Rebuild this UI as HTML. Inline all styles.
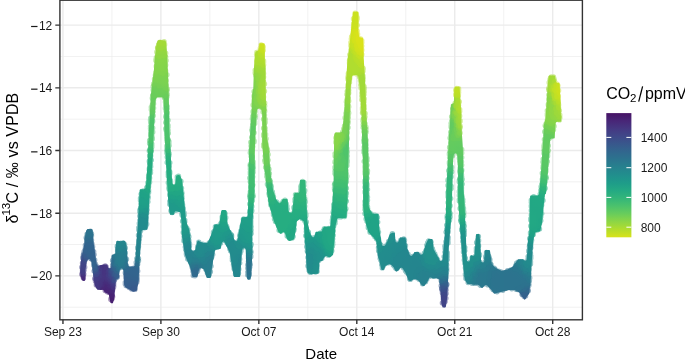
<!DOCTYPE html>
<html><head><meta charset="utf-8"><style>html,body{margin:0;padding:0;background:#fff;overflow:hidden}svg{display:block;will-change:transform}</style></head>
<body><svg width="685" height="363" viewBox="0 0 685 363">
<defs><linearGradient id="cb" x1="0" y1="0" x2="0" y2="1"><stop offset="0.0000" stop-color="#471365"/><stop offset="0.0625" stop-color="#482677"/><stop offset="0.1250" stop-color="#453882"/><stop offset="0.1875" stop-color="#3f4889"/><stop offset="0.2500" stop-color="#38588c"/><stop offset="0.3125" stop-color="#31678e"/><stop offset="0.3750" stop-color="#2b748e"/><stop offset="0.4375" stop-color="#26828e"/><stop offset="0.5000" stop-color="#218f8d"/><stop offset="0.5625" stop-color="#1e9c89"/><stop offset="0.6250" stop-color="#24aa83"/><stop offset="0.6875" stop-color="#34b679"/><stop offset="0.7500" stop-color="#4cc26c"/><stop offset="0.8125" stop-color="#69cd5b"/><stop offset="0.8750" stop-color="#8ed645"/><stop offset="0.9375" stop-color="#b2dd2d"/><stop offset="1.0000" stop-color="#d8e219"/></linearGradient></defs>
<rect x="0" y="0" width="685" height="363" fill="#fff"/>
<path d="M59.9 56.49H582.4M59.9 119.17H582.4M59.9 181.85H582.4M59.9 244.53H582.4M59.9 307.21H582.4M111.93 0.2V319.8M209.88 0.2V319.8M307.83 0.2V319.8M405.78 0.2V319.8M503.73 0.2V319.8" stroke="#EBEBEB" stroke-width="0.72" fill="none"/>
<path d="M59.9 25.15H582.4M59.9 87.83H582.4M59.9 150.51H582.4M59.9 213.19H582.4M59.9 275.87H582.4M62.95 0.2V319.8M160.90 0.2V319.8M258.85 0.2V319.8M356.80 0.2V319.8M454.75 0.2V319.8M552.71 0.2V319.8" stroke="#EBEBEB" stroke-width="1.42" fill="none"/>
<defs><clipPath id="bandclip"><path d="M80.2 268.0L80.2 268.1L80.2 271.8L80.2 272.0L81.3 278.5L81.5 278.9L82.3 280.3L82.6 280.6L83.0 280.8L83.5 280.9L83.9 281.0L84.3 280.9L84.5 280.7L84.9 280.5L85.1 280.2L85.2 279.8L85.6 270.0L85.6 269.8L86.6 262.1L86.8 261.4L87.5 259.9L87.9 259.4L88.4 259.1L89.0 259.0L89.6 259.1L90.1 259.4L90.5 259.9L91.2 261.4L91.4 262.0L92.4 267.8L92.4 268.0L93.4 277.8L93.4 277.9L94.8 285.5L94.9 285.8L96.8 289.1L97.1 289.5L97.6 289.7L100.8 290.0L101.3 290.0L101.4 289.9L102.1 289.7L102.7 289.8L103.3 290.0L103.7 290.6L104.5 292.0L104.7 292.3L105.0 292.5L107.8 293.8L108.5 294.3L108.9 295.1L109.8 299.8L109.8 299.8L110.5 302.5L110.7 302.9L111.1 303.2L111.5 303.3L112.0 303.3L112.5 303.2L112.9 302.9L113.1 302.5L114.0 299.7L114.0 299.5L115.0 289.8L115.0 289.7L115.6 280.6L115.8 279.8L116.2 279.3L117.0 279.0L117.8 278.8L118.1 278.7L118.4 278.5L118.6 278.2L119.1 276.9L119.1 276.6L119.7 270.1L119.9 269.4L120.0 269.2L120.4 268.6L121.0 268.3L121.6 268.2L122.2 268.3L122.7 268.7L123.0 269.4L123.4 270.6L123.5 271.1L124.1 284.6L124.2 285.0L125.1 287.0L125.3 287.3L125.6 287.5L128.2 288.8L128.5 288.9L132.6 291.6L133.0 291.8L133.5 291.7L136.4 290.7L136.7 290.5L137.0 290.2L137.1 289.9L138.6 281.3L138.6 281.1L139.4 264.8L139.4 264.7L140.7 244.9L140.7 244.9L141.6 231.7L141.7 231.0L142.0 230.5L142.5 230.2L143.1 230.1L146.5 229.8L146.9 229.7L147.2 229.5L147.5 229.2L147.6 228.8L147.8 226.3L147.8 226.2L148.6 213.0L148.6 212.9L149.4 196.5L149.4 196.4L151.5 178.0L151.5 177.9L153.1 150.0L153.1 150.0L154.1 125.0L154.1 124.9L155.6 100.2L155.8 99.4L156.5 98.1L156.9 97.5L157.4 97.2L158.0 97.1L161.7 97.1L162.4 97.2L162.9 97.5L163.3 98.0L163.4 98.7L164.2 109.9L164.2 110.0L164.4 130.0L164.4 130.0L166.4 169.9L166.4 170.0L167.3 185.9L167.3 185.9L168.2 199.9L168.2 199.9L169.4 211.7L169.4 211.9L170.0 214.0L170.2 214.4L170.6 214.7L171.0 214.8L173.1 214.8L173.6 214.7L174.0 214.4L174.2 213.9L174.4 212.6L174.7 211.9L175.2 211.5L175.8 211.3L176.5 211.3L179.3 212.0L180.0 212.3L180.4 212.8L180.7 213.5L181.7 224.9L181.7 225.1L181.7 232.9L181.7 233.0L183.4 245.4L183.4 245.5L185.0 254.7L185.0 254.9L187.5 261.6L187.5 261.7L190.4 267.7L190.5 268.2L192.1 276.0L192.4 276.5L192.7 276.8L193.2 276.9L196.7 276.9L197.0 276.8L197.4 276.6L197.6 276.4L197.7 276.0L199.1 269.1L199.4 268.5L199.8 268.0L200.4 267.8L201.0 267.8L201.6 268.0L203.3 269.1L203.8 269.5L204.1 270.1L206.4 277.1L206.6 277.5L207.0 277.8L207.4 277.9L210.0 277.9L210.4 277.8L210.7 277.6L211.0 277.3L211.1 276.9L211.9 268.2L211.9 268.0L214.7 251.2L215.0 250.5L215.3 250.1L215.9 249.8L218.1 249.1L218.8 249.0L219.5 249.0L219.9 249.0L220.3 248.8L220.5 248.5L220.7 248.2L221.5 243.9L221.6 243.6L222.0 242.7L222.4 242.0L222.9 241.7L223.6 241.6L224.2 241.7L224.7 242.1L225.1 242.8L225.7 245.0L225.8 245.3L227.7 248.5L227.9 248.7L229.9 253.3L230.0 253.8L232.1 267.3L232.1 267.4L233.5 275.4L233.5 275.7L233.8 276.4L234.1 276.8L234.4 277.0L234.8 277.1L239.1 277.1L239.5 277.0L239.9 276.8L240.1 276.5L240.2 276.1L241.1 262.0L241.1 261.9L241.9 252.0L241.9 251.8L242.3 249.2L242.6 248.5L243.0 248.0L243.6 247.8L244.2 247.7L244.8 248.0L245.2 248.4L245.5 249.0L245.7 249.7L245.7 250.1L246.2 262.0L246.2 262.0L246.7 275.9L246.7 276.0L247.1 278.8L247.3 279.1L247.5 279.4L247.8 279.6L248.2 279.7L249.6 279.7L249.9 279.6L250.3 279.4L250.5 279.2L250.6 278.8L251.4 275.0L251.4 274.8L252.1 258.6L252.1 258.6L252.3 240.0L252.3 240.0L252.6 220.0L252.6 219.9L254.6 190.0L254.6 189.9L254.8 150.0L254.8 149.9L256.4 115.0L256.4 114.8L257.0 110.1L257.2 109.5L257.6 109.0L258.1 108.7L258.7 108.6L259.8 108.6L260.5 108.7L260.9 109.0L261.3 109.4L261.5 110.0L262.3 114.8L262.3 115.1L262.3 144.9L262.3 145.0L263.9 164.9L263.9 164.9L265.7 177.9L265.7 177.9L267.3 194.5L267.3 194.5L268.9 204.7L268.9 204.9L270.5 209.6L270.6 209.7L273.8 221.1L273.9 221.3L278.6 232.2L279.0 232.6L280.2 233.5L280.6 233.7L281.0 233.8L281.4 233.6L281.8 233.3L282.2 232.7L282.7 232.2L283.2 232.0L283.8 232.0L284.3 232.2L284.8 232.6L285.1 233.2L286.9 238.8L287.0 239.1L287.3 239.4L289.1 240.7L289.5 240.9L289.8 240.9L290.2 240.8L293.6 239.4L294.0 239.1L294.2 238.6L295.6 231.4L295.6 231.3L296.6 222.3L296.8 221.6L297.3 221.0L298.9 219.7L299.6 219.3L300.3 219.3L301.0 219.6L303.1 221.0L303.7 221.6L303.9 222.4L304.9 239.9L304.9 239.9L306.0 253.7L306.0 253.8L306.7 268.6L306.7 268.9L308.0 272.8L308.3 273.2L308.7 273.5L310.5 274.1L311.0 274.2L317.5 273.8L317.9 273.7L318.2 273.5L318.5 273.2L318.6 272.8L319.5 262.6L319.8 261.8L320.3 261.3L321.0 261.0L321.9 260.9L322.4 260.7L322.7 260.3L324.6 256.8L325.1 256.2L325.6 255.9L326.2 255.9L326.9 256.1L329.1 257.2L329.5 257.3L330.0 257.3L330.3 257.0L332.8 254.9L333.1 254.6L333.2 254.2L333.8 246.8L333.8 246.8L334.6 237.9L334.6 237.9L335.6 226.0L335.6 225.7L337.0 219.5L337.3 218.7L337.9 218.3L338.6 218.1L345.5 217.9L345.8 217.8L346.2 217.5L346.4 217.2L346.5 216.8L347.6 200.0L347.6 199.9L348.1 170.0L348.1 170.0L349.8 115.0L349.8 115.0L350.6 88.0L350.6 87.8L352.0 76.6L352.2 76.0L352.6 75.5L353.1 75.2L353.7 75.1L356.6 75.1L357.2 75.2L357.7 75.5L358.1 76.0L358.3 76.6L359.8 87.8L359.8 88.0L361.5 114.9L361.5 115.0L362.4 149.9L362.4 150.0L363.1 164.9L363.1 165.0L363.1 205.9L363.1 206.0L363.9 214.8L363.9 214.9L365.7 222.8L365.7 222.9L368.4 232.1L368.7 232.5L374.0 237.9L374.3 238.2L376.3 241.3L376.6 242.2L378.2 257.4L378.3 257.7L379.0 259.3L379.1 259.7L381.3 269.2L381.5 269.6L381.7 269.9L382.1 270.0L382.6 270.1L383.1 270.1L383.6 269.9L383.9 269.6L385.4 266.3L385.8 265.8L386.3 265.4L388.9 264.2L389.6 264.1L390.2 264.2L390.9 264.6L393.6 267.3L394.0 267.9L395.4 270.9L395.7 271.2L396.1 271.4L396.5 271.5L396.9 271.4L398.0 270.8L398.4 270.5L399.9 268.4L400.4 268.0L401.0 267.8L401.6 267.8L402.2 268.0L402.7 268.5L405.3 272.5L405.5 272.9L408.4 280.0L408.7 280.4L409.1 280.7L410.5 281.0L411.0 281.0L411.4 280.8L413.6 279.3L414.2 279.0L414.7 278.9L415.3 279.1L418.0 280.3L418.8 281.1L421.5 285.1L421.8 285.4L422.2 285.6L423.5 285.9L423.9 285.9L424.3 285.8L424.6 285.5L427.0 282.6L427.1 282.4L429.0 278.5L429.5 277.8L430.1 277.5L430.7 277.5L431.5 277.8L432.4 278.4L432.9 278.6L433.4 278.6L435.5 278.0L436.0 277.9L436.6 278.1L438.3 278.7L438.9 279.0L439.3 279.5L439.5 280.1L440.4 288.1L440.4 288.2L441.3 303.3L441.3 303.6L442.4 306.8L442.6 307.2L443.0 307.5L443.5 307.6L444.8 307.6L445.2 307.5L445.5 307.3L445.7 307.0L445.9 306.7L447.2 297.8L447.2 297.7L448.2 278.6L448.2 278.6L448.6 250.0L448.6 249.9L451.4 215.0L451.4 214.9L452.2 190.0L452.2 190.0L453.1 160.0L453.1 159.8L453.9 154.7L454.1 154.0L454.5 153.5L455.1 153.2L455.7 153.2L456.3 153.4L456.8 153.9L457.0 154.2L457.3 154.7L457.4 155.3L458.1 169.9L458.1 170.0L458.1 199.9L458.1 200.0L460.4 231.9L460.4 231.9L461.4 244.9L461.4 244.9L463.5 268.9L463.5 268.9L464.8 279.5L465.0 279.9L467.2 283.6L467.4 283.9L467.8 284.0L468.1 284.1L470.1 284.1L470.5 284.1L474.2 284.8L474.4 284.8L477.7 284.8L478.4 284.9L479.0 285.3L481.2 287.5L481.6 287.8L482.0 287.9L482.4 287.8L482.8 287.5L484.7 285.6L485.3 285.2L485.9 285.1L486.5 285.2L487.1 285.6L490.5 288.9L490.7 289.1L493.7 293.2L494.0 293.5L494.4 293.6L494.9 293.6L498.8 292.6L498.8 292.6L504.1 291.3L504.1 291.3L509.1 290.1L509.7 290.0L514.3 290.0L515.5 290.3L519.0 292.6L519.6 293.1L523.3 298.2L523.4 298.3L523.7 298.9L524.0 299.2L524.4 299.4L524.9 299.4L525.3 299.2L525.6 298.9L527.0 296.6L527.1 296.5L528.9 293.9L529.1 293.4L530.9 278.6L530.9 278.5L532.2 255.0L532.2 254.9L533.2 240.1L533.3 239.6L535.0 233.3L535.3 232.7L535.7 232.3L536.4 232.0L539.4 231.5L539.8 231.4L540.1 231.1L540.3 230.7L541.9 223.5L541.9 223.4L544.7 195.4L544.9 194.7L545.3 194.2L545.4 194.1L545.7 193.9L546.0 193.6L546.0 193.2L547.8 172.9L547.8 172.9L549.8 144.2L549.8 144.2L550.1 140.2L550.2 139.5L550.6 139.0L551.1 138.7L551.8 138.6L553.6 138.6L554.0 138.5L554.4 138.3L554.6 138.0L554.7 137.6L555.1 130.0L555.1 129.9L555.6 123.4L555.8 122.7L556.2 122.2L556.7 121.9L557.3 121.8L559.9 121.8L560.3 121.7L560.7 121.5L560.9 121.2L561.0 120.8L561.1 119.8L561.1 119.7L560.4 98.7L560.4 98.6L559.7 84.1L559.6 83.7L559.4 83.4L559.0 83.2L558.6 83.1L557.7 83.1L556.9 82.9L556.3 82.5L556.0 81.7L555.6 80.2L555.6 80.1L555.1 76.3L554.9 76.0L554.7 75.7L554.4 75.5L554.0 75.4L549.8 75.4L549.4 75.5L549.0 75.7L548.8 76.0L548.7 76.4L547.9 83.2L547.9 83.2L546.9 98.7L545.6 117.8L545.6 118.1L543.9 125.0L543.9 125.2L542.9 144.3L542.9 144.4L540.9 173.3L540.9 173.3L540.0 185.0L540.0 185.1L539.4 190.1L539.4 190.1L539.0 194.0L538.8 194.6L538.4 195.1L537.9 195.4L537.3 195.5L531.2 195.5L530.8 195.6L530.5 195.8L530.2 196.2L530.1 196.6L529.2 232.9L529.2 233.3L527.9 240.0L527.9 240.2L527.4 250.0L527.4 250.1L526.7 259.2L526.5 259.9L526.1 260.4L525.6 260.7L524.9 260.7L524.4 260.6L523.9 260.2L523.7 259.8L523.4 259.5L523.1 259.3L522.7 259.2L518.9 259.2L518.4 259.3L518.1 259.5L517.1 260.5L517.1 260.6L513.0 266.3L512.3 266.9L507.4 269.4L507.0 269.6L502.2 270.8L501.5 270.8L500.9 270.6L496.2 268.3L495.6 267.9L492.1 264.3L491.7 263.8L491.6 263.2L490.0 250.9L489.9 250.5L489.7 250.2L489.3 250.0L488.9 249.9L486.1 249.9L485.5 250.1L485.3 250.2L485.0 250.6L484.8 251.0L484.3 261.0L484.1 261.6L483.7 262.1L483.2 262.4L482.6 262.6L482.1 262.4L481.6 262.1L481.2 261.6L481.1 260.9L480.4 245.1L480.4 245.0L479.6 234.9L479.4 234.5L479.2 234.2L478.9 234.0L478.5 233.9L477.1 233.9L476.7 234.0L476.4 234.2L476.2 234.5L476.0 234.9L475.2 245.0L475.2 245.1L474.6 254.3L474.4 255.0L474.1 255.5L473.5 255.8L472.9 255.9L472.3 255.7L472.1 255.5L471.7 255.3L471.3 255.3L470.9 255.4L470.6 255.6L470.4 256.0L470.3 256.0L470.3 256.3L470.0 259.9L469.8 260.6L469.5 261.1L469.0 261.4L468.4 261.5L467.8 261.4L467.3 261.1L467.0 260.6L466.8 259.9L466.3 248.0L465.6 230.0L465.6 230.0L464.6 205.1L464.6 205.0L463.6 190.1L463.6 190.0L462.9 150.1L462.9 150.0L461.4 125.1L461.4 125.0L461.3 113.1L461.3 113.0L459.9 91.6L459.9 91.5L459.8 87.8L459.7 87.3L459.4 87.0L459.0 86.8L458.6 86.7L455.6 86.8L455.2 87.0L454.8 87.3L454.6 87.7L454.2 90.0L454.2 90.2L453.9 102.2L453.8 102.9L453.4 103.4L452.9 103.8L452.1 103.9L452.1 103.9L451.9 104.0L451.5 104.2L451.3 104.5L451.2 104.8L450.7 108.0L450.7 108.1L449.9 124.6L449.9 124.7L449.0 135.0L449.0 135.1L447.9 160.0L447.9 160.0L446.4 190.0L446.4 190.0L445.7 220.0L445.7 220.1L444.4 240.0L444.4 240.1L443.4 250.1L443.4 250.1L442.6 259.5L442.4 260.1L442.1 260.6L441.6 260.9L441.0 261.0L440.4 260.9L439.9 260.6L439.5 260.1L437.7 256.4L437.7 256.4L433.9 249.7L433.7 248.9L432.6 239.9L432.5 239.5L432.3 239.2L431.9 239.0L431.5 238.9L429.1 238.9L428.7 239.0L428.4 239.1L428.2 239.4L427.5 240.4L427.5 240.5L425.4 245.2L425.3 245.4L423.0 253.7L422.7 254.3L422.2 254.7L421.7 254.9L421.1 254.9L420.6 254.7L420.1 254.2L418.7 252.3L418.3 252.0L417.8 251.9L415.1 251.9L414.8 252.0L414.4 252.2L414.2 252.4L412.7 255.0L412.2 255.5L411.7 255.8L411.1 255.9L410.5 255.7L410.1 255.3L409.7 254.8L407.4 248.6L407.3 248.2L405.7 238.4L405.6 238.1L405.3 237.8L405.0 237.6L404.6 237.5L400.8 237.5L400.4 237.6L400.0 237.8L399.8 238.1L399.5 238.9L399.4 239.0L398.6 241.3L398.2 241.9L397.7 242.3L397.2 242.5L396.5 242.4L396.0 242.1L395.6 241.6L395.5 240.9L394.9 233.7L394.8 233.3L394.6 233.0L394.2 232.8L393.8 232.7L392.4 232.7L391.8 232.9L390.0 234.1L389.7 234.3L389.5 234.6L386.9 242.5L386.6 243.1L384.9 245.4L384.3 245.9L383.8 246.1L383.1 246.1L382.6 245.8L382.2 245.4L381.9 244.7L379.3 229.1L379.3 228.9L378.6 214.9L378.5 214.5L378.3 214.2L377.9 214.0L377.5 213.9L373.5 213.9L372.9 213.8L372.4 213.6L372.0 213.1L370.3 210.6L370.1 210.1L368.8 206.5L368.7 205.8L368.7 170.0L368.7 170.0L367.9 140.1L367.9 140.0L366.3 115.1L366.3 115.0L365.5 88.1L365.5 88.0L363.8 60.1L363.8 60.0L363.4 45.1L363.4 45.0L363.1 38.8L363.0 38.4L362.6 38.0L362.2 37.8L360.5 37.5L359.7 37.2L359.3 36.7L359.0 36.0L358.3 30.2L358.3 29.9L358.5 16.6L358.5 16.5L358.2 12.7L358.1 12.3L357.8 12.0L357.4 11.7L357.0 11.7L354.0 11.8L353.6 11.9L353.3 12.1L353.1 12.4L353.0 12.8L352.4 16.6L352.4 16.6L350.7 33.2L350.7 33.2L349.1 49.6L349.1 49.8L347.4 60.0L347.4 60.2L345.8 88.0L345.8 88.1L344.1 115.0L344.1 115.1L342.9 125.1L342.9 125.2L342.0 130.9L341.8 131.6L341.4 132.0L340.9 132.3L340.3 132.4L335.9 132.4L335.5 132.5L335.1 132.8L334.9 133.1L334.3 135.0L334.2 135.3L333.6 180.0L333.6 180.1L332.6 199.3L332.6 199.4L331.4 215.1L331.4 215.1L330.6 225.1L330.4 225.7L330.1 226.2L329.6 226.5L328.9 226.6L324.4 226.8L324.0 226.9L323.6 227.2L323.4 227.6L322.3 230.5L322.0 231.1L321.5 231.5L320.8 231.6L316.3 231.8L315.8 232.0L315.5 232.3L315.3 232.7L314.7 235.8L314.4 236.5L313.9 237.0L313.3 237.2L312.7 237.2L312.1 236.8L311.6 236.2L309.8 232.6L309.6 232.0L307.2 220.3L307.2 219.9L306.4 201.4L306.4 201.3L305.5 184.9L305.5 184.9L305.2 180.9L305.1 180.5L304.9 180.2L304.5 180.0L304.1 179.9L301.0 179.9L300.6 180.0L300.2 180.2L300.0 180.5L299.9 181.0L299.4 191.5L299.3 192.1L298.9 192.6L298.4 193.0L297.7 193.1L295.3 193.1L294.9 193.2L294.5 193.4L294.3 193.7L294.2 194.1L294.0 195.5L294.0 195.5L292.3 211.3L292.1 212.0L291.7 212.4L291.2 212.7L290.6 212.8L290.0 212.7L289.4 212.2L288.9 211.7L288.5 211.1L288.4 210.5L287.7 199.9L287.6 199.5L287.4 199.2L287.0 199.0L286.6 198.9L283.7 198.9L283.3 199.0L283.0 199.1L282.7 199.4L282.3 199.8L281.3 202.1L280.9 202.8L280.3 203.1L279.7 203.2L279.1 203.0L278.5 202.5L276.4 199.7L276.1 199.1L273.2 190.4L273.1 190.1L271.1 178.2L271.1 178.0L269.9 165.1L269.9 165.0L268.8 148.2L268.8 148.0L267.1 137.8L267.1 137.6L266.3 121.1L266.3 121.0L265.7 88.0L265.7 88.0L265.5 66.6L265.5 66.4L264.9 63.3L264.9 62.9L264.7 44.4L264.6 44.0L264.4 43.6L264.0 43.4L263.6 43.3L260.4 43.3L260.0 43.4L259.6 43.6L259.4 43.9L259.3 44.3L259.0 49.4L258.8 50.2L258.4 50.7L257.6 51.0L256.3 51.3L255.9 51.5L255.6 51.8L255.4 52.2L254.9 54.8L254.9 55.0L253.8 71.3L253.8 71.4L253.3 87.9L253.3 88.2L252.1 95.0L252.1 95.2L251.6 112.0L251.6 112.1L250.4 130.1L250.4 130.1L249.1 150.0L249.1 150.1L248.5 190.0L248.5 190.0L247.9 215.3L247.8 216.0L247.5 216.4L247.0 216.8L246.3 217.0L242.4 217.3L242.0 217.4L241.6 217.7L241.4 218.2L240.7 222.6L240.7 222.7L238.9 231.3L238.9 231.4L237.9 239.0L237.8 239.4L237.6 240.0L237.2 240.6L236.7 241.0L236.1 241.2L235.5 241.0L234.9 240.7L234.5 240.0L232.8 235.3L232.7 235.2L229.1 227.8L229.1 227.7L227.7 224.5L227.6 223.9L226.5 211.1L226.4 210.7L226.1 210.4L225.8 210.2L225.4 210.1L222.3 210.1L221.9 210.2L221.5 210.4L221.3 210.7L221.2 211.1L219.6 223.0L219.4 223.6L219.0 224.1L218.5 224.4L217.9 224.5L215.3 224.5L214.8 224.6L214.4 224.9L214.2 225.4L213.7 227.8L213.6 228.1L210.8 235.7L210.7 235.8L208.1 242.0L207.6 242.6L207.1 243.0L206.4 243.1L204.3 243.1L203.6 243.0L201.1 242.1L200.6 241.9L199.1 240.9L198.7 240.7L198.2 240.8L197.8 241.0L197.5 241.3L197.2 241.8L195.4 249.0L195.2 249.6L194.7 250.5L194.2 251.0L193.6 251.3L193.0 251.3L192.4 251.1L191.9 250.6L191.9 250.6L191.5 249.6L190.2 237.5L190.2 237.5L189.4 230.4L189.4 230.1L187.2 224.4L187.1 224.1L185.8 218.1L185.8 217.8L183.9 198.7L182.0 179.8L181.9 179.4L180.7 177.0L180.7 176.9L179.9 175.5L179.6 175.2L179.2 175.0L178.8 175.0L177.1 175.2L176.7 175.4L176.4 175.7L176.2 176.1L175.7 180.1L175.7 180.1L175.4 183.0L175.2 183.7L174.9 184.2L174.4 184.5L173.8 184.6L173.2 184.4L172.7 184.1L172.4 183.6L172.2 183.0L171.5 170.1L171.5 170.0L170.5 150.1L170.5 150.0L169.4 130.1L169.4 130.0L168.9 104.5L168.9 104.5L168.5 88.2L168.5 88.2L168.0 73.4L168.0 73.3L167.2 56.9L167.2 56.9L166.1 42.8L166.1 42.6L165.6 41.1L165.4 40.8L165.0 40.5L164.6 40.4L160.1 40.1L159.9 40.1L158.4 40.3L158.0 40.5L157.7 40.7L157.5 41.1L156.6 43.7L156.6 43.9L154.9 57.1L154.9 57.1L153.9 70.0L153.9 70.1L152.7 80.1L150.9 95.0L150.9 95.1L149.4 120.0L149.4 120.0L148.3 145.0L147.4 165.0L147.4 165.1L146.3 182.0L146.3 182.2L145.5 187.7L145.3 188.4L144.9 188.8L144.4 189.1L143.8 189.2L140.8 189.2L140.4 189.3L140.1 189.5L139.8 189.8L139.7 190.0L139.6 190.5L138.8 205.0L138.8 205.0L138.0 223.0L138.0 223.1L137.2 232.6L137.2 232.6L136.2 246.5L136.2 246.5L135.3 260.1L135.3 260.1L135.0 264.9L134.8 265.6L134.4 266.1L133.9 266.4L133.2 266.5L129.8 266.5L129.1 266.4L128.6 266.1L128.2 265.6L128.0 264.9L127.4 256.1L127.4 256.1L126.8 248.2L126.8 248.1L125.7 242.2L125.6 241.8L125.4 241.5L124.3 240.7L124.0 240.5L123.6 240.4L123.3 240.5L121.6 241.1L120.6 241.2L117.6 240.8L117.1 240.8L116.8 241.0L116.5 241.3L116.3 241.7L115.9 245.0L115.9 245.1L115.4 252.9L115.2 253.7L114.7 254.2L114.0 254.5L112.9 254.7L112.5 254.8L112.1 255.2L112.0 255.6L111.5 259.0L111.5 259.1L111.2 266.8L111.1 267.5L110.7 268.0L110.2 268.4L109.6 268.5L109.0 268.3L108.5 268.0L108.1 267.3L107.4 265.5L107.2 265.1L106.9 264.9L106.5 264.8L104.2 264.5L103.9 264.5L99.7 265.3L99.4 265.4L99.4 265.4L98.7 265.7L98.1 265.7L97.5 265.4L97.1 265.0L96.8 264.3L95.9 258.9L95.9 258.8L94.7 250.6L94.7 250.6L93.3 240.2L93.3 240.0L92.9 232.2L92.9 231.9L92.3 229.8L92.1 229.4L91.7 229.1L91.3 229.0L88.6 228.9L88.4 228.9L87.8 229.0L87.4 229.1L87.1 229.4L86.5 230.2L86.3 230.6L85.3 234.0L85.3 234.2L84.3 243.8L84.3 244.0L82.8 251.8L82.8 252.0L81.2 258.1L81.2 258.2L80.2 268.0Z"/></clipPath><linearGradient id="g0" x1="0" y1="0" x2="0" y2="1"><stop offset="0" stop-color="#3f4889"/><stop offset="0.5" stop-color="#424186"/><stop offset="1" stop-color="#472c7a"/></linearGradient><linearGradient id="g1" x1="0" y1="0" x2="0" y2="1"><stop offset="0" stop-color="#365c8d"/><stop offset="0.25" stop-color="#3d4d8a"/><stop offset="0.5" stop-color="#414487"/><stop offset="0.75" stop-color="#46327e"/><stop offset="1" stop-color="#482576"/></linearGradient><linearGradient id="g2" x1="0" y1="0" x2="0" y2="1"><stop offset="0" stop-color="#2f6b8e"/><stop offset="0.167" stop-color="#33638d"/><stop offset="0.333" stop-color="#365d8d"/><stop offset="0.5" stop-color="#3e4a89"/><stop offset="0.667" stop-color="#414487"/><stop offset="0.833" stop-color="#472f7d"/><stop offset="1" stop-color="#482677"/></linearGradient><linearGradient id="g3" x1="0" y1="0" x2="0" y2="1"><stop offset="0" stop-color="#2c718e"/><stop offset="0.143" stop-color="#2e6f8e"/><stop offset="0.286" stop-color="#32648e"/><stop offset="0.429" stop-color="#34618d"/><stop offset="0.571" stop-color="#3b518b"/><stop offset="0.714" stop-color="#414487"/><stop offset="0.857" stop-color="#453581"/><stop offset="1" stop-color="#472a7a"/></linearGradient><linearGradient id="g4" x1="0" y1="0" x2="0" y2="1"><stop offset="0" stop-color="#2c728e"/><stop offset="0.143" stop-color="#2c718e"/><stop offset="0.286" stop-color="#31668e"/><stop offset="0.429" stop-color="#32648e"/><stop offset="0.571" stop-color="#375b8d"/><stop offset="0.714" stop-color="#3e4c8a"/><stop offset="0.857" stop-color="#424086"/><stop offset="1" stop-color="#46327e"/></linearGradient><linearGradient id="g5" x1="0" y1="0" x2="0" y2="1"><stop offset="0" stop-color="#2c738e"/><stop offset="0.2" stop-color="#2c728e"/><stop offset="0.4" stop-color="#31688e"/><stop offset="0.6" stop-color="#32648e"/><stop offset="0.8" stop-color="#33638d"/><stop offset="1" stop-color="#365d8d"/></linearGradient><linearGradient id="g6" x1="0" y1="0" x2="0" y2="1"><stop offset="0" stop-color="#2c728e"/><stop offset="0.167" stop-color="#2c718e"/><stop offset="0.333" stop-color="#31668e"/><stop offset="0.5" stop-color="#32648e"/><stop offset="0.667" stop-color="#34618d"/><stop offset="0.833" stop-color="#32648e"/><stop offset="1" stop-color="#3b518b"/></linearGradient><linearGradient id="g7" x1="0" y1="0" x2="0" y2="1"><stop offset="0" stop-color="#2c718e"/><stop offset="0.125" stop-color="#2d708e"/><stop offset="0.25" stop-color="#31668e"/><stop offset="0.375" stop-color="#33638d"/><stop offset="0.5" stop-color="#34618d"/><stop offset="0.625" stop-color="#31668e"/><stop offset="0.75" stop-color="#375b8d"/><stop offset="0.875" stop-color="#423f85"/><stop offset="1" stop-color="#443983"/></linearGradient><linearGradient id="g8" x1="0" y1="0" x2="0" y2="1"><stop offset="0" stop-color="#2e6e8e"/><stop offset="0.143" stop-color="#32658e"/><stop offset="0.286" stop-color="#34618d"/><stop offset="0.429" stop-color="#34618d"/><stop offset="0.571" stop-color="#33638d"/><stop offset="0.714" stop-color="#3e4a89"/><stop offset="0.857" stop-color="#453882"/><stop offset="1" stop-color="#453882"/></linearGradient><linearGradient id="g9" x1="0" y1="0" x2="0" y2="1"><stop offset="0" stop-color="#365d8d"/><stop offset="0.2" stop-color="#375b8d"/><stop offset="0.4" stop-color="#3a548c"/><stop offset="0.6" stop-color="#424186"/><stop offset="0.8" stop-color="#453882"/><stop offset="1" stop-color="#453781"/></linearGradient><linearGradient id="g10" x1="0" y1="0" x2="0" y2="1"><stop offset="0" stop-color="#3f4788"/><stop offset="0.25" stop-color="#423f85"/><stop offset="0.5" stop-color="#443a83"/><stop offset="0.75" stop-color="#453781"/><stop offset="1" stop-color="#46337f"/></linearGradient><linearGradient id="g11" x1="0" y1="0" x2="0" y2="1"><stop offset="0" stop-color="#443a83"/><stop offset="0.25" stop-color="#463480"/><stop offset="0.5" stop-color="#453882"/><stop offset="0.75" stop-color="#46337f"/><stop offset="1" stop-color="#472c7a"/></linearGradient><linearGradient id="g12" x1="0" y1="0" x2="0" y2="1"><stop offset="0" stop-color="#453781"/><stop offset="0.25" stop-color="#46327e"/><stop offset="0.5" stop-color="#453581"/><stop offset="0.75" stop-color="#482979"/><stop offset="1" stop-color="#482677"/></linearGradient><linearGradient id="g13" x1="0" y1="0" x2="0" y2="1"><stop offset="0" stop-color="#453882"/><stop offset="0.25" stop-color="#46337f"/><stop offset="0.5" stop-color="#463480"/><stop offset="0.75" stop-color="#482576"/><stop offset="1" stop-color="#482576"/></linearGradient><linearGradient id="g14" x1="0" y1="0" x2="0" y2="1"><stop offset="0" stop-color="#433e85"/><stop offset="0.25" stop-color="#453882"/><stop offset="0.5" stop-color="#463480"/><stop offset="0.75" stop-color="#482677"/><stop offset="1" stop-color="#482475"/></linearGradient><linearGradient id="g15" x1="0" y1="0" x2="0" y2="1"><stop offset="0" stop-color="#3f4889"/><stop offset="0.2" stop-color="#424086"/><stop offset="0.4" stop-color="#453781"/><stop offset="0.6" stop-color="#482878"/><stop offset="0.8" stop-color="#482071"/><stop offset="1" stop-color="#482071"/></linearGradient><linearGradient id="g16" x1="0" y1="0" x2="0" y2="1"><stop offset="0" stop-color="#2f6b8e"/><stop offset="0.143" stop-color="#355e8d"/><stop offset="0.286" stop-color="#3c508b"/><stop offset="0.429" stop-color="#404688"/><stop offset="0.571" stop-color="#453882"/><stop offset="0.714" stop-color="#482979"/><stop offset="0.857" stop-color="#481f70"/><stop offset="1" stop-color="#482071"/></linearGradient><linearGradient id="g17" x1="0" y1="0" x2="0" y2="1"><stop offset="0" stop-color="#2c738e"/><stop offset="0.143" stop-color="#2e6d8e"/><stop offset="0.286" stop-color="#355f8d"/><stop offset="0.429" stop-color="#3c508b"/><stop offset="0.571" stop-color="#424086"/><stop offset="0.714" stop-color="#472e7c"/><stop offset="0.857" stop-color="#482071"/><stop offset="1" stop-color="#482173"/></linearGradient><linearGradient id="g18" x1="0" y1="0" x2="0" y2="1"><stop offset="0" stop-color="#25848e"/><stop offset="0.111" stop-color="#26818e"/><stop offset="0.222" stop-color="#2a788e"/><stop offset="0.333" stop-color="#2b758e"/><stop offset="0.444" stop-color="#306a8e"/><stop offset="0.556" stop-color="#375a8c"/><stop offset="0.667" stop-color="#3e4c8a"/><stop offset="0.778" stop-color="#453882"/><stop offset="0.889" stop-color="#482677"/><stop offset="1" stop-color="#482475"/></linearGradient><linearGradient id="g19" x1="0" y1="0" x2="0" y2="1"><stop offset="0" stop-color="#24878e"/><stop offset="0.143" stop-color="#25858e"/><stop offset="0.286" stop-color="#287c8e"/><stop offset="0.429" stop-color="#297b8e"/><stop offset="0.571" stop-color="#2c718e"/><stop offset="0.714" stop-color="#34608d"/><stop offset="0.857" stop-color="#39558c"/><stop offset="1" stop-color="#404588"/></linearGradient><linearGradient id="g20" x1="0" y1="0" x2="0" y2="1"><stop offset="0" stop-color="#23888e"/><stop offset="0.2" stop-color="#24868e"/><stop offset="0.4" stop-color="#287c8e"/><stop offset="0.6" stop-color="#297b8e"/><stop offset="0.8" stop-color="#31678e"/><stop offset="1" stop-color="#365d8d"/></linearGradient><linearGradient id="g21" x1="0" y1="0" x2="0" y2="1"><stop offset="0" stop-color="#23888e"/><stop offset="0.2" stop-color="#24868e"/><stop offset="0.4" stop-color="#287d8e"/><stop offset="0.6" stop-color="#287c8e"/><stop offset="0.8" stop-color="#2f6c8e"/><stop offset="1" stop-color="#34608d"/></linearGradient><linearGradient id="g22" x1="0" y1="0" x2="0" y2="1"><stop offset="0" stop-color="#24878e"/><stop offset="0.143" stop-color="#24868e"/><stop offset="0.286" stop-color="#277e8e"/><stop offset="0.429" stop-color="#297b8e"/><stop offset="0.571" stop-color="#2c738e"/><stop offset="0.714" stop-color="#33628d"/><stop offset="0.857" stop-color="#355f8d"/><stop offset="1" stop-color="#365d8d"/></linearGradient><linearGradient id="g23" x1="0" y1="0" x2="0" y2="1"><stop offset="0" stop-color="#25858e"/><stop offset="0.143" stop-color="#25838e"/><stop offset="0.286" stop-color="#287c8e"/><stop offset="0.429" stop-color="#2a778e"/><stop offset="0.571" stop-color="#2e6d8e"/><stop offset="0.714" stop-color="#34618d"/><stop offset="0.857" stop-color="#355f8d"/><stop offset="1" stop-color="#365c8d"/></linearGradient><linearGradient id="g24" x1="0" y1="0" x2="0" y2="1"><stop offset="0" stop-color="#25838e"/><stop offset="0.143" stop-color="#27808e"/><stop offset="0.286" stop-color="#29798e"/><stop offset="0.429" stop-color="#2c718e"/><stop offset="0.571" stop-color="#31688e"/><stop offset="0.714" stop-color="#34618d"/><stop offset="0.857" stop-color="#355f8d"/><stop offset="1" stop-color="#365c8d"/></linearGradient><linearGradient id="g25" x1="0" y1="0" x2="0" y2="1"><stop offset="0" stop-color="#287d8e"/><stop offset="0.2" stop-color="#2c728e"/><stop offset="0.4" stop-color="#31678e"/><stop offset="0.6" stop-color="#33638d"/><stop offset="0.8" stop-color="#355e8d"/><stop offset="1" stop-color="#375b8d"/></linearGradient><linearGradient id="g26" x1="0" y1="0" x2="0" y2="1"><stop offset="0" stop-color="#31678e"/><stop offset="0.25" stop-color="#32658e"/><stop offset="0.5" stop-color="#34618d"/><stop offset="0.75" stop-color="#375b8d"/><stop offset="1" stop-color="#375b8d"/></linearGradient><linearGradient id="g27" x1="0" y1="0" x2="0" y2="1"><stop offset="0" stop-color="#31678e"/><stop offset="0.25" stop-color="#32658e"/><stop offset="0.5" stop-color="#34618d"/><stop offset="0.75" stop-color="#375b8d"/><stop offset="1" stop-color="#375a8c"/></linearGradient><linearGradient id="g28" x1="0" y1="0" x2="0" y2="1"><stop offset="0" stop-color="#24878e"/><stop offset="0.125" stop-color="#25838e"/><stop offset="0.25" stop-color="#25838e"/><stop offset="0.375" stop-color="#287d8e"/><stop offset="0.5" stop-color="#31688e"/><stop offset="0.625" stop-color="#32658e"/><stop offset="0.75" stop-color="#33628d"/><stop offset="0.875" stop-color="#375b8d"/><stop offset="1" stop-color="#375b8d"/></linearGradient><linearGradient id="g29" x1="0" y1="0" x2="0" y2="1"><stop offset="0" stop-color="#1f9f88"/><stop offset="0.0833" stop-color="#1f968b"/><stop offset="0.167" stop-color="#228d8d"/><stop offset="0.25" stop-color="#238a8d"/><stop offset="0.333" stop-color="#23898e"/><stop offset="0.417" stop-color="#24868e"/><stop offset="0.5" stop-color="#25848e"/><stop offset="0.583" stop-color="#26828e"/><stop offset="0.667" stop-color="#2d708e"/><stop offset="0.75" stop-color="#31668e"/><stop offset="0.833" stop-color="#32648e"/><stop offset="0.917" stop-color="#365d8d"/><stop offset="1" stop-color="#375b8d"/></linearGradient><linearGradient id="g30" x1="0" y1="0" x2="0" y2="1"><stop offset="0" stop-color="#20a386"/><stop offset="0.0714" stop-color="#1fa188"/><stop offset="0.143" stop-color="#1fa088"/><stop offset="0.214" stop-color="#1f978b"/><stop offset="0.286" stop-color="#228c8d"/><stop offset="0.357" stop-color="#228b8d"/><stop offset="0.429" stop-color="#23898e"/><stop offset="0.5" stop-color="#24878e"/><stop offset="0.571" stop-color="#25838e"/><stop offset="0.643" stop-color="#26828e"/><stop offset="0.714" stop-color="#2a768e"/><stop offset="0.786" stop-color="#30698e"/><stop offset="0.857" stop-color="#32658e"/><stop offset="0.929" stop-color="#34608d"/><stop offset="1" stop-color="#365d8d"/></linearGradient><linearGradient id="g31" x1="0" y1="0" x2="0" y2="1"><stop offset="0" stop-color="#21a585"/><stop offset="0.0833" stop-color="#1fa188"/><stop offset="0.167" stop-color="#1fa188"/><stop offset="0.25" stop-color="#1e9b8a"/><stop offset="0.333" stop-color="#228d8d"/><stop offset="0.417" stop-color="#228b8d"/><stop offset="0.5" stop-color="#23898e"/><stop offset="0.583" stop-color="#23888e"/><stop offset="0.667" stop-color="#25848e"/><stop offset="0.75" stop-color="#25838e"/><stop offset="0.833" stop-color="#277e8e"/><stop offset="0.917" stop-color="#2c718e"/><stop offset="1" stop-color="#306a8e"/></linearGradient><linearGradient id="g32" x1="0" y1="0" x2="0" y2="1"><stop offset="0" stop-color="#22a884"/><stop offset="0.143" stop-color="#1fa187"/><stop offset="0.286" stop-color="#1fa188"/><stop offset="0.429" stop-color="#1f988b"/><stop offset="0.571" stop-color="#228c8d"/><stop offset="0.714" stop-color="#228b8d"/><stop offset="0.857" stop-color="#23898e"/><stop offset="1" stop-color="#24878e"/></linearGradient><linearGradient id="g33" x1="0" y1="0" x2="0" y2="1"><stop offset="0" stop-color="#25ac82"/><stop offset="0.125" stop-color="#26ad81"/><stop offset="0.25" stop-color="#24aa83"/><stop offset="0.375" stop-color="#1fa187"/><stop offset="0.5" stop-color="#1fa188"/><stop offset="0.625" stop-color="#1f998a"/><stop offset="0.75" stop-color="#228d8d"/><stop offset="0.875" stop-color="#228b8d"/><stop offset="1" stop-color="#23898e"/></linearGradient><linearGradient id="g34" x1="0" y1="0" x2="0" y2="1"><stop offset="0" stop-color="#4ec36b"/><stop offset="0.0714" stop-color="#4cc26c"/><stop offset="0.143" stop-color="#42be71"/><stop offset="0.214" stop-color="#34b679"/><stop offset="0.286" stop-color="#28ae80"/><stop offset="0.357" stop-color="#25ac82"/><stop offset="0.429" stop-color="#26ad81"/><stop offset="0.5" stop-color="#26ad81"/><stop offset="0.571" stop-color="#24aa83"/><stop offset="0.643" stop-color="#1fa187"/><stop offset="0.714" stop-color="#1f9f88"/><stop offset="0.786" stop-color="#1f978b"/><stop offset="0.857" stop-color="#218e8d"/><stop offset="0.929" stop-color="#228b8d"/><stop offset="1" stop-color="#238a8d"/></linearGradient><linearGradient id="g35" x1="0" y1="0" x2="0" y2="1"><stop offset="0" stop-color="#69cd5b"/><stop offset="0.0526" stop-color="#67cc5c"/><stop offset="0.105" stop-color="#63cb5f"/><stop offset="0.158" stop-color="#56c667"/><stop offset="0.211" stop-color="#4ec36b"/><stop offset="0.263" stop-color="#4ec36b"/><stop offset="0.316" stop-color="#4cc26c"/><stop offset="0.368" stop-color="#44bf70"/><stop offset="0.421" stop-color="#35b779"/><stop offset="0.474" stop-color="#29af7f"/><stop offset="0.526" stop-color="#25ac82"/><stop offset="0.579" stop-color="#26ad81"/><stop offset="0.632" stop-color="#26ad81"/><stop offset="0.684" stop-color="#24aa83"/><stop offset="0.737" stop-color="#1fa287"/><stop offset="0.789" stop-color="#1f9e89"/><stop offset="0.842" stop-color="#1f968b"/><stop offset="0.895" stop-color="#218f8d"/><stop offset="0.947" stop-color="#228c8d"/><stop offset="1" stop-color="#238a8d"/></linearGradient><linearGradient id="g36" x1="0" y1="0" x2="0" y2="1"><stop offset="0" stop-color="#7fd34e"/><stop offset="0.0556" stop-color="#73d056"/><stop offset="0.111" stop-color="#69cd5b"/><stop offset="0.167" stop-color="#69cd5b"/><stop offset="0.222" stop-color="#67cc5c"/><stop offset="0.278" stop-color="#5ec962"/><stop offset="0.333" stop-color="#50c46a"/><stop offset="0.389" stop-color="#4ec36b"/><stop offset="0.444" stop-color="#4ec36b"/><stop offset="0.5" stop-color="#4ac16d"/><stop offset="0.556" stop-color="#3fbc73"/><stop offset="0.611" stop-color="#31b57b"/><stop offset="0.667" stop-color="#27ad81"/><stop offset="0.722" stop-color="#25ac82"/><stop offset="0.778" stop-color="#25ac82"/><stop offset="0.833" stop-color="#25ac82"/><stop offset="0.889" stop-color="#22a884"/><stop offset="0.944" stop-color="#1fa187"/><stop offset="1" stop-color="#1e9d89"/></linearGradient><linearGradient id="g37" x1="0" y1="0" x2="0" y2="1"><stop offset="0" stop-color="#8bd646"/><stop offset="0.0556" stop-color="#84d44b"/><stop offset="0.111" stop-color="#81d34d"/><stop offset="0.167" stop-color="#7fd34e"/><stop offset="0.222" stop-color="#75d054"/><stop offset="0.278" stop-color="#69cd5b"/><stop offset="0.333" stop-color="#69cd5b"/><stop offset="0.389" stop-color="#67cc5c"/><stop offset="0.444" stop-color="#5ec962"/><stop offset="0.5" stop-color="#50c46a"/><stop offset="0.556" stop-color="#4ec36b"/><stop offset="0.611" stop-color="#4ec36b"/><stop offset="0.667" stop-color="#4ac16d"/><stop offset="0.722" stop-color="#3fbc73"/><stop offset="0.778" stop-color="#31b57b"/><stop offset="0.833" stop-color="#28ae80"/><stop offset="0.889" stop-color="#25ac82"/><stop offset="0.944" stop-color="#25ac82"/><stop offset="1" stop-color="#25ab82"/></linearGradient><linearGradient id="g38" x1="0" y1="0" x2="0" y2="1"><stop offset="0" stop-color="#a0da39"/><stop offset="0.0667" stop-color="#95d840"/><stop offset="0.133" stop-color="#8bd646"/><stop offset="0.2" stop-color="#84d44b"/><stop offset="0.267" stop-color="#81d34d"/><stop offset="0.333" stop-color="#7fd34e"/><stop offset="0.4" stop-color="#73d056"/><stop offset="0.467" stop-color="#69cd5b"/><stop offset="0.533" stop-color="#69cd5b"/><stop offset="0.6" stop-color="#67cc5c"/><stop offset="0.667" stop-color="#5ac864"/><stop offset="0.733" stop-color="#50c46a"/><stop offset="0.8" stop-color="#4ec36b"/><stop offset="0.867" stop-color="#4cc26c"/><stop offset="0.933" stop-color="#44bf70"/><stop offset="1" stop-color="#37b878"/></linearGradient><linearGradient id="g39" x1="0" y1="0" x2="0" y2="1"><stop offset="0" stop-color="#a5db36"/><stop offset="0.1" stop-color="#a0da39"/><stop offset="0.2" stop-color="#90d743"/><stop offset="0.3" stop-color="#89d548"/><stop offset="0.4" stop-color="#81d34d"/><stop offset="0.5" stop-color="#81d34d"/><stop offset="0.6" stop-color="#7cd250"/><stop offset="0.7" stop-color="#70cf57"/><stop offset="0.8" stop-color="#69cd5b"/><stop offset="0.9" stop-color="#67cc5c"/><stop offset="1" stop-color="#63cb5f"/></linearGradient><linearGradient id="g40" x1="0" y1="0" x2="0" y2="1"><stop offset="0" stop-color="#a8db34"/><stop offset="0.125" stop-color="#a2da37"/><stop offset="0.25" stop-color="#8ed645"/><stop offset="0.375" stop-color="#8bd646"/><stop offset="0.5" stop-color="#81d34d"/><stop offset="0.625" stop-color="#7fd34e"/><stop offset="0.75" stop-color="#77d153"/><stop offset="0.875" stop-color="#6ccd5a"/><stop offset="1" stop-color="#67cc5c"/></linearGradient><linearGradient id="g41" x1="0" y1="0" x2="0" y2="1"><stop offset="0" stop-color="#a8db34"/><stop offset="0.125" stop-color="#a5db36"/><stop offset="0.25" stop-color="#8ed645"/><stop offset="0.375" stop-color="#8bd646"/><stop offset="0.5" stop-color="#84d44b"/><stop offset="0.625" stop-color="#81d34d"/><stop offset="0.75" stop-color="#7ad151"/><stop offset="0.875" stop-color="#6ece58"/><stop offset="1" stop-color="#67cc5c"/></linearGradient><linearGradient id="g42" x1="0" y1="0" x2="0" y2="1"><stop offset="0" stop-color="#a8db34"/><stop offset="0.0714" stop-color="#a2da37"/><stop offset="0.143" stop-color="#8ed645"/><stop offset="0.214" stop-color="#8bd646"/><stop offset="0.286" stop-color="#84d44b"/><stop offset="0.357" stop-color="#81d34d"/><stop offset="0.429" stop-color="#7cd250"/><stop offset="0.5" stop-color="#73d056"/><stop offset="0.571" stop-color="#67cc5c"/><stop offset="0.643" stop-color="#60ca60"/><stop offset="0.714" stop-color="#56c667"/><stop offset="0.786" stop-color="#4ec36b"/><stop offset="0.857" stop-color="#4ec36b"/><stop offset="0.929" stop-color="#4cc26c"/><stop offset="1" stop-color="#48c16e"/></linearGradient><linearGradient id="g43" x1="0" y1="0" x2="0" y2="1"><stop offset="0" stop-color="#a5db36"/><stop offset="0.05" stop-color="#a0da39"/><stop offset="0.1" stop-color="#90d743"/><stop offset="0.15" stop-color="#8bd646"/><stop offset="0.2" stop-color="#81d34d"/><stop offset="0.25" stop-color="#81d34d"/><stop offset="0.3" stop-color="#7fd34e"/><stop offset="0.35" stop-color="#75d054"/><stop offset="0.4" stop-color="#69cd5b"/><stop offset="0.45" stop-color="#60ca60"/><stop offset="0.5" stop-color="#58c765"/><stop offset="0.55" stop-color="#50c46a"/><stop offset="0.6" stop-color="#4ec36b"/><stop offset="0.65" stop-color="#4ec36b"/><stop offset="0.7" stop-color="#4cc26c"/><stop offset="0.75" stop-color="#44bf70"/><stop offset="0.8" stop-color="#35b779"/><stop offset="0.85" stop-color="#2ab07f"/><stop offset="0.9" stop-color="#26ad81"/><stop offset="0.95" stop-color="#25ac82"/><stop offset="1" stop-color="#25ac82"/></linearGradient><linearGradient id="g44" x1="0" y1="0" x2="0" y2="1"><stop offset="0" stop-color="#a0da39"/><stop offset="0.0417" stop-color="#9bd93c"/><stop offset="0.0833" stop-color="#90d743"/><stop offset="0.125" stop-color="#86d549"/><stop offset="0.167" stop-color="#81d34d"/><stop offset="0.208" stop-color="#81d34d"/><stop offset="0.25" stop-color="#7fd34e"/><stop offset="0.292" stop-color="#75d054"/><stop offset="0.333" stop-color="#69cd5b"/><stop offset="0.375" stop-color="#60ca60"/><stop offset="0.417" stop-color="#56c667"/><stop offset="0.458" stop-color="#4ec36b"/><stop offset="0.5" stop-color="#4ec36b"/><stop offset="0.542" stop-color="#4ec36b"/><stop offset="0.583" stop-color="#4cc26c"/><stop offset="0.625" stop-color="#44bf70"/><stop offset="0.667" stop-color="#35b779"/><stop offset="0.708" stop-color="#2ab07f"/><stop offset="0.75" stop-color="#26ad81"/><stop offset="0.792" stop-color="#26ad81"/><stop offset="0.833" stop-color="#26ad81"/><stop offset="0.875" stop-color="#25ac82"/><stop offset="0.917" stop-color="#21a585"/><stop offset="0.958" stop-color="#1f9e89"/><stop offset="1" stop-color="#1f9a8a"/></linearGradient><linearGradient id="g45" x1="0" y1="0" x2="0" y2="1"><stop offset="0" stop-color="#8bd646"/><stop offset="0.0435" stop-color="#84d44b"/><stop offset="0.087" stop-color="#81d34d"/><stop offset="0.13" stop-color="#81d34d"/><stop offset="0.174" stop-color="#7cd250"/><stop offset="0.217" stop-color="#73d056"/><stop offset="0.261" stop-color="#67cc5c"/><stop offset="0.304" stop-color="#5cc863"/><stop offset="0.348" stop-color="#52c569"/><stop offset="0.391" stop-color="#4ec36b"/><stop offset="0.435" stop-color="#4ec36b"/><stop offset="0.478" stop-color="#4ec36b"/><stop offset="0.522" stop-color="#4ac16d"/><stop offset="0.565" stop-color="#3fbc73"/><stop offset="0.609" stop-color="#31b57b"/><stop offset="0.652" stop-color="#28ae80"/><stop offset="0.696" stop-color="#26ad81"/><stop offset="0.739" stop-color="#26ad81"/><stop offset="0.783" stop-color="#26ad81"/><stop offset="0.826" stop-color="#25ab82"/><stop offset="0.87" stop-color="#20a386"/><stop offset="0.913" stop-color="#1e9b8a"/><stop offset="0.957" stop-color="#1f9a8a"/><stop offset="1" stop-color="#1f9a8a"/></linearGradient><linearGradient id="g46" x1="0" y1="0" x2="0" y2="1"><stop offset="0" stop-color="#50c46a"/><stop offset="0.0714" stop-color="#4cc26c"/><stop offset="0.143" stop-color="#4ec36b"/><stop offset="0.214" stop-color="#4cc26c"/><stop offset="0.286" stop-color="#44bf70"/><stop offset="0.357" stop-color="#35b779"/><stop offset="0.429" stop-color="#2ab07f"/><stop offset="0.5" stop-color="#26ad81"/><stop offset="0.571" stop-color="#26ad81"/><stop offset="0.643" stop-color="#26ad81"/><stop offset="0.714" stop-color="#25ac82"/><stop offset="0.786" stop-color="#20a486"/><stop offset="0.857" stop-color="#1e9b8a"/><stop offset="0.929" stop-color="#1f9a8a"/><stop offset="1" stop-color="#1f9a8a"/></linearGradient><linearGradient id="g47" x1="0" y1="0" x2="0" y2="1"><stop offset="0" stop-color="#27ad81"/><stop offset="0.143" stop-color="#26ad81"/><stop offset="0.286" stop-color="#26ad81"/><stop offset="0.429" stop-color="#25ac82"/><stop offset="0.571" stop-color="#22a785"/><stop offset="0.714" stop-color="#1e9c89"/><stop offset="0.857" stop-color="#1f9a8a"/><stop offset="1" stop-color="#1f9a8a"/></linearGradient><linearGradient id="g48" x1="0" y1="0" x2="0" y2="1"><stop offset="0" stop-color="#26ad81"/><stop offset="0.167" stop-color="#26ad81"/><stop offset="0.333" stop-color="#25ab82"/><stop offset="0.5" stop-color="#20a486"/><stop offset="0.667" stop-color="#1e9c89"/><stop offset="0.833" stop-color="#1f9a8a"/><stop offset="1" stop-color="#1f9a8a"/></linearGradient><linearGradient id="g49" x1="0" y1="0" x2="0" y2="1"><stop offset="0" stop-color="#26ad81"/><stop offset="0.2" stop-color="#26ad81"/><stop offset="0.4" stop-color="#24aa83"/><stop offset="0.6" stop-color="#1fa187"/><stop offset="0.8" stop-color="#1e9b8a"/><stop offset="1" stop-color="#1f9a8a"/></linearGradient><linearGradient id="g50" x1="0" y1="0" x2="0" y2="1"><stop offset="0" stop-color="#26ad81"/><stop offset="0.167" stop-color="#26ad81"/><stop offset="0.333" stop-color="#25ab82"/><stop offset="0.5" stop-color="#20a486"/><stop offset="0.667" stop-color="#1f9e89"/><stop offset="0.833" stop-color="#1e9b8a"/><stop offset="1" stop-color="#1e9b8a"/></linearGradient><linearGradient id="g51" x1="0" y1="0" x2="0" y2="1"><stop offset="0" stop-color="#26ad81"/><stop offset="0.111" stop-color="#26ad81"/><stop offset="0.222" stop-color="#24aa83"/><stop offset="0.333" stop-color="#20a386"/><stop offset="0.444" stop-color="#1e9d89"/><stop offset="0.556" stop-color="#1e9c89"/><stop offset="0.667" stop-color="#1e9c89"/><stop offset="0.778" stop-color="#1e9b8a"/><stop offset="0.889" stop-color="#1f958b"/><stop offset="1" stop-color="#228d8d"/></linearGradient><linearGradient id="g52" x1="0" y1="0" x2="0" y2="1"><stop offset="0" stop-color="#26ad81"/><stop offset="0.0909" stop-color="#25ac82"/><stop offset="0.182" stop-color="#22a884"/><stop offset="0.273" stop-color="#1fa187"/><stop offset="0.364" stop-color="#1e9d89"/><stop offset="0.455" stop-color="#1e9c89"/><stop offset="0.545" stop-color="#1e9c89"/><stop offset="0.636" stop-color="#1e9b8a"/><stop offset="0.727" stop-color="#1f978b"/><stop offset="0.818" stop-color="#218f8d"/><stop offset="0.909" stop-color="#24878e"/><stop offset="1" stop-color="#25838e"/></linearGradient><linearGradient id="g53" x1="0" y1="0" x2="0" y2="1"><stop offset="0" stop-color="#22a884"/><stop offset="0.1" stop-color="#1fa287"/><stop offset="0.2" stop-color="#1f9e89"/><stop offset="0.3" stop-color="#1e9c89"/><stop offset="0.4" stop-color="#1e9c89"/><stop offset="0.5" stop-color="#1e9c89"/><stop offset="0.6" stop-color="#1f988b"/><stop offset="0.7" stop-color="#21908d"/><stop offset="0.8" stop-color="#24878e"/><stop offset="0.9" stop-color="#25838e"/><stop offset="1" stop-color="#26828e"/></linearGradient><linearGradient id="g54" x1="0" y1="0" x2="0" y2="1"><stop offset="0" stop-color="#1e9c89"/><stop offset="0.125" stop-color="#1e9c89"/><stop offset="0.25" stop-color="#1e9c89"/><stop offset="0.375" stop-color="#1f998a"/><stop offset="0.5" stop-color="#21918c"/><stop offset="0.625" stop-color="#23888e"/><stop offset="0.75" stop-color="#25848e"/><stop offset="0.875" stop-color="#25838e"/><stop offset="1" stop-color="#26818e"/></linearGradient><linearGradient id="g55" x1="0" y1="0" x2="0" y2="1"><stop offset="0" stop-color="#1e9c89"/><stop offset="0.167" stop-color="#1f978b"/><stop offset="0.333" stop-color="#218e8d"/><stop offset="0.5" stop-color="#24868e"/><stop offset="0.667" stop-color="#25838e"/><stop offset="0.833" stop-color="#25838e"/><stop offset="1" stop-color="#2b758e"/></linearGradient><linearGradient id="g56" x1="0" y1="0" x2="0" y2="1"><stop offset="0" stop-color="#1f988b"/><stop offset="0.143" stop-color="#21918c"/><stop offset="0.286" stop-color="#238a8d"/><stop offset="0.429" stop-color="#25858e"/><stop offset="0.571" stop-color="#25838e"/><stop offset="0.714" stop-color="#26818e"/><stop offset="0.857" stop-color="#2e6e8e"/><stop offset="1" stop-color="#2e6d8e"/></linearGradient><linearGradient id="g57" x1="0" y1="0" x2="0" y2="1"><stop offset="0" stop-color="#23898e"/><stop offset="0.25" stop-color="#25848e"/><stop offset="0.5" stop-color="#26818e"/><stop offset="0.75" stop-color="#306a8e"/><stop offset="1" stop-color="#2f6b8e"/></linearGradient><linearGradient id="g58" x1="0" y1="0" x2="0" y2="1"><stop offset="0" stop-color="#238a8d"/><stop offset="0.2" stop-color="#23898e"/><stop offset="0.4" stop-color="#25838e"/><stop offset="0.6" stop-color="#2b758e"/><stop offset="0.8" stop-color="#31688e"/><stop offset="1" stop-color="#306a8e"/></linearGradient><linearGradient id="g59" x1="0" y1="0" x2="0" y2="1"><stop offset="0" stop-color="#228c8d"/><stop offset="0.2" stop-color="#228b8d"/><stop offset="0.4" stop-color="#23888e"/><stop offset="0.6" stop-color="#2a788e"/><stop offset="0.8" stop-color="#30698e"/><stop offset="1" stop-color="#2f6b8e"/></linearGradient><linearGradient id="g60" x1="0" y1="0" x2="0" y2="1"><stop offset="0" stop-color="#228c8d"/><stop offset="0.2" stop-color="#228b8d"/><stop offset="0.4" stop-color="#238a8d"/><stop offset="0.6" stop-color="#297b8e"/><stop offset="0.8" stop-color="#2f6c8e"/><stop offset="1" stop-color="#2e6d8e"/></linearGradient><linearGradient id="g61" x1="0" y1="0" x2="0" y2="1"><stop offset="0" stop-color="#228c8d"/><stop offset="0.25" stop-color="#228b8d"/><stop offset="0.5" stop-color="#238a8d"/><stop offset="0.75" stop-color="#277e8e"/><stop offset="1" stop-color="#2c728e"/></linearGradient><linearGradient id="g62" x1="0" y1="0" x2="0" y2="1"><stop offset="0" stop-color="#228c8d"/><stop offset="0.25" stop-color="#228b8d"/><stop offset="0.5" stop-color="#24868e"/><stop offset="0.75" stop-color="#287c8e"/><stop offset="1" stop-color="#2a768e"/></linearGradient><linearGradient id="g63" x1="0" y1="0" x2="0" y2="1"><stop offset="0" stop-color="#228c8d"/><stop offset="0.2" stop-color="#238a8d"/><stop offset="0.4" stop-color="#25848e"/><stop offset="0.6" stop-color="#277e8e"/><stop offset="0.8" stop-color="#297b8e"/><stop offset="1" stop-color="#29798e"/></linearGradient><linearGradient id="g64" x1="0" y1="0" x2="0" y2="1"><stop offset="0" stop-color="#21908d"/><stop offset="0.2" stop-color="#238a8d"/><stop offset="0.4" stop-color="#25838e"/><stop offset="0.6" stop-color="#277e8e"/><stop offset="0.8" stop-color="#287d8e"/><stop offset="1" stop-color="#287c8e"/></linearGradient><linearGradient id="g65" x1="0" y1="0" x2="0" y2="1"><stop offset="0" stop-color="#1f968b"/><stop offset="0.167" stop-color="#21908d"/><stop offset="0.333" stop-color="#23888e"/><stop offset="0.5" stop-color="#27808e"/><stop offset="0.667" stop-color="#287d8e"/><stop offset="0.833" stop-color="#287d8e"/><stop offset="1" stop-color="#277e8e"/></linearGradient><linearGradient id="g66" x1="0" y1="0" x2="0" y2="1"><stop offset="0" stop-color="#1f9a8a"/><stop offset="0.143" stop-color="#1f988b"/><stop offset="0.286" stop-color="#20928c"/><stop offset="0.429" stop-color="#24878e"/><stop offset="0.571" stop-color="#277f8e"/><stop offset="0.714" stop-color="#287d8e"/><stop offset="0.857" stop-color="#277e8e"/><stop offset="1" stop-color="#277f8e"/></linearGradient><linearGradient id="g67" x1="0" y1="0" x2="0" y2="1"><stop offset="0" stop-color="#1e9c89"/><stop offset="0.143" stop-color="#1e9c89"/><stop offset="0.286" stop-color="#1f998a"/><stop offset="0.429" stop-color="#21908d"/><stop offset="0.571" stop-color="#25838e"/><stop offset="0.714" stop-color="#277e8e"/><stop offset="0.857" stop-color="#277e8e"/><stop offset="1" stop-color="#277f8e"/></linearGradient><linearGradient id="g68" x1="0" y1="0" x2="0" y2="1"><stop offset="0" stop-color="#1e9d89"/><stop offset="0.2" stop-color="#1e9c89"/><stop offset="0.4" stop-color="#1e9b8a"/><stop offset="0.6" stop-color="#20928c"/><stop offset="0.8" stop-color="#25858e"/><stop offset="1" stop-color="#27808e"/></linearGradient><linearGradient id="g69" x1="0" y1="0" x2="0" y2="1"><stop offset="0" stop-color="#1f9e89"/><stop offset="0.25" stop-color="#1e9c89"/><stop offset="0.5" stop-color="#1e9c89"/><stop offset="0.75" stop-color="#1f958b"/><stop offset="1" stop-color="#228b8d"/></linearGradient><linearGradient id="g70" x1="0" y1="0" x2="0" y2="1"><stop offset="0" stop-color="#21a685"/><stop offset="0.2" stop-color="#1fa287"/><stop offset="0.4" stop-color="#1e9c89"/><stop offset="0.6" stop-color="#1e9c89"/><stop offset="0.8" stop-color="#1f968b"/><stop offset="1" stop-color="#218e8d"/></linearGradient><linearGradient id="g71" x1="0" y1="0" x2="0" y2="1"><stop offset="0" stop-color="#22a785"/><stop offset="0.167" stop-color="#22a785"/><stop offset="0.333" stop-color="#1fa187"/><stop offset="0.5" stop-color="#1e9c89"/><stop offset="0.667" stop-color="#1e9b8a"/><stop offset="0.833" stop-color="#1f948c"/><stop offset="1" stop-color="#218e8d"/></linearGradient><linearGradient id="g72" x1="0" y1="0" x2="0" y2="1"><stop offset="0" stop-color="#22a884"/><stop offset="0.2" stop-color="#22a884"/><stop offset="0.4" stop-color="#1fa187"/><stop offset="0.6" stop-color="#1e9c89"/><stop offset="0.8" stop-color="#1f968b"/><stop offset="1" stop-color="#218f8d"/></linearGradient><linearGradient id="g73" x1="0" y1="0" x2="0" y2="1"><stop offset="0" stop-color="#22a884"/><stop offset="0.2" stop-color="#22a884"/><stop offset="0.4" stop-color="#1fa287"/><stop offset="0.6" stop-color="#1f9a8a"/><stop offset="0.8" stop-color="#20928c"/><stop offset="1" stop-color="#228d8d"/></linearGradient><linearGradient id="g74" x1="0" y1="0" x2="0" y2="1"><stop offset="0" stop-color="#22a884"/><stop offset="0.167" stop-color="#22a785"/><stop offset="0.333" stop-color="#20a386"/><stop offset="0.5" stop-color="#1e9b8a"/><stop offset="0.667" stop-color="#20928c"/><stop offset="0.833" stop-color="#228d8d"/><stop offset="1" stop-color="#228c8d"/></linearGradient><linearGradient id="g75" x1="0" y1="0" x2="0" y2="1"><stop offset="0" stop-color="#21a685"/><stop offset="0.167" stop-color="#1fa188"/><stop offset="0.333" stop-color="#1f988b"/><stop offset="0.5" stop-color="#21908d"/><stop offset="0.667" stop-color="#228c8d"/><stop offset="0.833" stop-color="#228b8d"/><stop offset="1" stop-color="#228b8d"/></linearGradient><linearGradient id="g76" x1="0" y1="0" x2="0" y2="1"><stop offset="0" stop-color="#1e9d89"/><stop offset="0.167" stop-color="#20938c"/><stop offset="0.333" stop-color="#228d8d"/><stop offset="0.5" stop-color="#228b8d"/><stop offset="0.667" stop-color="#228b8d"/><stop offset="0.833" stop-color="#23898e"/><stop offset="1" stop-color="#23898e"/></linearGradient><linearGradient id="g77" x1="0" y1="0" x2="0" y2="1"><stop offset="0" stop-color="#1f988b"/><stop offset="0.167" stop-color="#21908d"/><stop offset="0.333" stop-color="#228c8d"/><stop offset="0.5" stop-color="#228b8d"/><stop offset="0.667" stop-color="#23898e"/><stop offset="0.833" stop-color="#23898e"/><stop offset="1" stop-color="#23888e"/></linearGradient><linearGradient id="g78" x1="0" y1="0" x2="0" y2="1"><stop offset="0" stop-color="#20938c"/><stop offset="0.167" stop-color="#218e8d"/><stop offset="0.333" stop-color="#228c8d"/><stop offset="0.5" stop-color="#238a8d"/><stop offset="0.667" stop-color="#23898e"/><stop offset="0.833" stop-color="#23898e"/><stop offset="1" stop-color="#23888e"/></linearGradient><linearGradient id="g79" x1="0" y1="0" x2="0" y2="1"><stop offset="0" stop-color="#1f998a"/><stop offset="0.167" stop-color="#20928c"/><stop offset="0.333" stop-color="#228d8d"/><stop offset="0.5" stop-color="#238a8d"/><stop offset="0.667" stop-color="#23888e"/><stop offset="0.833" stop-color="#23898e"/><stop offset="1" stop-color="#24878e"/></linearGradient><linearGradient id="g80" x1="0" y1="0" x2="0" y2="1"><stop offset="0" stop-color="#1f9f88"/><stop offset="0.125" stop-color="#1e9b8a"/><stop offset="0.25" stop-color="#1f968b"/><stop offset="0.375" stop-color="#21918c"/><stop offset="0.5" stop-color="#228c8d"/><stop offset="0.625" stop-color="#23888e"/><stop offset="0.75" stop-color="#24878e"/><stop offset="0.875" stop-color="#23888e"/><stop offset="1" stop-color="#25858e"/></linearGradient><linearGradient id="g81" x1="0" y1="0" x2="0" y2="1"><stop offset="0" stop-color="#1fa187"/><stop offset="0.111" stop-color="#1f9e89"/><stop offset="0.222" stop-color="#1e9b8a"/><stop offset="0.333" stop-color="#1f978b"/><stop offset="0.444" stop-color="#21918c"/><stop offset="0.556" stop-color="#228b8d"/><stop offset="0.667" stop-color="#25858e"/><stop offset="0.778" stop-color="#26828e"/><stop offset="0.889" stop-color="#26828e"/><stop offset="1" stop-color="#26828e"/></linearGradient><linearGradient id="g82" x1="0" y1="0" x2="0" y2="1"><stop offset="0" stop-color="#1fa187"/><stop offset="0.167" stop-color="#1e9d89"/><stop offset="0.333" stop-color="#1e9b8a"/><stop offset="0.5" stop-color="#1f978b"/><stop offset="0.667" stop-color="#218f8d"/><stop offset="0.833" stop-color="#25848e"/><stop offset="1" stop-color="#287c8e"/></linearGradient><linearGradient id="g83" x1="0" y1="0" x2="0" y2="1"><stop offset="0" stop-color="#1fa187"/><stop offset="0.111" stop-color="#1e9d89"/><stop offset="0.222" stop-color="#1e9c89"/><stop offset="0.333" stop-color="#1e9b8a"/><stop offset="0.444" stop-color="#1f958b"/><stop offset="0.556" stop-color="#238a8d"/><stop offset="0.667" stop-color="#277f8e"/><stop offset="0.778" stop-color="#2b758e"/><stop offset="0.889" stop-color="#2c728e"/><stop offset="1" stop-color="#2a768e"/></linearGradient><linearGradient id="g84" x1="0" y1="0" x2="0" y2="1"><stop offset="0" stop-color="#48c16e"/><stop offset="0.0588" stop-color="#40bd72"/><stop offset="0.118" stop-color="#3fbc73"/><stop offset="0.176" stop-color="#3fbc73"/><stop offset="0.235" stop-color="#3bbb75"/><stop offset="0.294" stop-color="#32b67a"/><stop offset="0.353" stop-color="#27ad81"/><stop offset="0.412" stop-color="#20a486"/><stop offset="0.471" stop-color="#1f9f88"/><stop offset="0.529" stop-color="#1e9c89"/><stop offset="0.588" stop-color="#1e9c89"/><stop offset="0.647" stop-color="#1f9a8a"/><stop offset="0.706" stop-color="#20928c"/><stop offset="0.765" stop-color="#25838e"/><stop offset="0.824" stop-color="#2a778e"/><stop offset="0.882" stop-color="#2c718e"/><stop offset="0.941" stop-color="#2c718e"/><stop offset="1" stop-color="#2a778e"/></linearGradient><linearGradient id="g85" x1="0" y1="0" x2="0" y2="1"><stop offset="0" stop-color="#5cc863"/><stop offset="0.0455" stop-color="#5ac864"/><stop offset="0.0909" stop-color="#5cc863"/><stop offset="0.136" stop-color="#5cc863"/><stop offset="0.182" stop-color="#5ac864"/><stop offset="0.227" stop-color="#52c569"/><stop offset="0.273" stop-color="#46c06f"/><stop offset="0.318" stop-color="#40bd72"/><stop offset="0.364" stop-color="#3fbc73"/><stop offset="0.409" stop-color="#3fbc73"/><stop offset="0.455" stop-color="#38b977"/><stop offset="0.5" stop-color="#2db27d"/><stop offset="0.545" stop-color="#23a983"/><stop offset="0.591" stop-color="#1fa088"/><stop offset="0.636" stop-color="#1e9d89"/><stop offset="0.682" stop-color="#1e9c89"/><stop offset="0.727" stop-color="#1e9c89"/><stop offset="0.773" stop-color="#1f958b"/><stop offset="0.818" stop-color="#24868e"/><stop offset="0.864" stop-color="#2a778e"/><stop offset="0.909" stop-color="#2c718e"/><stop offset="0.955" stop-color="#2c718e"/><stop offset="1" stop-color="#2a768e"/></linearGradient><linearGradient id="g86" x1="0" y1="0" x2="0" y2="1"><stop offset="0" stop-color="#7ad151"/><stop offset="0.037" stop-color="#7cd250"/><stop offset="0.0741" stop-color="#7ad151"/><stop offset="0.111" stop-color="#6ece58"/><stop offset="0.148" stop-color="#60ca60"/><stop offset="0.185" stop-color="#5cc863"/><stop offset="0.222" stop-color="#5ac864"/><stop offset="0.259" stop-color="#5cc863"/><stop offset="0.296" stop-color="#5ec962"/><stop offset="0.333" stop-color="#5ac864"/><stop offset="0.37" stop-color="#52c569"/><stop offset="0.407" stop-color="#44bf70"/><stop offset="0.444" stop-color="#3fbc73"/><stop offset="0.481" stop-color="#3fbc73"/><stop offset="0.519" stop-color="#3dbc74"/><stop offset="0.556" stop-color="#37b878"/><stop offset="0.593" stop-color="#2cb17e"/><stop offset="0.63" stop-color="#22a785"/><stop offset="0.667" stop-color="#1fa088"/><stop offset="0.704" stop-color="#1e9d89"/><stop offset="0.741" stop-color="#1e9c89"/><stop offset="0.778" stop-color="#1e9b8a"/><stop offset="0.815" stop-color="#1f948c"/><stop offset="0.852" stop-color="#25858e"/><stop offset="0.889" stop-color="#2a778e"/><stop offset="0.926" stop-color="#2c728e"/><stop offset="0.963" stop-color="#2c728e"/><stop offset="1" stop-color="#2a768e"/></linearGradient><linearGradient id="g87" x1="0" y1="0" x2="0" y2="1"><stop offset="0" stop-color="#aadc32"/><stop offset="0.0323" stop-color="#a8db34"/><stop offset="0.0645" stop-color="#9bd93c"/><stop offset="0.0968" stop-color="#89d548"/><stop offset="0.129" stop-color="#7cd250"/><stop offset="0.161" stop-color="#7ad151"/><stop offset="0.194" stop-color="#7cd250"/><stop offset="0.226" stop-color="#7ad151"/><stop offset="0.258" stop-color="#6ece58"/><stop offset="0.29" stop-color="#63cb5f"/><stop offset="0.323" stop-color="#5cc863"/><stop offset="0.355" stop-color="#5cc863"/><stop offset="0.387" stop-color="#60ca60"/><stop offset="0.419" stop-color="#63cb5f"/><stop offset="0.452" stop-color="#5ec962"/><stop offset="0.484" stop-color="#52c569"/><stop offset="0.516" stop-color="#46c06f"/><stop offset="0.548" stop-color="#40bd72"/><stop offset="0.581" stop-color="#3fbc73"/><stop offset="0.613" stop-color="#3dbc74"/><stop offset="0.645" stop-color="#34b679"/><stop offset="0.677" stop-color="#29af7f"/><stop offset="0.71" stop-color="#21a585"/><stop offset="0.742" stop-color="#1f9f88"/><stop offset="0.774" stop-color="#1e9d89"/><stop offset="0.806" stop-color="#1e9c89"/><stop offset="0.839" stop-color="#1f9a8a"/><stop offset="0.871" stop-color="#21918c"/><stop offset="0.903" stop-color="#26828e"/><stop offset="0.935" stop-color="#2a768e"/><stop offset="0.968" stop-color="#2c738e"/><stop offset="1" stop-color="#2b758e"/></linearGradient><linearGradient id="g88" x1="0" y1="0" x2="0" y2="1"><stop offset="0" stop-color="#aadc32"/><stop offset="0.0435" stop-color="#aadc32"/><stop offset="0.087" stop-color="#a8db34"/><stop offset="0.13" stop-color="#98d83e"/><stop offset="0.174" stop-color="#86d549"/><stop offset="0.217" stop-color="#7fd34e"/><stop offset="0.261" stop-color="#7cd250"/><stop offset="0.304" stop-color="#7fd34e"/><stop offset="0.348" stop-color="#7ad151"/><stop offset="0.391" stop-color="#6ece58"/><stop offset="0.435" stop-color="#65cb5e"/><stop offset="0.478" stop-color="#60ca60"/><stop offset="0.522" stop-color="#60ca60"/><stop offset="0.565" stop-color="#67cc5c"/><stop offset="0.609" stop-color="#67cc5c"/><stop offset="0.652" stop-color="#60ca60"/><stop offset="0.696" stop-color="#56c667"/><stop offset="0.739" stop-color="#48c16e"/><stop offset="0.783" stop-color="#40bd72"/><stop offset="0.826" stop-color="#3fbc73"/><stop offset="0.87" stop-color="#3bbb75"/><stop offset="0.913" stop-color="#34b679"/><stop offset="0.957" stop-color="#29af7f"/><stop offset="1" stop-color="#21a685"/></linearGradient><linearGradient id="g89" x1="0" y1="0" x2="0" y2="1"><stop offset="0" stop-color="#addc30"/><stop offset="0.0769" stop-color="#aadc32"/><stop offset="0.154" stop-color="#a8db34"/><stop offset="0.231" stop-color="#9bd93c"/><stop offset="0.308" stop-color="#8bd646"/><stop offset="0.385" stop-color="#86d549"/><stop offset="0.462" stop-color="#86d549"/><stop offset="0.538" stop-color="#84d44b"/><stop offset="0.615" stop-color="#7cd250"/><stop offset="0.692" stop-color="#70cf57"/><stop offset="0.769" stop-color="#69cd5b"/><stop offset="0.846" stop-color="#69cd5b"/><stop offset="0.923" stop-color="#6ccd5a"/><stop offset="1" stop-color="#6ece58"/></linearGradient><linearGradient id="g90" x1="0" y1="0" x2="0" y2="1"><stop offset="0" stop-color="#cae11f"/><stop offset="0.111" stop-color="#bade28"/><stop offset="0.222" stop-color="#addc30"/><stop offset="0.333" stop-color="#a8db34"/><stop offset="0.444" stop-color="#9bd93c"/><stop offset="0.556" stop-color="#93d741"/><stop offset="0.667" stop-color="#95d840"/><stop offset="0.778" stop-color="#93d741"/><stop offset="0.889" stop-color="#89d548"/><stop offset="1" stop-color="#7ad151"/></linearGradient><linearGradient id="g91" x1="0" y1="0" x2="0" y2="1"><stop offset="0" stop-color="#d0e11c"/><stop offset="0.0625" stop-color="#cde11d"/><stop offset="0.125" stop-color="#b8de29"/><stop offset="0.188" stop-color="#addc30"/><stop offset="0.25" stop-color="#a0da39"/><stop offset="0.312" stop-color="#98d83e"/><stop offset="0.375" stop-color="#9bd93c"/><stop offset="0.438" stop-color="#a0da39"/><stop offset="0.5" stop-color="#98d83e"/><stop offset="0.562" stop-color="#8bd646"/><stop offset="0.625" stop-color="#7ad151"/><stop offset="0.688" stop-color="#75d054"/><stop offset="0.75" stop-color="#77d153"/><stop offset="0.812" stop-color="#77d153"/><stop offset="0.875" stop-color="#77d153"/><stop offset="0.937" stop-color="#77d153"/><stop offset="1" stop-color="#70cf57"/></linearGradient><linearGradient id="g92" x1="0" y1="0" x2="0" y2="1"><stop offset="0" stop-color="#d0e11c"/><stop offset="0.0556" stop-color="#cde11d"/><stop offset="0.111" stop-color="#bddf26"/><stop offset="0.167" stop-color="#addc30"/><stop offset="0.222" stop-color="#a0da39"/><stop offset="0.278" stop-color="#9bd93c"/><stop offset="0.333" stop-color="#a0da39"/><stop offset="0.389" stop-color="#a0da39"/><stop offset="0.444" stop-color="#98d83e"/><stop offset="0.5" stop-color="#86d549"/><stop offset="0.556" stop-color="#77d153"/><stop offset="0.611" stop-color="#77d153"/><stop offset="0.667" stop-color="#7ad151"/><stop offset="0.722" stop-color="#77d153"/><stop offset="0.778" stop-color="#7ad151"/><stop offset="0.833" stop-color="#75d054"/><stop offset="0.889" stop-color="#6ece58"/><stop offset="0.944" stop-color="#67cc5c"/><stop offset="1" stop-color="#58c765"/></linearGradient><linearGradient id="g93" x1="0" y1="0" x2="0" y2="1"><stop offset="0" stop-color="#cde11d"/><stop offset="0.0476" stop-color="#cde11d"/><stop offset="0.0952" stop-color="#c0df25"/><stop offset="0.143" stop-color="#b0dd2f"/><stop offset="0.19" stop-color="#a0da39"/><stop offset="0.238" stop-color="#9bd93c"/><stop offset="0.286" stop-color="#a0da39"/><stop offset="0.333" stop-color="#a0da39"/><stop offset="0.381" stop-color="#9bd93c"/><stop offset="0.429" stop-color="#8bd646"/><stop offset="0.476" stop-color="#7ad151"/><stop offset="0.524" stop-color="#77d153"/><stop offset="0.571" stop-color="#7ad151"/><stop offset="0.619" stop-color="#7ad151"/><stop offset="0.667" stop-color="#7ad151"/><stop offset="0.714" stop-color="#7ad151"/><stop offset="0.762" stop-color="#6ece58"/><stop offset="0.81" stop-color="#6ece58"/><stop offset="0.857" stop-color="#5cc863"/><stop offset="0.905" stop-color="#56c667"/><stop offset="0.952" stop-color="#42be71"/><stop offset="1" stop-color="#37b878"/></linearGradient><linearGradient id="g94" x1="0" y1="0" x2="0" y2="1"><stop offset="0" stop-color="#addc30"/><stop offset="0.05" stop-color="#a0da39"/><stop offset="0.1" stop-color="#9dd93b"/><stop offset="0.15" stop-color="#a0da39"/><stop offset="0.2" stop-color="#a0da39"/><stop offset="0.25" stop-color="#9bd93c"/><stop offset="0.3" stop-color="#89d548"/><stop offset="0.35" stop-color="#7ad151"/><stop offset="0.4" stop-color="#77d153"/><stop offset="0.45" stop-color="#7ad151"/><stop offset="0.5" stop-color="#7ad151"/><stop offset="0.55" stop-color="#7ad151"/><stop offset="0.6" stop-color="#77d153"/><stop offset="0.65" stop-color="#6ece58"/><stop offset="0.7" stop-color="#6ccd5a"/><stop offset="0.75" stop-color="#5ac864"/><stop offset="0.8" stop-color="#56c667"/><stop offset="0.85" stop-color="#3dbc74"/><stop offset="0.9" stop-color="#34b679"/><stop offset="0.95" stop-color="#32b67a"/><stop offset="1" stop-color="#2cb17e"/></linearGradient><linearGradient id="g95" x1="0" y1="0" x2="0" y2="1"><stop offset="0" stop-color="#77d153"/><stop offset="0.1" stop-color="#77d153"/><stop offset="0.2" stop-color="#70cf57"/><stop offset="0.3" stop-color="#6ccd5a"/><stop offset="0.4" stop-color="#60ca60"/><stop offset="0.5" stop-color="#58c765"/><stop offset="0.6" stop-color="#48c16e"/><stop offset="0.7" stop-color="#34b679"/><stop offset="0.8" stop-color="#32b67a"/><stop offset="0.9" stop-color="#2cb17e"/><stop offset="1" stop-color="#28ae80"/></linearGradient><linearGradient id="g96" x1="0" y1="0" x2="0" y2="1"><stop offset="0" stop-color="#6ece58"/><stop offset="0.111" stop-color="#69cd5b"/><stop offset="0.222" stop-color="#5ec962"/><stop offset="0.333" stop-color="#56c667"/><stop offset="0.444" stop-color="#44bf70"/><stop offset="0.556" stop-color="#34b679"/><stop offset="0.667" stop-color="#32b67a"/><stop offset="0.778" stop-color="#29af7f"/><stop offset="0.889" stop-color="#27ad81"/><stop offset="1" stop-color="#27ad81"/></linearGradient><linearGradient id="g97" x1="0" y1="0" x2="0" y2="1"><stop offset="0" stop-color="#50c46a"/><stop offset="0.167" stop-color="#38b977"/><stop offset="0.333" stop-color="#34b679"/><stop offset="0.5" stop-color="#2cb17e"/><stop offset="0.667" stop-color="#26ad81"/><stop offset="0.833" stop-color="#27ad81"/><stop offset="1" stop-color="#26ad81"/></linearGradient><linearGradient id="g98" x1="0" y1="0" x2="0" y2="1"><stop offset="0" stop-color="#35b779"/><stop offset="0.2" stop-color="#2fb47c"/><stop offset="0.4" stop-color="#27ad81"/><stop offset="0.6" stop-color="#26ad81"/><stop offset="0.8" stop-color="#26ad81"/><stop offset="1" stop-color="#25ac82"/></linearGradient><linearGradient id="g99" x1="0" y1="0" x2="0" y2="1"><stop offset="0" stop-color="#31b57b"/><stop offset="0.2" stop-color="#28ae80"/><stop offset="0.4" stop-color="#26ad81"/><stop offset="0.6" stop-color="#26ad81"/><stop offset="0.8" stop-color="#26ad81"/><stop offset="1" stop-color="#25ab82"/></linearGradient><linearGradient id="g100" x1="0" y1="0" x2="0" y2="1"><stop offset="0" stop-color="#2cb17e"/><stop offset="0.2" stop-color="#27ad81"/><stop offset="0.4" stop-color="#27ad81"/><stop offset="0.6" stop-color="#26ad81"/><stop offset="0.8" stop-color="#26ad81"/><stop offset="1" stop-color="#25ab82"/></linearGradient><linearGradient id="g101" x1="0" y1="0" x2="0" y2="1"><stop offset="0" stop-color="#2db27d"/><stop offset="0.2" stop-color="#28ae80"/><stop offset="0.4" stop-color="#27ad81"/><stop offset="0.6" stop-color="#26ad81"/><stop offset="0.8" stop-color="#26ad81"/><stop offset="1" stop-color="#25ab82"/></linearGradient><linearGradient id="g102" x1="0" y1="0" x2="0" y2="1"><stop offset="0" stop-color="#2db27d"/><stop offset="0.2" stop-color="#28ae80"/><stop offset="0.4" stop-color="#27ad81"/><stop offset="0.6" stop-color="#26ad81"/><stop offset="0.8" stop-color="#26ad81"/><stop offset="1" stop-color="#25ab82"/></linearGradient><linearGradient id="g103" x1="0" y1="0" x2="0" y2="1"><stop offset="0" stop-color="#2db27d"/><stop offset="0.167" stop-color="#28ae80"/><stop offset="0.333" stop-color="#27ad81"/><stop offset="0.5" stop-color="#26ad81"/><stop offset="0.667" stop-color="#26ad81"/><stop offset="0.833" stop-color="#25ab82"/><stop offset="1" stop-color="#23a983"/></linearGradient><linearGradient id="g104" x1="0" y1="0" x2="0" y2="1"><stop offset="0" stop-color="#2db27d"/><stop offset="0.167" stop-color="#28ae80"/><stop offset="0.333" stop-color="#26ad81"/><stop offset="0.5" stop-color="#26ad81"/><stop offset="0.667" stop-color="#26ad81"/><stop offset="0.833" stop-color="#24aa83"/><stop offset="1" stop-color="#22a884"/></linearGradient><linearGradient id="g105" x1="0" y1="0" x2="0" y2="1"><stop offset="0" stop-color="#2db27d"/><stop offset="0.167" stop-color="#28ae80"/><stop offset="0.333" stop-color="#26ad81"/><stop offset="0.5" stop-color="#26ad81"/><stop offset="0.667" stop-color="#25ab82"/><stop offset="0.833" stop-color="#23a983"/><stop offset="1" stop-color="#22a884"/></linearGradient><linearGradient id="g106" x1="0" y1="0" x2="0" y2="1"><stop offset="0" stop-color="#29af7f"/><stop offset="0.2" stop-color="#26ad81"/><stop offset="0.4" stop-color="#25ac82"/><stop offset="0.6" stop-color="#24aa83"/><stop offset="0.8" stop-color="#22a884"/><stop offset="1" stop-color="#22a884"/></linearGradient><linearGradient id="g107" x1="0" y1="0" x2="0" y2="1"><stop offset="0" stop-color="#31b57b"/><stop offset="0.143" stop-color="#2db27d"/><stop offset="0.286" stop-color="#29af7f"/><stop offset="0.429" stop-color="#26ad81"/><stop offset="0.571" stop-color="#25ab82"/><stop offset="0.714" stop-color="#23a983"/><stop offset="0.857" stop-color="#22a884"/><stop offset="1" stop-color="#22a884"/></linearGradient><linearGradient id="g108" x1="0" y1="0" x2="0" y2="1"><stop offset="0" stop-color="#32b67a"/><stop offset="0.143" stop-color="#2eb37c"/><stop offset="0.286" stop-color="#29af7f"/><stop offset="0.429" stop-color="#26ad81"/><stop offset="0.571" stop-color="#25ab82"/><stop offset="0.714" stop-color="#23a983"/><stop offset="0.857" stop-color="#22a884"/><stop offset="1" stop-color="#22a884"/></linearGradient><linearGradient id="g109" x1="0" y1="0" x2="0" y2="1"><stop offset="0" stop-color="#32b67a"/><stop offset="0.167" stop-color="#2fb47c"/><stop offset="0.333" stop-color="#2ab07f"/><stop offset="0.5" stop-color="#26ad81"/><stop offset="0.667" stop-color="#24aa83"/><stop offset="0.833" stop-color="#22a884"/><stop offset="1" stop-color="#22a884"/></linearGradient><linearGradient id="g110" x1="0" y1="0" x2="0" y2="1"><stop offset="0" stop-color="#34b679"/><stop offset="0.167" stop-color="#32b67a"/><stop offset="0.333" stop-color="#32b67a"/><stop offset="0.5" stop-color="#2eb37c"/><stop offset="0.667" stop-color="#29af7f"/><stop offset="0.833" stop-color="#25ac82"/><stop offset="1" stop-color="#23a983"/></linearGradient><linearGradient id="g111" x1="0" y1="0" x2="0" y2="1"><stop offset="0" stop-color="#34b679"/><stop offset="0.167" stop-color="#32b67a"/><stop offset="0.333" stop-color="#32b67a"/><stop offset="0.5" stop-color="#2fb47c"/><stop offset="0.667" stop-color="#29af7f"/><stop offset="0.833" stop-color="#25ac82"/><stop offset="1" stop-color="#23a983"/></linearGradient><linearGradient id="g112" x1="0" y1="0" x2="0" y2="1"><stop offset="0" stop-color="#34b679"/><stop offset="0.111" stop-color="#32b67a"/><stop offset="0.222" stop-color="#32b67a"/><stop offset="0.333" stop-color="#31b57b"/><stop offset="0.444" stop-color="#2cb17e"/><stop offset="0.556" stop-color="#26ad81"/><stop offset="0.667" stop-color="#23a983"/><stop offset="0.778" stop-color="#22a785"/><stop offset="0.889" stop-color="#21a685"/><stop offset="1" stop-color="#1fa287"/></linearGradient><linearGradient id="g113" x1="0" y1="0" x2="0" y2="1"><stop offset="0" stop-color="#34b679"/><stop offset="0.0769" stop-color="#32b67a"/><stop offset="0.154" stop-color="#32b67a"/><stop offset="0.231" stop-color="#31b57b"/><stop offset="0.308" stop-color="#2ab07f"/><stop offset="0.385" stop-color="#26ad81"/><stop offset="0.462" stop-color="#23a983"/><stop offset="0.538" stop-color="#21a685"/><stop offset="0.615" stop-color="#20a386"/><stop offset="0.692" stop-color="#1f9e89"/><stop offset="0.769" stop-color="#20938c"/><stop offset="0.846" stop-color="#218e8d"/><stop offset="0.923" stop-color="#228d8d"/><stop offset="1" stop-color="#218f8d"/></linearGradient><linearGradient id="g114" x1="0" y1="0" x2="0" y2="1"><stop offset="0" stop-color="#34b679"/><stop offset="0.0769" stop-color="#32b67a"/><stop offset="0.154" stop-color="#32b67a"/><stop offset="0.231" stop-color="#2fb47c"/><stop offset="0.308" stop-color="#29af7f"/><stop offset="0.385" stop-color="#25ab82"/><stop offset="0.462" stop-color="#22a785"/><stop offset="0.538" stop-color="#20a386"/><stop offset="0.615" stop-color="#1f9f88"/><stop offset="0.692" stop-color="#1f958b"/><stop offset="0.769" stop-color="#218e8d"/><stop offset="0.846" stop-color="#228c8d"/><stop offset="0.923" stop-color="#228d8d"/><stop offset="1" stop-color="#21908d"/></linearGradient><linearGradient id="g115" x1="0" y1="0" x2="0" y2="1"><stop offset="0" stop-color="#24aa83"/><stop offset="0.125" stop-color="#21a685"/><stop offset="0.25" stop-color="#1fa187"/><stop offset="0.375" stop-color="#1e9b8a"/><stop offset="0.5" stop-color="#20928c"/><stop offset="0.625" stop-color="#228d8d"/><stop offset="0.75" stop-color="#228c8d"/><stop offset="0.875" stop-color="#228d8d"/><stop offset="1" stop-color="#21908d"/></linearGradient><linearGradient id="g116" x1="0" y1="0" x2="0" y2="1"><stop offset="0" stop-color="#1fa287"/><stop offset="0.167" stop-color="#1e9c89"/><stop offset="0.333" stop-color="#20938c"/><stop offset="0.5" stop-color="#228d8d"/><stop offset="0.667" stop-color="#228c8d"/><stop offset="0.833" stop-color="#228d8d"/><stop offset="1" stop-color="#21908d"/></linearGradient><linearGradient id="g117" x1="0" y1="0" x2="0" y2="1"><stop offset="0" stop-color="#1f9e89"/><stop offset="0.167" stop-color="#1f978b"/><stop offset="0.333" stop-color="#21918c"/><stop offset="0.5" stop-color="#228d8d"/><stop offset="0.667" stop-color="#228c8d"/><stop offset="0.833" stop-color="#218e8d"/><stop offset="1" stop-color="#21908d"/></linearGradient><linearGradient id="g118" x1="0" y1="0" x2="0" y2="1"><stop offset="0" stop-color="#1fa188"/><stop offset="0.167" stop-color="#1e9b8a"/><stop offset="0.333" stop-color="#1f948c"/><stop offset="0.5" stop-color="#21908d"/><stop offset="0.667" stop-color="#218f8d"/><stop offset="0.833" stop-color="#218f8d"/><stop offset="1" stop-color="#21918c"/></linearGradient><linearGradient id="g119" x1="0" y1="0" x2="0" y2="1"><stop offset="0" stop-color="#1fa187"/><stop offset="0.167" stop-color="#1e9c89"/><stop offset="0.333" stop-color="#1f958b"/><stop offset="0.5" stop-color="#21918c"/><stop offset="0.667" stop-color="#21908d"/><stop offset="0.833" stop-color="#21908d"/><stop offset="1" stop-color="#21918c"/></linearGradient><linearGradient id="g120" x1="0" y1="0" x2="0" y2="1"><stop offset="0" stop-color="#1fa287"/><stop offset="0.167" stop-color="#1f9f88"/><stop offset="0.333" stop-color="#1f978b"/><stop offset="0.5" stop-color="#20928c"/><stop offset="0.667" stop-color="#21918c"/><stop offset="0.833" stop-color="#21918c"/><stop offset="1" stop-color="#20928c"/></linearGradient><linearGradient id="g121" x1="0" y1="0" x2="0" y2="1"><stop offset="0" stop-color="#20a486"/><stop offset="0.2" stop-color="#1fa287"/><stop offset="0.4" stop-color="#1e9c89"/><stop offset="0.6" stop-color="#20928c"/><stop offset="0.8" stop-color="#21918c"/><stop offset="1" stop-color="#21918c"/></linearGradient><linearGradient id="g122" x1="0" y1="0" x2="0" y2="1"><stop offset="0" stop-color="#21a585"/><stop offset="0.2" stop-color="#21a585"/><stop offset="0.4" stop-color="#20a386"/><stop offset="0.6" stop-color="#1e9b8a"/><stop offset="0.8" stop-color="#20928c"/><stop offset="1" stop-color="#21918c"/></linearGradient><linearGradient id="g123" x1="0" y1="0" x2="0" y2="1"><stop offset="0" stop-color="#21a685"/><stop offset="0.2" stop-color="#21a685"/><stop offset="0.4" stop-color="#21a685"/><stop offset="0.6" stop-color="#1fa187"/><stop offset="0.8" stop-color="#1f968b"/><stop offset="1" stop-color="#20928c"/></linearGradient><linearGradient id="g124" x1="0" y1="0" x2="0" y2="1"><stop offset="0" stop-color="#22a785"/><stop offset="0.25" stop-color="#22a785"/><stop offset="0.5" stop-color="#22a785"/><stop offset="0.75" stop-color="#1fa188"/><stop offset="1" stop-color="#1f958b"/></linearGradient><linearGradient id="g125" x1="0" y1="0" x2="0" y2="1"><stop offset="0" stop-color="#22a785"/><stop offset="0.2" stop-color="#22a785"/><stop offset="0.4" stop-color="#22a884"/><stop offset="0.6" stop-color="#22a884"/><stop offset="0.8" stop-color="#1fa187"/><stop offset="1" stop-color="#1f988b"/></linearGradient><linearGradient id="g126" x1="0" y1="0" x2="0" y2="1"><stop offset="0" stop-color="#32b67a"/><stop offset="0.111" stop-color="#2cb17e"/><stop offset="0.222" stop-color="#26ad81"/><stop offset="0.333" stop-color="#23a983"/><stop offset="0.444" stop-color="#22a785"/><stop offset="0.556" stop-color="#22a785"/><stop offset="0.667" stop-color="#22a884"/><stop offset="0.778" stop-color="#22a884"/><stop offset="0.889" stop-color="#20a386"/><stop offset="1" stop-color="#1e9b8a"/></linearGradient><linearGradient id="g127" x1="0" y1="0" x2="0" y2="1"><stop offset="0" stop-color="#86d549"/><stop offset="0.0588" stop-color="#89d548"/><stop offset="0.118" stop-color="#81d34d"/><stop offset="0.176" stop-color="#70cf57"/><stop offset="0.235" stop-color="#60ca60"/><stop offset="0.294" stop-color="#54c568"/><stop offset="0.353" stop-color="#4ac16d"/><stop offset="0.412" stop-color="#3fbc73"/><stop offset="0.471" stop-color="#35b779"/><stop offset="0.529" stop-color="#2db27d"/><stop offset="0.588" stop-color="#27ad81"/><stop offset="0.647" stop-color="#24aa83"/><stop offset="0.706" stop-color="#22a884"/><stop offset="0.765" stop-color="#22a785"/><stop offset="0.824" stop-color="#22a884"/><stop offset="0.882" stop-color="#22a884"/><stop offset="0.941" stop-color="#21a585"/><stop offset="1" stop-color="#1f9f88"/></linearGradient><linearGradient id="g128" x1="0" y1="0" x2="0" y2="1"><stop offset="0" stop-color="#86d549"/><stop offset="0.0588" stop-color="#8bd646"/><stop offset="0.118" stop-color="#86d549"/><stop offset="0.176" stop-color="#73d056"/><stop offset="0.235" stop-color="#63cb5f"/><stop offset="0.294" stop-color="#58c765"/><stop offset="0.353" stop-color="#4cc26c"/><stop offset="0.412" stop-color="#42be71"/><stop offset="0.471" stop-color="#38b977"/><stop offset="0.529" stop-color="#2fb47c"/><stop offset="0.588" stop-color="#29af7f"/><stop offset="0.647" stop-color="#25ab82"/><stop offset="0.706" stop-color="#22a884"/><stop offset="0.765" stop-color="#22a785"/><stop offset="0.824" stop-color="#22a785"/><stop offset="0.882" stop-color="#22a785"/><stop offset="0.941" stop-color="#21a685"/><stop offset="1" stop-color="#1fa187"/></linearGradient><linearGradient id="g129" x1="0" y1="0" x2="0" y2="1"><stop offset="0" stop-color="#86d549"/><stop offset="0.0714" stop-color="#8ed645"/><stop offset="0.143" stop-color="#89d548"/><stop offset="0.214" stop-color="#6ccd5a"/><stop offset="0.286" stop-color="#5ec962"/><stop offset="0.357" stop-color="#58c765"/><stop offset="0.429" stop-color="#4ec36b"/><stop offset="0.5" stop-color="#44bf70"/><stop offset="0.571" stop-color="#3aba76"/><stop offset="0.643" stop-color="#31b57b"/><stop offset="0.714" stop-color="#2ab07f"/><stop offset="0.786" stop-color="#25ac82"/><stop offset="0.857" stop-color="#23a983"/><stop offset="0.929" stop-color="#22a785"/><stop offset="1" stop-color="#22a785"/></linearGradient><linearGradient id="g130" x1="0" y1="0" x2="0" y2="1"><stop offset="0" stop-color="#86d549"/><stop offset="0.0833" stop-color="#8bd646"/><stop offset="0.167" stop-color="#81d34d"/><stop offset="0.25" stop-color="#60ca60"/><stop offset="0.333" stop-color="#5ac864"/><stop offset="0.417" stop-color="#56c667"/><stop offset="0.5" stop-color="#4ec36b"/><stop offset="0.583" stop-color="#42be71"/><stop offset="0.667" stop-color="#38b977"/><stop offset="0.75" stop-color="#2fb47c"/><stop offset="0.833" stop-color="#29af7f"/><stop offset="0.917" stop-color="#25ac82"/><stop offset="1" stop-color="#23a983"/></linearGradient><linearGradient id="g131" x1="0" y1="0" x2="0" y2="1"><stop offset="0" stop-color="#7cd250"/><stop offset="0.0769" stop-color="#84d44b"/><stop offset="0.154" stop-color="#86d549"/><stop offset="0.231" stop-color="#69cd5b"/><stop offset="0.308" stop-color="#56c667"/><stop offset="0.385" stop-color="#56c667"/><stop offset="0.462" stop-color="#54c568"/><stop offset="0.538" stop-color="#4cc26c"/><stop offset="0.615" stop-color="#42be71"/><stop offset="0.692" stop-color="#38b977"/><stop offset="0.769" stop-color="#31b57b"/><stop offset="0.846" stop-color="#2ab07f"/><stop offset="0.923" stop-color="#26ad81"/><stop offset="1" stop-color="#23a983"/></linearGradient><linearGradient id="g132" x1="0" y1="0" x2="0" y2="1"><stop offset="0" stop-color="#86d549"/><stop offset="0.0625" stop-color="#7cd250"/><stop offset="0.125" stop-color="#77d153"/><stop offset="0.187" stop-color="#7ad151"/><stop offset="0.25" stop-color="#7cd250"/><stop offset="0.313" stop-color="#7ad151"/><stop offset="0.375" stop-color="#58c765"/><stop offset="0.437" stop-color="#50c46a"/><stop offset="0.5" stop-color="#54c568"/><stop offset="0.563" stop-color="#54c568"/><stop offset="0.625" stop-color="#4cc26c"/><stop offset="0.687" stop-color="#42be71"/><stop offset="0.75" stop-color="#38b977"/><stop offset="0.813" stop-color="#31b57b"/><stop offset="0.875" stop-color="#2ab07f"/><stop offset="0.937" stop-color="#26ad81"/><stop offset="1" stop-color="#24aa83"/></linearGradient><linearGradient id="g133" x1="0" y1="0" x2="0" y2="1"><stop offset="0" stop-color="#b0dd2f"/><stop offset="0.0476" stop-color="#aadc32"/><stop offset="0.0952" stop-color="#a2da37"/><stop offset="0.143" stop-color="#95d840"/><stop offset="0.19" stop-color="#8ed645"/><stop offset="0.238" stop-color="#86d549"/><stop offset="0.286" stop-color="#7cd250"/><stop offset="0.333" stop-color="#77d153"/><stop offset="0.381" stop-color="#75d054"/><stop offset="0.429" stop-color="#75d054"/><stop offset="0.476" stop-color="#63cb5f"/><stop offset="0.524" stop-color="#50c46a"/><stop offset="0.571" stop-color="#50c46a"/><stop offset="0.619" stop-color="#52c569"/><stop offset="0.667" stop-color="#52c569"/><stop offset="0.714" stop-color="#4cc26c"/><stop offset="0.762" stop-color="#40bd72"/><stop offset="0.81" stop-color="#38b977"/><stop offset="0.857" stop-color="#31b57b"/><stop offset="0.905" stop-color="#2cb17e"/><stop offset="0.952" stop-color="#27ad81"/><stop offset="1" stop-color="#24aa83"/></linearGradient><linearGradient id="g134" x1="0" y1="0" x2="0" y2="1"><stop offset="0" stop-color="#b2dd2d"/><stop offset="0.0417" stop-color="#b0dd2f"/><stop offset="0.0833" stop-color="#b0dd2f"/><stop offset="0.125" stop-color="#addc30"/><stop offset="0.167" stop-color="#a8db34"/><stop offset="0.208" stop-color="#9dd93b"/><stop offset="0.25" stop-color="#95d840"/><stop offset="0.292" stop-color="#8ed645"/><stop offset="0.333" stop-color="#86d549"/><stop offset="0.375" stop-color="#7cd250"/><stop offset="0.417" stop-color="#75d054"/><stop offset="0.458" stop-color="#70cf57"/><stop offset="0.5" stop-color="#69cd5b"/><stop offset="0.542" stop-color="#58c765"/><stop offset="0.583" stop-color="#4ec36b"/><stop offset="0.625" stop-color="#50c46a"/><stop offset="0.667" stop-color="#52c569"/><stop offset="0.708" stop-color="#50c46a"/><stop offset="0.75" stop-color="#4ac16d"/><stop offset="0.792" stop-color="#40bd72"/><stop offset="0.833" stop-color="#37b878"/><stop offset="0.875" stop-color="#31b57b"/><stop offset="0.917" stop-color="#2cb17e"/><stop offset="0.958" stop-color="#27ad81"/><stop offset="1" stop-color="#25ab82"/></linearGradient><linearGradient id="g135" x1="0" y1="0" x2="0" y2="1"><stop offset="0" stop-color="#c8e020"/><stop offset="0.04" stop-color="#c5e021"/><stop offset="0.08" stop-color="#bddf26"/><stop offset="0.12" stop-color="#b2dd2d"/><stop offset="0.16" stop-color="#b0dd2f"/><stop offset="0.2" stop-color="#b0dd2f"/><stop offset="0.24" stop-color="#addc30"/><stop offset="0.28" stop-color="#a5db36"/><stop offset="0.32" stop-color="#9dd93b"/><stop offset="0.36" stop-color="#95d840"/><stop offset="0.4" stop-color="#90d743"/><stop offset="0.44" stop-color="#86d549"/><stop offset="0.48" stop-color="#7cd250"/><stop offset="0.52" stop-color="#73d056"/><stop offset="0.56" stop-color="#6ccd5a"/><stop offset="0.6" stop-color="#60ca60"/><stop offset="0.64" stop-color="#54c568"/><stop offset="0.68" stop-color="#50c46a"/><stop offset="0.72" stop-color="#52c569"/><stop offset="0.76" stop-color="#52c569"/><stop offset="0.8" stop-color="#4ec36b"/><stop offset="0.84" stop-color="#44bf70"/><stop offset="0.88" stop-color="#3bbb75"/><stop offset="0.92" stop-color="#34b679"/><stop offset="0.96" stop-color="#2eb37c"/><stop offset="1" stop-color="#2ab07f"/></linearGradient><linearGradient id="g136" x1="0" y1="0" x2="0" y2="1"><stop offset="0" stop-color="#cae11f"/><stop offset="0.0556" stop-color="#cae11f"/><stop offset="0.111" stop-color="#cae11f"/><stop offset="0.167" stop-color="#cde11d"/><stop offset="0.222" stop-color="#cae11f"/><stop offset="0.278" stop-color="#bddf26"/><stop offset="0.333" stop-color="#b0dd2f"/><stop offset="0.389" stop-color="#b0dd2f"/><stop offset="0.444" stop-color="#b0dd2f"/><stop offset="0.5" stop-color="#aadc32"/><stop offset="0.556" stop-color="#a2da37"/><stop offset="0.611" stop-color="#9bd93c"/><stop offset="0.667" stop-color="#98d83e"/><stop offset="0.722" stop-color="#93d741"/><stop offset="0.778" stop-color="#89d548"/><stop offset="0.833" stop-color="#7cd250"/><stop offset="0.889" stop-color="#70cf57"/><stop offset="0.944" stop-color="#67cc5c"/><stop offset="1" stop-color="#5cc863"/></linearGradient><linearGradient id="g137" x1="0" y1="0" x2="0" y2="1"><stop offset="0" stop-color="#cae11f"/><stop offset="0.1" stop-color="#cae11f"/><stop offset="0.2" stop-color="#cae11f"/><stop offset="0.3" stop-color="#d0e11c"/><stop offset="0.4" stop-color="#d2e21b"/><stop offset="0.5" stop-color="#c5e021"/><stop offset="0.6" stop-color="#b2dd2d"/><stop offset="0.7" stop-color="#b0dd2f"/><stop offset="0.8" stop-color="#b0dd2f"/><stop offset="0.9" stop-color="#a8db34"/><stop offset="1" stop-color="#a0da39"/></linearGradient><linearGradient id="g138" x1="0" y1="0" x2="0" y2="1"><stop offset="0" stop-color="#cae11f"/><stop offset="0.111" stop-color="#cae11f"/><stop offset="0.222" stop-color="#cde11d"/><stop offset="0.333" stop-color="#d5e21a"/><stop offset="0.444" stop-color="#d8e219"/><stop offset="0.556" stop-color="#d0e11c"/><stop offset="0.667" stop-color="#bade28"/><stop offset="0.778" stop-color="#b2dd2d"/><stop offset="0.889" stop-color="#b0dd2f"/><stop offset="1" stop-color="#a8db34"/></linearGradient><linearGradient id="g139" x1="0" y1="0" x2="0" y2="1"><stop offset="0" stop-color="#cae11f"/><stop offset="0.1" stop-color="#cae11f"/><stop offset="0.2" stop-color="#cde11d"/><stop offset="0.3" stop-color="#d8e219"/><stop offset="0.4" stop-color="#dde318"/><stop offset="0.5" stop-color="#d8e219"/><stop offset="0.6" stop-color="#c8e020"/><stop offset="0.7" stop-color="#b8de29"/><stop offset="0.8" stop-color="#b0dd2f"/><stop offset="0.9" stop-color="#aadc32"/><stop offset="1" stop-color="#a2da37"/></linearGradient><linearGradient id="g140" x1="0" y1="0" x2="0" y2="1"><stop offset="0" stop-color="#cae11f"/><stop offset="0.0769" stop-color="#cae11f"/><stop offset="0.154" stop-color="#d0e11c"/><stop offset="0.231" stop-color="#dae319"/><stop offset="0.308" stop-color="#dde318"/><stop offset="0.385" stop-color="#dae319"/><stop offset="0.462" stop-color="#cae11f"/><stop offset="0.538" stop-color="#bade28"/><stop offset="0.615" stop-color="#b0dd2f"/><stop offset="0.692" stop-color="#a5db36"/><stop offset="0.769" stop-color="#a0da39"/><stop offset="0.846" stop-color="#a0da39"/><stop offset="0.923" stop-color="#a0da39"/><stop offset="1" stop-color="#a0da39"/></linearGradient><linearGradient id="g141" x1="0" y1="0" x2="0" y2="1"><stop offset="0" stop-color="#dde318"/><stop offset="0.0556" stop-color="#dfe318"/><stop offset="0.111" stop-color="#dae319"/><stop offset="0.167" stop-color="#cae11f"/><stop offset="0.222" stop-color="#bade28"/><stop offset="0.278" stop-color="#addc30"/><stop offset="0.333" stop-color="#a5db36"/><stop offset="0.389" stop-color="#a0da39"/><stop offset="0.444" stop-color="#a0da39"/><stop offset="0.5" stop-color="#a2da37"/><stop offset="0.556" stop-color="#a0da39"/><stop offset="0.611" stop-color="#9bd93c"/><stop offset="0.667" stop-color="#89d548"/><stop offset="0.722" stop-color="#75d054"/><stop offset="0.778" stop-color="#65cb5e"/><stop offset="0.833" stop-color="#5cc863"/><stop offset="0.889" stop-color="#5cc863"/><stop offset="0.944" stop-color="#5cc863"/><stop offset="1" stop-color="#5cc863"/></linearGradient><linearGradient id="g142" x1="0" y1="0" x2="0" y2="1"><stop offset="0" stop-color="#dde318"/><stop offset="0.0385" stop-color="#dde318"/><stop offset="0.0769" stop-color="#d8e219"/><stop offset="0.115" stop-color="#cae11f"/><stop offset="0.154" stop-color="#bade28"/><stop offset="0.192" stop-color="#addc30"/><stop offset="0.231" stop-color="#a2da37"/><stop offset="0.269" stop-color="#a0da39"/><stop offset="0.308" stop-color="#a0da39"/><stop offset="0.346" stop-color="#a2da37"/><stop offset="0.385" stop-color="#a0da39"/><stop offset="0.423" stop-color="#98d83e"/><stop offset="0.462" stop-color="#86d549"/><stop offset="0.5" stop-color="#70cf57"/><stop offset="0.538" stop-color="#63cb5f"/><stop offset="0.577" stop-color="#5cc863"/><stop offset="0.615" stop-color="#5cc863"/><stop offset="0.654" stop-color="#5cc863"/><stop offset="0.692" stop-color="#5cc863"/><stop offset="0.731" stop-color="#58c765"/><stop offset="0.769" stop-color="#48c16e"/><stop offset="0.808" stop-color="#37b878"/><stop offset="0.846" stop-color="#2fb47c"/><stop offset="0.885" stop-color="#2fb47c"/><stop offset="0.923" stop-color="#2eb37c"/><stop offset="0.962" stop-color="#29af7f"/><stop offset="1" stop-color="#24aa83"/></linearGradient><linearGradient id="g143" x1="0" y1="0" x2="0" y2="1"><stop offset="0" stop-color="#dde318"/><stop offset="0.037" stop-color="#dde318"/><stop offset="0.0741" stop-color="#d5e21a"/><stop offset="0.111" stop-color="#c5e021"/><stop offset="0.148" stop-color="#b5de2b"/><stop offset="0.185" stop-color="#a8db34"/><stop offset="0.222" stop-color="#a0da39"/><stop offset="0.259" stop-color="#a0da39"/><stop offset="0.296" stop-color="#a0da39"/><stop offset="0.333" stop-color="#a2da37"/><stop offset="0.37" stop-color="#a0da39"/><stop offset="0.407" stop-color="#95d840"/><stop offset="0.444" stop-color="#81d34d"/><stop offset="0.481" stop-color="#6ece58"/><stop offset="0.519" stop-color="#60ca60"/><stop offset="0.556" stop-color="#5cc863"/><stop offset="0.593" stop-color="#5cc863"/><stop offset="0.63" stop-color="#5cc863"/><stop offset="0.667" stop-color="#5cc863"/><stop offset="0.704" stop-color="#56c667"/><stop offset="0.741" stop-color="#44bf70"/><stop offset="0.778" stop-color="#34b679"/><stop offset="0.815" stop-color="#2fb47c"/><stop offset="0.852" stop-color="#2fb47c"/><stop offset="0.889" stop-color="#2eb37c"/><stop offset="0.926" stop-color="#28ae80"/><stop offset="0.963" stop-color="#22a884"/><stop offset="1" stop-color="#21a585"/></linearGradient><linearGradient id="g144" x1="0" y1="0" x2="0" y2="1"><stop offset="0" stop-color="#a0da39"/><stop offset="0.0476" stop-color="#a0da39"/><stop offset="0.0952" stop-color="#a0da39"/><stop offset="0.143" stop-color="#a0da39"/><stop offset="0.19" stop-color="#9dd93b"/><stop offset="0.238" stop-color="#90d743"/><stop offset="0.286" stop-color="#7cd250"/><stop offset="0.333" stop-color="#69cd5b"/><stop offset="0.381" stop-color="#5ec962"/><stop offset="0.429" stop-color="#5cc863"/><stop offset="0.476" stop-color="#5cc863"/><stop offset="0.524" stop-color="#5cc863"/><stop offset="0.571" stop-color="#5ac864"/><stop offset="0.619" stop-color="#4ec36b"/><stop offset="0.667" stop-color="#38b977"/><stop offset="0.714" stop-color="#2fb47c"/><stop offset="0.762" stop-color="#2fb47c"/><stop offset="0.81" stop-color="#2fb47c"/><stop offset="0.857" stop-color="#29af7f"/><stop offset="0.905" stop-color="#22a884"/><stop offset="0.952" stop-color="#20a486"/><stop offset="1" stop-color="#1fa287"/></linearGradient><linearGradient id="g145" x1="0" y1="0" x2="0" y2="1"><stop offset="0" stop-color="#75d054"/><stop offset="0.0667" stop-color="#63cb5f"/><stop offset="0.133" stop-color="#5cc863"/><stop offset="0.2" stop-color="#5cc863"/><stop offset="0.267" stop-color="#5cc863"/><stop offset="0.333" stop-color="#5cc863"/><stop offset="0.4" stop-color="#56c667"/><stop offset="0.467" stop-color="#46c06f"/><stop offset="0.533" stop-color="#34b679"/><stop offset="0.6" stop-color="#2fb47c"/><stop offset="0.667" stop-color="#2fb47c"/><stop offset="0.733" stop-color="#2eb37c"/><stop offset="0.8" stop-color="#25ac82"/><stop offset="0.867" stop-color="#21a585"/><stop offset="0.933" stop-color="#20a386"/><stop offset="1" stop-color="#1fa287"/></linearGradient><linearGradient id="g146" x1="0" y1="0" x2="0" y2="1"><stop offset="0" stop-color="#2db27d"/><stop offset="0.25" stop-color="#23a983"/><stop offset="0.5" stop-color="#20a386"/><stop offset="0.75" stop-color="#20a386"/><stop offset="1" stop-color="#1fa187"/></linearGradient><linearGradient id="g147" x1="0" y1="0" x2="0" y2="1"><stop offset="0" stop-color="#25ac82"/><stop offset="0.25" stop-color="#20a486"/><stop offset="0.5" stop-color="#20a386"/><stop offset="0.75" stop-color="#1fa287"/><stop offset="1" stop-color="#1f9f88"/></linearGradient><linearGradient id="g148" x1="0" y1="0" x2="0" y2="1"><stop offset="0" stop-color="#22a884"/><stop offset="0.25" stop-color="#20a386"/><stop offset="0.5" stop-color="#20a386"/><stop offset="0.75" stop-color="#1fa188"/><stop offset="1" stop-color="#1f978b"/></linearGradient><linearGradient id="g149" x1="0" y1="0" x2="0" y2="1"><stop offset="0" stop-color="#21a685"/><stop offset="0.167" stop-color="#20a386"/><stop offset="0.333" stop-color="#20a386"/><stop offset="0.5" stop-color="#1fa188"/><stop offset="0.667" stop-color="#1f978b"/><stop offset="0.833" stop-color="#21908d"/><stop offset="1" stop-color="#228d8d"/></linearGradient><linearGradient id="g150" x1="0" y1="0" x2="0" y2="1"><stop offset="0" stop-color="#21a685"/><stop offset="0.125" stop-color="#20a386"/><stop offset="0.25" stop-color="#20a386"/><stop offset="0.375" stop-color="#1fa187"/><stop offset="0.5" stop-color="#1e9b8a"/><stop offset="0.625" stop-color="#20928c"/><stop offset="0.75" stop-color="#228d8d"/><stop offset="0.875" stop-color="#228c8d"/><stop offset="1" stop-color="#228c8d"/></linearGradient><linearGradient id="g151" x1="0" y1="0" x2="0" y2="1"><stop offset="0" stop-color="#1fa287"/><stop offset="0.167" stop-color="#1fa188"/><stop offset="0.333" stop-color="#1f988b"/><stop offset="0.5" stop-color="#218f8d"/><stop offset="0.667" stop-color="#228c8d"/><stop offset="0.833" stop-color="#228c8d"/><stop offset="1" stop-color="#228c8d"/></linearGradient><linearGradient id="g152" x1="0" y1="0" x2="0" y2="1"><stop offset="0" stop-color="#1f978b"/><stop offset="0.25" stop-color="#218e8d"/><stop offset="0.5" stop-color="#228c8d"/><stop offset="0.75" stop-color="#228b8d"/><stop offset="1" stop-color="#228b8d"/></linearGradient><linearGradient id="g153" x1="0" y1="0" x2="0" y2="1"><stop offset="0" stop-color="#20928c"/><stop offset="0.25" stop-color="#228d8d"/><stop offset="0.5" stop-color="#228b8d"/><stop offset="0.75" stop-color="#228b8d"/><stop offset="1" stop-color="#238a8d"/></linearGradient><linearGradient id="g154" x1="0" y1="0" x2="0" y2="1"><stop offset="0" stop-color="#1f958b"/><stop offset="0.25" stop-color="#218f8d"/><stop offset="0.5" stop-color="#228c8d"/><stop offset="0.75" stop-color="#228b8d"/><stop offset="1" stop-color="#238a8d"/></linearGradient><linearGradient id="g155" x1="0" y1="0" x2="0" y2="1"><stop offset="0" stop-color="#1f958b"/><stop offset="0.25" stop-color="#218f8d"/><stop offset="0.5" stop-color="#228c8d"/><stop offset="0.75" stop-color="#228b8d"/><stop offset="1" stop-color="#23898e"/></linearGradient><linearGradient id="g156" x1="0" y1="0" x2="0" y2="1"><stop offset="0" stop-color="#1f948c"/><stop offset="0.2" stop-color="#218f8d"/><stop offset="0.4" stop-color="#228c8d"/><stop offset="0.6" stop-color="#238a8d"/><stop offset="0.8" stop-color="#23898e"/><stop offset="1" stop-color="#24878e"/></linearGradient><linearGradient id="g157" x1="0" y1="0" x2="0" y2="1"><stop offset="0" stop-color="#20928c"/><stop offset="0.2" stop-color="#228d8d"/><stop offset="0.4" stop-color="#238a8d"/><stop offset="0.6" stop-color="#23898e"/><stop offset="0.8" stop-color="#24878e"/><stop offset="1" stop-color="#24878e"/></linearGradient><linearGradient id="g158" x1="0" y1="0" x2="0" y2="1"><stop offset="0" stop-color="#21918c"/><stop offset="0.167" stop-color="#228d8d"/><stop offset="0.333" stop-color="#238a8d"/><stop offset="0.5" stop-color="#23898e"/><stop offset="0.667" stop-color="#23888e"/><stop offset="0.833" stop-color="#24868e"/><stop offset="1" stop-color="#24878e"/></linearGradient><linearGradient id="g159" x1="0" y1="0" x2="0" y2="1"><stop offset="0" stop-color="#228d8d"/><stop offset="0.2" stop-color="#238a8d"/><stop offset="0.4" stop-color="#23898e"/><stop offset="0.6" stop-color="#23888e"/><stop offset="0.8" stop-color="#24878e"/><stop offset="1" stop-color="#24878e"/></linearGradient><linearGradient id="g160" x1="0" y1="0" x2="0" y2="1"><stop offset="0" stop-color="#228c8d"/><stop offset="0.2" stop-color="#238a8d"/><stop offset="0.4" stop-color="#23898e"/><stop offset="0.6" stop-color="#23898e"/><stop offset="0.8" stop-color="#24878e"/><stop offset="1" stop-color="#24878e"/></linearGradient><linearGradient id="g161" x1="0" y1="0" x2="0" y2="1"><stop offset="0" stop-color="#228c8d"/><stop offset="0.2" stop-color="#238a8d"/><stop offset="0.4" stop-color="#23898e"/><stop offset="0.6" stop-color="#23898e"/><stop offset="0.8" stop-color="#24878e"/><stop offset="1" stop-color="#24878e"/></linearGradient><linearGradient id="g162" x1="0" y1="0" x2="0" y2="1"><stop offset="0" stop-color="#228c8d"/><stop offset="0.2" stop-color="#23898e"/><stop offset="0.4" stop-color="#23898e"/><stop offset="0.6" stop-color="#23888e"/><stop offset="0.8" stop-color="#24868e"/><stop offset="1" stop-color="#24878e"/></linearGradient><linearGradient id="g163" x1="0" y1="0" x2="0" y2="1"><stop offset="0" stop-color="#228c8d"/><stop offset="0.2" stop-color="#23898e"/><stop offset="0.4" stop-color="#23888e"/><stop offset="0.6" stop-color="#24878e"/><stop offset="0.8" stop-color="#24868e"/><stop offset="1" stop-color="#24868e"/></linearGradient><linearGradient id="g164" x1="0" y1="0" x2="0" y2="1"><stop offset="0" stop-color="#228c8d"/><stop offset="0.167" stop-color="#23898e"/><stop offset="0.333" stop-color="#23888e"/><stop offset="0.5" stop-color="#24878e"/><stop offset="0.667" stop-color="#24868e"/><stop offset="0.833" stop-color="#24868e"/><stop offset="1" stop-color="#24868e"/></linearGradient><linearGradient id="g165" x1="0" y1="0" x2="0" y2="1"><stop offset="0" stop-color="#23898e"/><stop offset="0.2" stop-color="#24878e"/><stop offset="0.4" stop-color="#24868e"/><stop offset="0.6" stop-color="#24868e"/><stop offset="0.8" stop-color="#25858e"/><stop offset="1" stop-color="#25858e"/></linearGradient><linearGradient id="g166" x1="0" y1="0" x2="0" y2="1"><stop offset="0" stop-color="#23888e"/><stop offset="0.25" stop-color="#24868e"/><stop offset="0.5" stop-color="#25858e"/><stop offset="0.75" stop-color="#25848e"/><stop offset="1" stop-color="#25858e"/></linearGradient><linearGradient id="g167" x1="0" y1="0" x2="0" y2="1"><stop offset="0" stop-color="#23888e"/><stop offset="0.25" stop-color="#24868e"/><stop offset="0.5" stop-color="#25848e"/><stop offset="0.75" stop-color="#25848e"/><stop offset="1" stop-color="#25848e"/></linearGradient><linearGradient id="g168" x1="0" y1="0" x2="0" y2="1"><stop offset="0" stop-color="#23888e"/><stop offset="0.25" stop-color="#24868e"/><stop offset="0.5" stop-color="#25848e"/><stop offset="0.75" stop-color="#25848e"/><stop offset="1" stop-color="#25838e"/></linearGradient><linearGradient id="g169" x1="0" y1="0" x2="0" y2="1"><stop offset="0" stop-color="#23898e"/><stop offset="0.25" stop-color="#24868e"/><stop offset="0.5" stop-color="#25848e"/><stop offset="0.75" stop-color="#25848e"/><stop offset="1" stop-color="#26828e"/></linearGradient><linearGradient id="g170" x1="0" y1="0" x2="0" y2="1"><stop offset="0" stop-color="#238a8d"/><stop offset="0.2" stop-color="#24878e"/><stop offset="0.4" stop-color="#25858e"/><stop offset="0.6" stop-color="#25838e"/><stop offset="0.8" stop-color="#26828e"/><stop offset="1" stop-color="#26828e"/></linearGradient><linearGradient id="g171" x1="0" y1="0" x2="0" y2="1"><stop offset="0" stop-color="#228b8d"/><stop offset="0.2" stop-color="#23888e"/><stop offset="0.4" stop-color="#25858e"/><stop offset="0.6" stop-color="#26828e"/><stop offset="0.8" stop-color="#26818e"/><stop offset="1" stop-color="#26818e"/></linearGradient><linearGradient id="g172" x1="0" y1="0" x2="0" y2="1"><stop offset="0" stop-color="#218e8d"/><stop offset="0.167" stop-color="#228d8d"/><stop offset="0.333" stop-color="#238a8d"/><stop offset="0.5" stop-color="#25858e"/><stop offset="0.667" stop-color="#26818e"/><stop offset="0.833" stop-color="#27808e"/><stop offset="1" stop-color="#27808e"/></linearGradient><linearGradient id="g173" x1="0" y1="0" x2="0" y2="1"><stop offset="0" stop-color="#218f8d"/><stop offset="0.167" stop-color="#218f8d"/><stop offset="0.333" stop-color="#218f8d"/><stop offset="0.5" stop-color="#23898e"/><stop offset="0.667" stop-color="#26818e"/><stop offset="0.833" stop-color="#27808e"/><stop offset="1" stop-color="#27808e"/></linearGradient><linearGradient id="g174" x1="0" y1="0" x2="0" y2="1"><stop offset="0" stop-color="#218f8d"/><stop offset="0.143" stop-color="#218f8d"/><stop offset="0.286" stop-color="#21908d"/><stop offset="0.429" stop-color="#21908d"/><stop offset="0.571" stop-color="#238a8d"/><stop offset="0.714" stop-color="#26828e"/><stop offset="0.857" stop-color="#27808e"/><stop offset="1" stop-color="#277f8e"/></linearGradient><linearGradient id="g175" x1="0" y1="0" x2="0" y2="1"><stop offset="0" stop-color="#21908d"/><stop offset="0.167" stop-color="#21908d"/><stop offset="0.333" stop-color="#21908d"/><stop offset="0.5" stop-color="#21908d"/><stop offset="0.667" stop-color="#24878e"/><stop offset="0.833" stop-color="#26818e"/><stop offset="1" stop-color="#277f8e"/></linearGradient><linearGradient id="g176" x1="0" y1="0" x2="0" y2="1"><stop offset="0" stop-color="#21908d"/><stop offset="0.167" stop-color="#21908d"/><stop offset="0.333" stop-color="#21908d"/><stop offset="0.5" stop-color="#21908d"/><stop offset="0.667" stop-color="#228b8d"/><stop offset="0.833" stop-color="#26828e"/><stop offset="1" stop-color="#27808e"/></linearGradient><linearGradient id="g177" x1="0" y1="0" x2="0" y2="1"><stop offset="0" stop-color="#21908d"/><stop offset="0.167" stop-color="#218f8d"/><stop offset="0.333" stop-color="#21908d"/><stop offset="0.5" stop-color="#21908d"/><stop offset="0.667" stop-color="#228b8d"/><stop offset="0.833" stop-color="#26828e"/><stop offset="1" stop-color="#277e8e"/></linearGradient><linearGradient id="g178" x1="0" y1="0" x2="0" y2="1"><stop offset="0" stop-color="#218f8d"/><stop offset="0.2" stop-color="#218f8d"/><stop offset="0.4" stop-color="#218f8d"/><stop offset="0.6" stop-color="#228b8d"/><stop offset="0.8" stop-color="#25838e"/><stop offset="1" stop-color="#297b8e"/></linearGradient><linearGradient id="g179" x1="0" y1="0" x2="0" y2="1"><stop offset="0" stop-color="#218e8d"/><stop offset="0.25" stop-color="#218e8d"/><stop offset="0.5" stop-color="#238a8d"/><stop offset="0.75" stop-color="#26828e"/><stop offset="1" stop-color="#2a768e"/></linearGradient><linearGradient id="g180" x1="0" y1="0" x2="0" y2="1"><stop offset="0" stop-color="#228d8d"/><stop offset="0.167" stop-color="#228b8d"/><stop offset="0.333" stop-color="#24868e"/><stop offset="0.5" stop-color="#287c8e"/><stop offset="0.667" stop-color="#2f6b8e"/><stop offset="0.833" stop-color="#3a548c"/><stop offset="1" stop-color="#3f4889"/></linearGradient><linearGradient id="g181" x1="0" y1="0" x2="0" y2="1"><stop offset="0" stop-color="#228c8d"/><stop offset="0.143" stop-color="#238a8d"/><stop offset="0.286" stop-color="#26828e"/><stop offset="0.429" stop-color="#2c738e"/><stop offset="0.571" stop-color="#375b8d"/><stop offset="0.714" stop-color="#3f4889"/><stop offset="0.857" stop-color="#404588"/><stop offset="1" stop-color="#3e4989"/></linearGradient><linearGradient id="g182" x1="0" y1="0" x2="0" y2="1"><stop offset="0" stop-color="#20928c"/><stop offset="0.0909" stop-color="#228d8d"/><stop offset="0.182" stop-color="#228c8d"/><stop offset="0.273" stop-color="#228b8d"/><stop offset="0.364" stop-color="#228b8d"/><stop offset="0.455" stop-color="#24878e"/><stop offset="0.545" stop-color="#287d8e"/><stop offset="0.636" stop-color="#30698e"/><stop offset="0.727" stop-color="#3b518b"/><stop offset="0.818" stop-color="#404588"/><stop offset="0.909" stop-color="#414487"/><stop offset="1" stop-color="#3f4788"/></linearGradient><linearGradient id="g183" x1="0" y1="0" x2="0" y2="1"><stop offset="0" stop-color="#31b57b"/><stop offset="0.0556" stop-color="#2fb47c"/><stop offset="0.111" stop-color="#2fb47c"/><stop offset="0.167" stop-color="#2db27d"/><stop offset="0.222" stop-color="#28ae80"/><stop offset="0.278" stop-color="#21a685"/><stop offset="0.333" stop-color="#1e9c89"/><stop offset="0.389" stop-color="#20928c"/><stop offset="0.444" stop-color="#218e8d"/><stop offset="0.5" stop-color="#228c8d"/><stop offset="0.556" stop-color="#228b8d"/><stop offset="0.611" stop-color="#228b8d"/><stop offset="0.667" stop-color="#23888e"/><stop offset="0.722" stop-color="#277e8e"/><stop offset="0.778" stop-color="#306a8e"/><stop offset="0.833" stop-color="#3b518b"/><stop offset="0.889" stop-color="#404588"/><stop offset="0.944" stop-color="#414487"/><stop offset="1" stop-color="#3f4788"/></linearGradient><linearGradient id="g184" x1="0" y1="0" x2="0" y2="1"><stop offset="0" stop-color="#67cc5c"/><stop offset="0.0417" stop-color="#65cb5e"/><stop offset="0.0833" stop-color="#5ec962"/><stop offset="0.125" stop-color="#54c568"/><stop offset="0.167" stop-color="#46c06f"/><stop offset="0.208" stop-color="#37b878"/><stop offset="0.25" stop-color="#31b57b"/><stop offset="0.292" stop-color="#2fb47c"/><stop offset="0.333" stop-color="#2fb47c"/><stop offset="0.375" stop-color="#2eb37c"/><stop offset="0.417" stop-color="#29af7f"/><stop offset="0.458" stop-color="#22a785"/><stop offset="0.5" stop-color="#1e9d89"/><stop offset="0.542" stop-color="#20928c"/><stop offset="0.583" stop-color="#228d8d"/><stop offset="0.625" stop-color="#228c8d"/><stop offset="0.667" stop-color="#228b8d"/><stop offset="0.708" stop-color="#228b8d"/><stop offset="0.75" stop-color="#23888e"/><stop offset="0.792" stop-color="#277e8e"/><stop offset="0.833" stop-color="#2f6b8e"/><stop offset="0.875" stop-color="#3b528b"/><stop offset="0.917" stop-color="#404688"/><stop offset="0.958" stop-color="#404588"/><stop offset="1" stop-color="#3f4889"/></linearGradient><linearGradient id="g185" x1="0" y1="0" x2="0" y2="1"><stop offset="0" stop-color="#6ccd5a"/><stop offset="0.037" stop-color="#6ece58"/><stop offset="0.0741" stop-color="#65cb5e"/><stop offset="0.111" stop-color="#60ca60"/><stop offset="0.148" stop-color="#65cb5e"/><stop offset="0.185" stop-color="#65cb5e"/><stop offset="0.222" stop-color="#60ca60"/><stop offset="0.259" stop-color="#58c765"/><stop offset="0.296" stop-color="#4cc26c"/><stop offset="0.333" stop-color="#3bbb75"/><stop offset="0.37" stop-color="#32b67a"/><stop offset="0.407" stop-color="#2fb47c"/><stop offset="0.444" stop-color="#2fb47c"/><stop offset="0.481" stop-color="#2fb47c"/><stop offset="0.519" stop-color="#2cb17e"/><stop offset="0.556" stop-color="#25ac82"/><stop offset="0.593" stop-color="#1fa187"/><stop offset="0.63" stop-color="#1f978b"/><stop offset="0.667" stop-color="#218f8d"/><stop offset="0.704" stop-color="#228c8d"/><stop offset="0.741" stop-color="#228b8d"/><stop offset="0.778" stop-color="#228b8d"/><stop offset="0.815" stop-color="#238a8d"/><stop offset="0.852" stop-color="#25838e"/><stop offset="0.889" stop-color="#2b748e"/><stop offset="0.926" stop-color="#355f8d"/><stop offset="0.963" stop-color="#3d4d8a"/><stop offset="1" stop-color="#3f4788"/></linearGradient><linearGradient id="g186" x1="0" y1="0" x2="0" y2="1"><stop offset="0" stop-color="#6ece58"/><stop offset="0.05" stop-color="#6ccd5a"/><stop offset="0.1" stop-color="#6ece58"/><stop offset="0.15" stop-color="#5ec962"/><stop offset="0.2" stop-color="#60ca60"/><stop offset="0.25" stop-color="#67cc5c"/><stop offset="0.3" stop-color="#63cb5f"/><stop offset="0.35" stop-color="#5ec962"/><stop offset="0.4" stop-color="#56c667"/><stop offset="0.45" stop-color="#48c16e"/><stop offset="0.5" stop-color="#37b878"/><stop offset="0.55" stop-color="#31b57b"/><stop offset="0.6" stop-color="#2fb47c"/><stop offset="0.65" stop-color="#2fb47c"/><stop offset="0.7" stop-color="#2fb47c"/><stop offset="0.75" stop-color="#2cb17e"/><stop offset="0.8" stop-color="#24aa83"/><stop offset="0.85" stop-color="#1f9f88"/><stop offset="0.9" stop-color="#1f948c"/><stop offset="0.95" stop-color="#218e8d"/><stop offset="1" stop-color="#228c8d"/></linearGradient><linearGradient id="g187" x1="0" y1="0" x2="0" y2="1"><stop offset="0" stop-color="#bade28"/><stop offset="0.0526" stop-color="#b5de2b"/><stop offset="0.105" stop-color="#84d44b"/><stop offset="0.158" stop-color="#70cf57"/><stop offset="0.211" stop-color="#7cd250"/><stop offset="0.263" stop-color="#65cb5e"/><stop offset="0.316" stop-color="#60ca60"/><stop offset="0.368" stop-color="#67cc5c"/><stop offset="0.421" stop-color="#65cb5e"/><stop offset="0.474" stop-color="#60ca60"/><stop offset="0.526" stop-color="#5cc863"/><stop offset="0.579" stop-color="#52c569"/><stop offset="0.632" stop-color="#40bd72"/><stop offset="0.684" stop-color="#34b679"/><stop offset="0.737" stop-color="#2fb47c"/><stop offset="0.789" stop-color="#2fb47c"/><stop offset="0.842" stop-color="#2fb47c"/><stop offset="0.895" stop-color="#2fb47c"/><stop offset="0.947" stop-color="#29af7f"/><stop offset="1" stop-color="#21a685"/></linearGradient><linearGradient id="g188" x1="0" y1="0" x2="0" y2="1"><stop offset="0" stop-color="#c0df25"/><stop offset="0.1" stop-color="#c0df25"/><stop offset="0.2" stop-color="#95d840"/><stop offset="0.3" stop-color="#90d743"/><stop offset="0.4" stop-color="#89d548"/><stop offset="0.5" stop-color="#6ece58"/><stop offset="0.6" stop-color="#6ccd5a"/><stop offset="0.7" stop-color="#69cd5b"/><stop offset="0.8" stop-color="#60ca60"/><stop offset="0.9" stop-color="#5ec962"/><stop offset="1" stop-color="#58c765"/></linearGradient><linearGradient id="g189" x1="0" y1="0" x2="0" y2="1"><stop offset="0" stop-color="#c0df25"/><stop offset="0.0556" stop-color="#c2df23"/><stop offset="0.111" stop-color="#aadc32"/><stop offset="0.167" stop-color="#addc30"/><stop offset="0.222" stop-color="#a2da37"/><stop offset="0.278" stop-color="#90d743"/><stop offset="0.333" stop-color="#81d34d"/><stop offset="0.389" stop-color="#75d054"/><stop offset="0.444" stop-color="#65cb5e"/><stop offset="0.5" stop-color="#5ec962"/><stop offset="0.556" stop-color="#5cc863"/><stop offset="0.611" stop-color="#58c765"/><stop offset="0.667" stop-color="#46c06f"/><stop offset="0.722" stop-color="#38b977"/><stop offset="0.778" stop-color="#32b67a"/><stop offset="0.833" stop-color="#32b67a"/><stop offset="0.889" stop-color="#34b679"/><stop offset="0.944" stop-color="#34b679"/><stop offset="1" stop-color="#2eb37c"/></linearGradient><linearGradient id="g190" x1="0" y1="0" x2="0" y2="1"><stop offset="0" stop-color="#c0df25"/><stop offset="0.0455" stop-color="#c2df23"/><stop offset="0.0909" stop-color="#b0dd2f"/><stop offset="0.136" stop-color="#b2dd2d"/><stop offset="0.182" stop-color="#addc30"/><stop offset="0.227" stop-color="#a0da39"/><stop offset="0.273" stop-color="#98d83e"/><stop offset="0.318" stop-color="#7fd34e"/><stop offset="0.364" stop-color="#65cb5e"/><stop offset="0.409" stop-color="#5ec962"/><stop offset="0.455" stop-color="#5cc863"/><stop offset="0.5" stop-color="#5ac864"/><stop offset="0.545" stop-color="#4ac16d"/><stop offset="0.591" stop-color="#3aba76"/><stop offset="0.636" stop-color="#34b679"/><stop offset="0.682" stop-color="#34b679"/><stop offset="0.727" stop-color="#37b878"/><stop offset="0.773" stop-color="#35b779"/><stop offset="0.818" stop-color="#31b57b"/><stop offset="0.864" stop-color="#26ad81"/><stop offset="0.909" stop-color="#1fa188"/><stop offset="0.955" stop-color="#1f968b"/><stop offset="1" stop-color="#21918c"/></linearGradient><linearGradient id="g191" x1="0" y1="0" x2="0" y2="1"><stop offset="0" stop-color="#bddf26"/><stop offset="0.04" stop-color="#bddf26"/><stop offset="0.08" stop-color="#b0dd2f"/><stop offset="0.12" stop-color="#b2dd2d"/><stop offset="0.16" stop-color="#aadc32"/><stop offset="0.2" stop-color="#a0da39"/><stop offset="0.24" stop-color="#9bd93c"/><stop offset="0.28" stop-color="#7fd34e"/><stop offset="0.32" stop-color="#63cb5f"/><stop offset="0.36" stop-color="#5ec962"/><stop offset="0.4" stop-color="#5cc863"/><stop offset="0.44" stop-color="#58c765"/><stop offset="0.48" stop-color="#48c16e"/><stop offset="0.52" stop-color="#3aba76"/><stop offset="0.56" stop-color="#35b779"/><stop offset="0.6" stop-color="#35b779"/><stop offset="0.64" stop-color="#37b878"/><stop offset="0.68" stop-color="#35b779"/><stop offset="0.72" stop-color="#2fb47c"/><stop offset="0.76" stop-color="#24aa83"/><stop offset="0.8" stop-color="#1f9e89"/><stop offset="0.84" stop-color="#1f948c"/><stop offset="0.88" stop-color="#21918c"/><stop offset="0.92" stop-color="#21908d"/><stop offset="0.96" stop-color="#21908d"/><stop offset="1" stop-color="#218f8d"/></linearGradient><linearGradient id="g192" x1="0" y1="0" x2="0" y2="1"><stop offset="0" stop-color="#addc30"/><stop offset="0.0417" stop-color="#a2da37"/><stop offset="0.0833" stop-color="#a0da39"/><stop offset="0.125" stop-color="#93d741"/><stop offset="0.167" stop-color="#73d056"/><stop offset="0.208" stop-color="#60ca60"/><stop offset="0.25" stop-color="#5ec962"/><stop offset="0.292" stop-color="#5cc863"/><stop offset="0.333" stop-color="#52c569"/><stop offset="0.375" stop-color="#42be71"/><stop offset="0.417" stop-color="#38b977"/><stop offset="0.458" stop-color="#35b779"/><stop offset="0.5" stop-color="#37b878"/><stop offset="0.542" stop-color="#37b878"/><stop offset="0.583" stop-color="#34b679"/><stop offset="0.625" stop-color="#2ab07f"/><stop offset="0.667" stop-color="#20a386"/><stop offset="0.708" stop-color="#1f988b"/><stop offset="0.75" stop-color="#20928c"/><stop offset="0.792" stop-color="#21908d"/><stop offset="0.833" stop-color="#21908d"/><stop offset="0.875" stop-color="#21908d"/><stop offset="0.917" stop-color="#218f8d"/><stop offset="0.958" stop-color="#228b8d"/><stop offset="1" stop-color="#25848e"/></linearGradient><linearGradient id="g193" x1="0" y1="0" x2="0" y2="1"><stop offset="0" stop-color="#5ac864"/><stop offset="0.0588" stop-color="#50c46a"/><stop offset="0.118" stop-color="#3fbc73"/><stop offset="0.176" stop-color="#37b878"/><stop offset="0.235" stop-color="#35b779"/><stop offset="0.294" stop-color="#37b878"/><stop offset="0.353" stop-color="#35b779"/><stop offset="0.412" stop-color="#31b57b"/><stop offset="0.471" stop-color="#25ac82"/><stop offset="0.529" stop-color="#1f9f88"/><stop offset="0.588" stop-color="#1f958b"/><stop offset="0.647" stop-color="#21918c"/><stop offset="0.706" stop-color="#21908d"/><stop offset="0.765" stop-color="#21908d"/><stop offset="0.824" stop-color="#21908d"/><stop offset="0.882" stop-color="#218e8d"/><stop offset="0.941" stop-color="#23888e"/><stop offset="1" stop-color="#26828e"/></linearGradient><linearGradient id="g194" x1="0" y1="0" x2="0" y2="1"><stop offset="0" stop-color="#27ad81"/><stop offset="0.111" stop-color="#1fa188"/><stop offset="0.222" stop-color="#1f958b"/><stop offset="0.333" stop-color="#21918c"/><stop offset="0.444" stop-color="#21908d"/><stop offset="0.556" stop-color="#21908d"/><stop offset="0.667" stop-color="#21908d"/><stop offset="0.778" stop-color="#228d8d"/><stop offset="0.889" stop-color="#24868e"/><stop offset="1" stop-color="#26818e"/></linearGradient><linearGradient id="g195" x1="0" y1="0" x2="0" y2="1"><stop offset="0" stop-color="#21908d"/><stop offset="0.25" stop-color="#21908d"/><stop offset="0.5" stop-color="#228d8d"/><stop offset="0.75" stop-color="#25848e"/><stop offset="1" stop-color="#277f8e"/></linearGradient><linearGradient id="g196" x1="0" y1="0" x2="0" y2="1"><stop offset="0" stop-color="#21908d"/><stop offset="0.2" stop-color="#21908d"/><stop offset="0.4" stop-color="#218e8d"/><stop offset="0.6" stop-color="#24878e"/><stop offset="0.8" stop-color="#27808e"/><stop offset="1" stop-color="#287d8e"/></linearGradient><linearGradient id="g197" x1="0" y1="0" x2="0" y2="1"><stop offset="0" stop-color="#21908d"/><stop offset="0.2" stop-color="#21908d"/><stop offset="0.4" stop-color="#228d8d"/><stop offset="0.6" stop-color="#25838e"/><stop offset="0.8" stop-color="#287d8e"/><stop offset="1" stop-color="#297b8e"/></linearGradient><linearGradient id="g198" x1="0" y1="0" x2="0" y2="1"><stop offset="0" stop-color="#20928c"/><stop offset="0.143" stop-color="#21918c"/><stop offset="0.286" stop-color="#21908d"/><stop offset="0.429" stop-color="#21908d"/><stop offset="0.571" stop-color="#228b8d"/><stop offset="0.714" stop-color="#27808e"/><stop offset="0.857" stop-color="#297a8e"/><stop offset="1" stop-color="#297a8e"/></linearGradient><linearGradient id="g199" x1="0" y1="0" x2="0" y2="1"><stop offset="0" stop-color="#20928c"/><stop offset="0.143" stop-color="#21908d"/><stop offset="0.286" stop-color="#21908d"/><stop offset="0.429" stop-color="#21908d"/><stop offset="0.571" stop-color="#23898e"/><stop offset="0.714" stop-color="#287d8e"/><stop offset="0.857" stop-color="#2a788e"/><stop offset="1" stop-color="#29798e"/></linearGradient><linearGradient id="g200" x1="0" y1="0" x2="0" y2="1"><stop offset="0" stop-color="#20928c"/><stop offset="0.125" stop-color="#21908d"/><stop offset="0.25" stop-color="#21908d"/><stop offset="0.375" stop-color="#21908d"/><stop offset="0.5" stop-color="#228b8d"/><stop offset="0.625" stop-color="#27808e"/><stop offset="0.75" stop-color="#29798e"/><stop offset="0.875" stop-color="#2a788e"/><stop offset="1" stop-color="#29798e"/></linearGradient><linearGradient id="g201" x1="0" y1="0" x2="0" y2="1"><stop offset="0" stop-color="#20928c"/><stop offset="0.125" stop-color="#21908d"/><stop offset="0.25" stop-color="#218f8d"/><stop offset="0.375" stop-color="#218e8d"/><stop offset="0.5" stop-color="#24878e"/><stop offset="0.625" stop-color="#287d8e"/><stop offset="0.75" stop-color="#2a788e"/><stop offset="0.875" stop-color="#2a788e"/><stop offset="1" stop-color="#29798e"/></linearGradient><linearGradient id="g202" x1="0" y1="0" x2="0" y2="1"><stop offset="0" stop-color="#218e8d"/><stop offset="0.2" stop-color="#23898e"/><stop offset="0.4" stop-color="#27808e"/><stop offset="0.6" stop-color="#29798e"/><stop offset="0.8" stop-color="#2a788e"/><stop offset="1" stop-color="#29798e"/></linearGradient><linearGradient id="g203" x1="0" y1="0" x2="0" y2="1"><stop offset="0" stop-color="#228c8d"/><stop offset="0.2" stop-color="#23888e"/><stop offset="0.4" stop-color="#27808e"/><stop offset="0.6" stop-color="#297a8e"/><stop offset="0.8" stop-color="#2a788e"/><stop offset="1" stop-color="#2a788e"/></linearGradient><linearGradient id="g204" x1="0" y1="0" x2="0" y2="1"><stop offset="0" stop-color="#238a8d"/><stop offset="0.2" stop-color="#25858e"/><stop offset="0.4" stop-color="#277e8e"/><stop offset="0.6" stop-color="#29798e"/><stop offset="0.8" stop-color="#2a778e"/><stop offset="1" stop-color="#2a778e"/></linearGradient><linearGradient id="g205" x1="0" y1="0" x2="0" y2="1"><stop offset="0" stop-color="#23888e"/><stop offset="0.167" stop-color="#25838e"/><stop offset="0.333" stop-color="#277e8e"/><stop offset="0.5" stop-color="#2a788e"/><stop offset="0.667" stop-color="#2a768e"/><stop offset="0.833" stop-color="#2b758e"/><stop offset="1" stop-color="#2a768e"/></linearGradient><linearGradient id="g206" x1="0" y1="0" x2="0" y2="1"><stop offset="0" stop-color="#24868e"/><stop offset="0.167" stop-color="#26828e"/><stop offset="0.333" stop-color="#297b8e"/><stop offset="0.5" stop-color="#2a768e"/><stop offset="0.667" stop-color="#2b748e"/><stop offset="0.833" stop-color="#2b748e"/><stop offset="1" stop-color="#2a768e"/></linearGradient><linearGradient id="g207" x1="0" y1="0" x2="0" y2="1"><stop offset="0" stop-color="#287d8e"/><stop offset="0.2" stop-color="#2a778e"/><stop offset="0.4" stop-color="#2b748e"/><stop offset="0.6" stop-color="#2c738e"/><stop offset="0.8" stop-color="#2b748e"/><stop offset="1" stop-color="#2b758e"/></linearGradient><linearGradient id="g208" x1="0" y1="0" x2="0" y2="1"><stop offset="0" stop-color="#2a788e"/><stop offset="0.25" stop-color="#2b748e"/><stop offset="0.5" stop-color="#2c738e"/><stop offset="0.75" stop-color="#2c738e"/><stop offset="1" stop-color="#2b758e"/></linearGradient><linearGradient id="g209" x1="0" y1="0" x2="0" y2="1"><stop offset="0" stop-color="#2a768e"/><stop offset="0.25" stop-color="#2c738e"/><stop offset="0.5" stop-color="#2c738e"/><stop offset="0.75" stop-color="#2c738e"/><stop offset="1" stop-color="#2b758e"/></linearGradient><linearGradient id="g210" x1="0" y1="0" x2="0" y2="1"><stop offset="0" stop-color="#2a768e"/><stop offset="0.333" stop-color="#2c738e"/><stop offset="0.667" stop-color="#2c738e"/><stop offset="1" stop-color="#2b748e"/></linearGradient><linearGradient id="g211" x1="0" y1="0" x2="0" y2="1"><stop offset="0" stop-color="#2b758e"/><stop offset="0.333" stop-color="#2b748e"/><stop offset="0.667" stop-color="#2b748e"/><stop offset="1" stop-color="#2b748e"/></linearGradient><linearGradient id="g212" x1="0" y1="0" x2="0" y2="1"><stop offset="0" stop-color="#2b758e"/><stop offset="0.333" stop-color="#2b748e"/><stop offset="0.667" stop-color="#2b748e"/><stop offset="1" stop-color="#2b748e"/></linearGradient><linearGradient id="g213" x1="0" y1="0" x2="0" y2="1"><stop offset="0" stop-color="#2b758e"/><stop offset="0.333" stop-color="#2c738e"/><stop offset="0.667" stop-color="#2c738e"/><stop offset="1" stop-color="#2c738e"/></linearGradient><linearGradient id="g214" x1="0" y1="0" x2="0" y2="1"><stop offset="0" stop-color="#2b758e"/><stop offset="0.333" stop-color="#2c738e"/><stop offset="0.667" stop-color="#2c738e"/><stop offset="1" stop-color="#2c738e"/></linearGradient><linearGradient id="g215" x1="0" y1="0" x2="0" y2="1"><stop offset="0" stop-color="#2a768e"/><stop offset="0.333" stop-color="#2c738e"/><stop offset="0.667" stop-color="#2c738e"/><stop offset="1" stop-color="#2c728e"/></linearGradient><linearGradient id="g216" x1="0" y1="0" x2="0" y2="1"><stop offset="0" stop-color="#2a768e"/><stop offset="0.333" stop-color="#2c738e"/><stop offset="0.667" stop-color="#2c738e"/><stop offset="1" stop-color="#2c728e"/></linearGradient><linearGradient id="g217" x1="0" y1="0" x2="0" y2="1"><stop offset="0" stop-color="#29798e"/><stop offset="0.25" stop-color="#2b758e"/><stop offset="0.5" stop-color="#2c738e"/><stop offset="0.75" stop-color="#2c738e"/><stop offset="1" stop-color="#2c718e"/></linearGradient><linearGradient id="g218" x1="0" y1="0" x2="0" y2="1"><stop offset="0" stop-color="#287d8e"/><stop offset="0.25" stop-color="#2a768e"/><stop offset="0.5" stop-color="#2c738e"/><stop offset="0.75" stop-color="#2c728e"/><stop offset="1" stop-color="#2d708e"/></linearGradient><linearGradient id="g219" x1="0" y1="0" x2="0" y2="1"><stop offset="0" stop-color="#26818e"/><stop offset="0.2" stop-color="#297a8e"/><stop offset="0.4" stop-color="#2b748e"/><stop offset="0.6" stop-color="#2c738e"/><stop offset="0.8" stop-color="#2c728e"/><stop offset="1" stop-color="#2f6c8e"/></linearGradient><linearGradient id="g220" x1="0" y1="0" x2="0" y2="1"><stop offset="0" stop-color="#25838e"/><stop offset="0.2" stop-color="#287d8e"/><stop offset="0.4" stop-color="#2b748e"/><stop offset="0.6" stop-color="#2c738e"/><stop offset="0.8" stop-color="#2d718e"/><stop offset="1" stop-color="#32658e"/></linearGradient><linearGradient id="g221" x1="0" y1="0" x2="0" y2="1"><stop offset="0" stop-color="#24878e"/><stop offset="0.2" stop-color="#27808e"/><stop offset="0.4" stop-color="#2b748e"/><stop offset="0.6" stop-color="#2c738e"/><stop offset="0.8" stop-color="#2f6b8e"/><stop offset="1" stop-color="#34608d"/></linearGradient><linearGradient id="g222" x1="0" y1="0" x2="0" y2="1"><stop offset="0" stop-color="#23898e"/><stop offset="0.167" stop-color="#25858e"/><stop offset="0.333" stop-color="#2a788e"/><stop offset="0.5" stop-color="#2c738e"/><stop offset="0.667" stop-color="#2d708e"/><stop offset="0.833" stop-color="#33628d"/><stop offset="1" stop-color="#34608d"/></linearGradient><linearGradient id="g223" x1="0" y1="0" x2="0" y2="1"><stop offset="0" stop-color="#228b8d"/><stop offset="0.167" stop-color="#238a8d"/><stop offset="0.333" stop-color="#277e8e"/><stop offset="0.5" stop-color="#2b748e"/><stop offset="0.667" stop-color="#2e6e8e"/><stop offset="0.833" stop-color="#34618d"/><stop offset="1" stop-color="#34608d"/></linearGradient><linearGradient id="g224" x1="0" y1="0" x2="0" y2="1"><stop offset="0" stop-color="#1fa188"/><stop offset="0.111" stop-color="#20928c"/><stop offset="0.222" stop-color="#228b8d"/><stop offset="0.333" stop-color="#228b8d"/><stop offset="0.444" stop-color="#228b8d"/><stop offset="0.556" stop-color="#26828e"/><stop offset="0.667" stop-color="#2a768e"/><stop offset="0.778" stop-color="#2e6f8e"/><stop offset="0.889" stop-color="#33638d"/><stop offset="1" stop-color="#34608d"/></linearGradient><linearGradient id="g225" x1="0" y1="0" x2="0" y2="1"><stop offset="0" stop-color="#24aa83"/><stop offset="0.0714" stop-color="#22a785"/><stop offset="0.143" stop-color="#22a785"/><stop offset="0.214" stop-color="#22a884"/><stop offset="0.286" stop-color="#22a884"/><stop offset="0.357" stop-color="#21a585"/><stop offset="0.429" stop-color="#1f998a"/><stop offset="0.5" stop-color="#218e8d"/><stop offset="0.571" stop-color="#228b8d"/><stop offset="0.643" stop-color="#228b8d"/><stop offset="0.714" stop-color="#23888e"/><stop offset="0.786" stop-color="#287d8e"/><stop offset="0.857" stop-color="#2c728e"/><stop offset="0.929" stop-color="#30698e"/><stop offset="1" stop-color="#33628d"/></linearGradient><linearGradient id="g226" x1="0" y1="0" x2="0" y2="1"><stop offset="0" stop-color="#24aa83"/><stop offset="0.0714" stop-color="#22a785"/><stop offset="0.143" stop-color="#22a785"/><stop offset="0.214" stop-color="#22a884"/><stop offset="0.286" stop-color="#22a884"/><stop offset="0.357" stop-color="#21a685"/><stop offset="0.429" stop-color="#1f9e89"/><stop offset="0.5" stop-color="#21908d"/><stop offset="0.571" stop-color="#228b8d"/><stop offset="0.643" stop-color="#228b8d"/><stop offset="0.714" stop-color="#238a8d"/><stop offset="0.786" stop-color="#26828e"/><stop offset="0.857" stop-color="#2a788e"/><stop offset="0.929" stop-color="#2e6f8e"/><stop offset="1" stop-color="#31668e"/></linearGradient><linearGradient id="g227" x1="0" y1="0" x2="0" y2="1"><stop offset="0" stop-color="#25ab82"/><stop offset="0.0909" stop-color="#22a884"/><stop offset="0.182" stop-color="#22a785"/><stop offset="0.273" stop-color="#22a884"/><stop offset="0.364" stop-color="#22a884"/><stop offset="0.455" stop-color="#21a585"/><stop offset="0.545" stop-color="#1e9b8a"/><stop offset="0.636" stop-color="#218f8d"/><stop offset="0.727" stop-color="#228b8d"/><stop offset="0.818" stop-color="#238a8d"/><stop offset="0.909" stop-color="#24878e"/><stop offset="1" stop-color="#277f8e"/></linearGradient><linearGradient id="g228" x1="0" y1="0" x2="0" y2="1"><stop offset="0" stop-color="#25ab82"/><stop offset="0.167" stop-color="#22a884"/><stop offset="0.333" stop-color="#22a785"/><stop offset="0.5" stop-color="#22a884"/><stop offset="0.667" stop-color="#22a785"/><stop offset="0.833" stop-color="#1fa187"/><stop offset="1" stop-color="#20938c"/></linearGradient><linearGradient id="g229" x1="0" y1="0" x2="0" y2="1"><stop offset="0" stop-color="#25ac82"/><stop offset="0.2" stop-color="#22a884"/><stop offset="0.4" stop-color="#22a785"/><stop offset="0.6" stop-color="#22a785"/><stop offset="0.8" stop-color="#21a685"/><stop offset="1" stop-color="#1fa188"/></linearGradient><linearGradient id="g230" x1="0" y1="0" x2="0" y2="1"><stop offset="0" stop-color="#50c46a"/><stop offset="0.125" stop-color="#3fbc73"/><stop offset="0.25" stop-color="#2eb37c"/><stop offset="0.375" stop-color="#25ac82"/><stop offset="0.5" stop-color="#22a884"/><stop offset="0.625" stop-color="#22a785"/><stop offset="0.75" stop-color="#22a785"/><stop offset="0.875" stop-color="#21a585"/><stop offset="1" stop-color="#1fa088"/></linearGradient><linearGradient id="g231" x1="0" y1="0" x2="0" y2="1"><stop offset="0" stop-color="#5ec962"/><stop offset="0.0833" stop-color="#5cc863"/><stop offset="0.167" stop-color="#5cc863"/><stop offset="0.25" stop-color="#5ac864"/><stop offset="0.333" stop-color="#50c46a"/><stop offset="0.417" stop-color="#3fbc73"/><stop offset="0.5" stop-color="#2eb37c"/><stop offset="0.583" stop-color="#25ac82"/><stop offset="0.667" stop-color="#22a884"/><stop offset="0.75" stop-color="#21a685"/><stop offset="0.833" stop-color="#21a685"/><stop offset="0.917" stop-color="#20a486"/><stop offset="1" stop-color="#1f9f88"/></linearGradient><linearGradient id="g232" x1="0" y1="0" x2="0" y2="1"><stop offset="0" stop-color="#81d34d"/><stop offset="0.0667" stop-color="#70cf57"/><stop offset="0.133" stop-color="#63cb5f"/><stop offset="0.2" stop-color="#5ec962"/><stop offset="0.267" stop-color="#5ec962"/><stop offset="0.333" stop-color="#5cc863"/><stop offset="0.4" stop-color="#5cc863"/><stop offset="0.467" stop-color="#56c667"/><stop offset="0.533" stop-color="#48c16e"/><stop offset="0.6" stop-color="#37b878"/><stop offset="0.667" stop-color="#2ab07f"/><stop offset="0.733" stop-color="#24aa83"/><stop offset="0.8" stop-color="#22a785"/><stop offset="0.867" stop-color="#21a685"/><stop offset="0.933" stop-color="#20a486"/><stop offset="1" stop-color="#1fa187"/></linearGradient><linearGradient id="g233" x1="0" y1="0" x2="0" y2="1"><stop offset="0" stop-color="#89d548"/><stop offset="0.0625" stop-color="#89d548"/><stop offset="0.125" stop-color="#8bd646"/><stop offset="0.187" stop-color="#86d549"/><stop offset="0.25" stop-color="#75d054"/><stop offset="0.312" stop-color="#65cb5e"/><stop offset="0.375" stop-color="#5ec962"/><stop offset="0.438" stop-color="#5ec962"/><stop offset="0.5" stop-color="#5cc863"/><stop offset="0.562" stop-color="#5cc863"/><stop offset="0.625" stop-color="#56c667"/><stop offset="0.688" stop-color="#4cc26c"/><stop offset="0.75" stop-color="#3bbb75"/><stop offset="0.813" stop-color="#2db27d"/><stop offset="0.875" stop-color="#25ac82"/><stop offset="0.937" stop-color="#22a884"/><stop offset="1" stop-color="#21a585"/></linearGradient><linearGradient id="g234" x1="0" y1="0" x2="0" y2="1"><stop offset="0" stop-color="#a2da37"/><stop offset="0.0588" stop-color="#a2da37"/><stop offset="0.118" stop-color="#9dd93b"/><stop offset="0.176" stop-color="#8bd646"/><stop offset="0.235" stop-color="#89d548"/><stop offset="0.294" stop-color="#8bd646"/><stop offset="0.353" stop-color="#8bd646"/><stop offset="0.412" stop-color="#7fd34e"/><stop offset="0.471" stop-color="#6ccd5a"/><stop offset="0.529" stop-color="#60ca60"/><stop offset="0.588" stop-color="#5ec962"/><stop offset="0.647" stop-color="#5ec962"/><stop offset="0.706" stop-color="#5cc863"/><stop offset="0.765" stop-color="#5ac864"/><stop offset="0.824" stop-color="#52c569"/><stop offset="0.882" stop-color="#46c06f"/><stop offset="0.941" stop-color="#35b779"/><stop offset="1" stop-color="#2ab07f"/></linearGradient><linearGradient id="g235" x1="0" y1="0" x2="0" y2="1"><stop offset="0" stop-color="#a2da37"/><stop offset="0.0667" stop-color="#a2da37"/><stop offset="0.133" stop-color="#a0da39"/><stop offset="0.2" stop-color="#8bd646"/><stop offset="0.267" stop-color="#89d548"/><stop offset="0.333" stop-color="#8bd646"/><stop offset="0.4" stop-color="#8bd646"/><stop offset="0.467" stop-color="#7fd34e"/><stop offset="0.533" stop-color="#6ccd5a"/><stop offset="0.6" stop-color="#60ca60"/><stop offset="0.667" stop-color="#5ec962"/><stop offset="0.733" stop-color="#5cc863"/><stop offset="0.8" stop-color="#5cc863"/><stop offset="0.867" stop-color="#58c765"/><stop offset="0.933" stop-color="#4ec36b"/><stop offset="1" stop-color="#40bd72"/></linearGradient><linearGradient id="g236" x1="0" y1="0" x2="0" y2="1"><stop offset="0" stop-color="#a2da37"/><stop offset="0.0909" stop-color="#a2da37"/><stop offset="0.182" stop-color="#a8db34"/><stop offset="0.273" stop-color="#93d741"/><stop offset="0.364" stop-color="#8bd646"/><stop offset="0.455" stop-color="#8ed645"/><stop offset="0.545" stop-color="#8bd646"/><stop offset="0.636" stop-color="#7fd34e"/><stop offset="0.727" stop-color="#6ccd5a"/><stop offset="0.818" stop-color="#60ca60"/><stop offset="0.909" stop-color="#5ec962"/><stop offset="1" stop-color="#5cc863"/></linearGradient><linearGradient id="g237" x1="0" y1="0" x2="0" y2="1"><stop offset="0" stop-color="#a2da37"/><stop offset="0.111" stop-color="#a5db36"/><stop offset="0.222" stop-color="#b8de29"/><stop offset="0.333" stop-color="#a5db36"/><stop offset="0.444" stop-color="#93d741"/><stop offset="0.556" stop-color="#93d741"/><stop offset="0.667" stop-color="#8ed645"/><stop offset="0.778" stop-color="#81d34d"/><stop offset="0.889" stop-color="#6ece58"/><stop offset="1" stop-color="#63cb5f"/></linearGradient><linearGradient id="g238" x1="0" y1="0" x2="0" y2="1"><stop offset="0" stop-color="#a5db36"/><stop offset="0.111" stop-color="#addc30"/><stop offset="0.222" stop-color="#c8e020"/><stop offset="0.333" stop-color="#c0df25"/><stop offset="0.444" stop-color="#a2da37"/><stop offset="0.556" stop-color="#98d83e"/><stop offset="0.667" stop-color="#93d741"/><stop offset="0.778" stop-color="#84d44b"/><stop offset="0.889" stop-color="#73d056"/><stop offset="1" stop-color="#65cb5e"/></linearGradient><linearGradient id="g239" x1="0" y1="0" x2="0" y2="1"><stop offset="0" stop-color="#addc30"/><stop offset="0.143" stop-color="#c5e021"/><stop offset="0.286" stop-color="#d0e11c"/><stop offset="0.429" stop-color="#bddf26"/><stop offset="0.571" stop-color="#a5db36"/><stop offset="0.714" stop-color="#9bd93c"/><stop offset="0.857" stop-color="#8bd646"/><stop offset="1" stop-color="#7ad151"/></linearGradient><linearGradient id="g240" x1="0" y1="0" x2="0" y2="1"><stop offset="0" stop-color="#c2df23"/><stop offset="0.167" stop-color="#d0e11c"/><stop offset="0.333" stop-color="#cde11d"/><stop offset="0.5" stop-color="#bade28"/><stop offset="0.667" stop-color="#a8db34"/><stop offset="0.833" stop-color="#9bd93c"/><stop offset="1" stop-color="#8ed645"/></linearGradient><linearGradient id="g241" x1="0" y1="0" x2="0" y2="1"><stop offset="0" stop-color="#c5e021"/><stop offset="0.167" stop-color="#d0e11c"/><stop offset="0.333" stop-color="#cde11d"/><stop offset="0.5" stop-color="#bddf26"/><stop offset="0.667" stop-color="#addc30"/><stop offset="0.833" stop-color="#9dd93b"/><stop offset="1" stop-color="#8ed645"/></linearGradient><linearGradient id="g242" x1="0" y1="0" x2="0" y2="1"><stop offset="0" stop-color="#95d840"/><stop offset="1" stop-color="#90d743"/></linearGradient></defs><g clip-path="url(#bandclip)"><rect x="78.0" y="260.0" width="2.3" height="17.1" fill="url(#g0)"/><rect x="80.0" y="250.2" width="2.3" height="32.3" fill="url(#g1)"/><rect x="82.0" y="236.9" width="2.3" height="46.1" fill="url(#g2)"/><rect x="84.0" y="228.4" width="2.3" height="54.6" fill="url(#g3)"/><rect x="86.0" y="227.1" width="2.3" height="54.9" fill="url(#g4)"/><rect x="88.0" y="227.0" width="2.3" height="35.0" fill="url(#g5)"/><rect x="90.0" y="227.1" width="2.3" height="46.9" fill="url(#g6)"/><rect x="92.0" y="227.2" width="2.3" height="59.8" fill="url(#g7)"/><rect x="94.0" y="234.9" width="2.3" height="55.7" fill="url(#g8)"/><rect x="96.0" y="252.2" width="2.3" height="39.4" fill="url(#g9)"/><rect x="98.0" y="263.3" width="2.3" height="28.5" fill="url(#g10)"/><rect x="100.0" y="263.0" width="2.3" height="29.0" fill="url(#g11)"/><rect x="102.0" y="262.6" width="2.3" height="31.4" fill="url(#g12)"/><rect x="104.0" y="262.6" width="2.3" height="32.3" fill="url(#g13)"/><rect x="106.0" y="262.8" width="2.3" height="33.5" fill="url(#g14)"/><rect x="108.0" y="263.5" width="2.3" height="41.7" fill="url(#g15)"/><rect x="110.0" y="252.9" width="2.3" height="52.3" fill="url(#g16)"/><rect x="112.0" y="252.6" width="2.3" height="52.6" fill="url(#g17)"/><rect x="114.0" y="239.3" width="2.3" height="64.3" fill="url(#g18)"/><rect x="116.0" y="238.8" width="2.3" height="50.4" fill="url(#g19)"/><rect x="118.0" y="238.9" width="2.3" height="41.8" fill="url(#g20)"/><rect x="120.0" y="239.0" width="2.3" height="39.0" fill="url(#g21)"/><rect x="122.0" y="238.3" width="2.3" height="49.4" fill="url(#g22)"/><rect x="124.0" y="238.3" width="2.3" height="51.4" fill="url(#g23)"/><rect x="126.0" y="239.9" width="2.3" height="50.8" fill="url(#g24)"/><rect x="128.0" y="251.0" width="2.3" height="41.0" fill="url(#g25)"/><rect x="130.0" y="264.6" width="2.3" height="28.7" fill="url(#g26)"/><rect x="132.0" y="264.6" width="2.3" height="29.3" fill="url(#g27)"/><rect x="134.0" y="235.7" width="2.3" height="57.8" fill="url(#g28)"/><rect x="136.0" y="202.1" width="2.3" height="90.7" fill="url(#g29)"/><rect x="138.0" y="187.3" width="2.3" height="103.7" fill="url(#g30)"/><rect x="140.0" y="187.3" width="2.3" height="84.7" fill="url(#g31)"/><rect x="142.0" y="187.3" width="2.3" height="52.5" fill="url(#g32)"/><rect x="144.0" y="171.7" width="2.3" height="60.2" fill="url(#g33)"/><rect x="146.0" y="130.4" width="2.3" height="101.4" fill="url(#g34)"/><rect x="148.0" y="94.0" width="2.3" height="137.6" fill="url(#g35)"/><rect x="150.0" y="77.3" width="2.3" height="126.4" fill="url(#g36)"/><rect x="152.0" y="56.0" width="2.3" height="126.5" fill="url(#g37)"/><rect x="154.0" y="41.7" width="2.3" height="109.3" fill="url(#g38)"/><rect x="156.0" y="38.5" width="2.3" height="70.9" fill="url(#g39)"/><rect x="158.0" y="38.2" width="2.3" height="60.8" fill="url(#g40)"/><rect x="160.0" y="38.2" width="2.3" height="60.8" fill="url(#g41)"/><rect x="162.0" y="38.3" width="2.3" height="102.7" fill="url(#g42)"/><rect x="164.0" y="38.5" width="2.3" height="141.4" fill="url(#g43)"/><rect x="166.0" y="38.6" width="2.3" height="169.4" fill="url(#g44)"/><rect x="168.0" y="54.5" width="2.3" height="162.2" fill="url(#g45)"/><rect x="170.0" y="113.7" width="2.3" height="103.0" fill="url(#g46)"/><rect x="172.0" y="161.0" width="2.3" height="55.7" fill="url(#g47)"/><rect x="174.0" y="173.4" width="2.3" height="43.3" fill="url(#g48)"/><rect x="176.0" y="173.2" width="2.3" height="40.4" fill="url(#g49)"/><rect x="178.0" y="172.9" width="2.3" height="44.4" fill="url(#g50)"/><rect x="180.0" y="172.9" width="2.3" height="70.0" fill="url(#g51)"/><rect x="182.0" y="176.5" width="2.3" height="78.9" fill="url(#g52)"/><rect x="184.0" y="189.5" width="2.3" height="71.6" fill="url(#g53)"/><rect x="186.0" y="209.7" width="2.3" height="56.1" fill="url(#g54)"/><rect x="188.0" y="223.0" width="2.3" height="48.1" fill="url(#g55)"/><rect x="190.0" y="228.2" width="2.3" height="50.6" fill="url(#g56)"/><rect x="192.0" y="245.0" width="2.3" height="33.8" fill="url(#g57)"/><rect x="194.0" y="242.0" width="2.3" height="36.8" fill="url(#g58)"/><rect x="196.0" y="238.6" width="2.3" height="40.2" fill="url(#g59)"/><rect x="198.0" y="238.4" width="2.3" height="40.4" fill="url(#g60)"/><rect x="200.0" y="239.4" width="2.3" height="30.9" fill="url(#g61)"/><rect x="202.0" y="240.5" width="2.3" height="33.3" fill="url(#g62)"/><rect x="204.0" y="241.2" width="2.3" height="38.6" fill="url(#g63)"/><rect x="206.0" y="238.9" width="2.3" height="40.9" fill="url(#g64)"/><rect x="208.0" y="234.1" width="2.3" height="45.7" fill="url(#g65)"/><rect x="210.0" y="228.8" width="2.3" height="51.0" fill="url(#g66)"/><rect x="212.0" y="222.6" width="2.3" height="55.1" fill="url(#g67)"/><rect x="214.0" y="222.6" width="2.3" height="39.4" fill="url(#g68)"/><rect x="216.0" y="222.6" width="2.3" height="29.1" fill="url(#g69)"/><rect x="218.0" y="212.0" width="2.3" height="39.1" fill="url(#g70)"/><rect x="220.0" y="208.2" width="2.3" height="42.8" fill="url(#g71)"/><rect x="222.0" y="208.2" width="2.3" height="38.8" fill="url(#g72)"/><rect x="224.0" y="208.2" width="2.3" height="40.1" fill="url(#g73)"/><rect x="226.0" y="208.2" width="2.3" height="44.1" fill="url(#g74)"/><rect x="228.0" y="217.3" width="2.3" height="43.4" fill="url(#g75)"/><rect x="230.0" y="226.6" width="2.3" height="46.6" fill="url(#g76)"/><rect x="232.0" y="230.7" width="2.3" height="48.3" fill="url(#g77)"/><rect x="234.0" y="235.0" width="2.3" height="44.0" fill="url(#g78)"/><rect x="236.0" y="230.2" width="2.3" height="48.8" fill="url(#g79)"/><rect x="238.0" y="220.3" width="2.3" height="58.7" fill="url(#g80)"/><rect x="240.0" y="215.4" width="2.3" height="63.6" fill="url(#g81)"/><rect x="242.0" y="215.2" width="2.3" height="47.8" fill="url(#g82)"/><rect x="244.0" y="215.1" width="2.3" height="63.2" fill="url(#g83)"/><rect x="246.0" y="162.3" width="2.3" height="119.3" fill="url(#g84)"/><rect x="248.0" y="121.5" width="2.3" height="160.1" fill="url(#g85)"/><rect x="250.0" y="89.3" width="2.3" height="192.3" fill="url(#g86)"/><rect x="252.0" y="53.8" width="2.3" height="223.7" fill="url(#g87)"/><rect x="254.0" y="49.4" width="2.3" height="164.1" fill="url(#g88)"/><rect x="256.0" y="49.0" width="2.3" height="95.4" fill="url(#g89)"/><rect x="258.0" y="41.4" width="2.3" height="69.1" fill="url(#g90)"/><rect x="260.0" y="41.4" width="2.3" height="112.1" fill="url(#g91)"/><rect x="262.0" y="41.4" width="2.3" height="131.8" fill="url(#g92)"/><rect x="264.0" y="41.4" width="2.3" height="150.1" fill="url(#g93)"/><rect x="266.0" y="63.1" width="2.3" height="142.9" fill="url(#g94)"/><rect x="268.0" y="136.6" width="2.3" height="75.4" fill="url(#g95)"/><rect x="270.0" y="151.6" width="2.3" height="67.3" fill="url(#g96)"/><rect x="272.0" y="177.0" width="2.3" height="47.8" fill="url(#g97)"/><rect x="274.0" y="189.0" width="2.3" height="40.4" fill="url(#g98)"/><rect x="276.0" y="195.0" width="2.3" height="39.0" fill="url(#g99)"/><rect x="278.0" y="199.3" width="2.3" height="36.2" fill="url(#g100)"/><rect x="280.0" y="197.8" width="2.3" height="38.5" fill="url(#g101)"/><rect x="282.0" y="197.0" width="2.3" height="38.5" fill="url(#g102)"/><rect x="284.0" y="197.0" width="2.3" height="43.1" fill="url(#g103)"/><rect x="286.0" y="197.0" width="2.3" height="45.0" fill="url(#g104)"/><rect x="288.0" y="197.0" width="2.3" height="46.1" fill="url(#g105)"/><rect x="290.0" y="204.5" width="2.3" height="38.4" fill="url(#g106)"/><rect x="292.0" y="191.2" width="2.3" height="50.8" fill="url(#g107)"/><rect x="294.0" y="191.2" width="2.3" height="50.0" fill="url(#g108)"/><rect x="296.0" y="191.2" width="2.3" height="43.9" fill="url(#g109)"/><rect x="298.0" y="178.0" width="2.3" height="44.6" fill="url(#g110)"/><rect x="300.0" y="178.0" width="2.3" height="44.3" fill="url(#g111)"/><rect x="302.0" y="178.0" width="2.3" height="63.0" fill="url(#g112)"/><rect x="304.0" y="178.0" width="2.3" height="92.5" fill="url(#g113)"/><rect x="306.0" y="178.0" width="2.3" height="97.2" fill="url(#g114)"/><rect x="308.0" y="216.7" width="2.3" height="59.2" fill="url(#g115)"/><rect x="310.0" y="228.5" width="2.3" height="47.6" fill="url(#g116)"/><rect x="312.0" y="233.7" width="2.3" height="42.4" fill="url(#g117)"/><rect x="314.0" y="229.9" width="2.3" height="46.0" fill="url(#g118)"/><rect x="316.0" y="229.8" width="2.3" height="45.9" fill="url(#g119)"/><rect x="318.0" y="229.8" width="2.3" height="45.9" fill="url(#g120)"/><rect x="320.0" y="227.8" width="2.3" height="40.5" fill="url(#g121)"/><rect x="322.0" y="225.0" width="2.3" height="37.8" fill="url(#g122)"/><rect x="324.0" y="224.9" width="2.3" height="35.9" fill="url(#g123)"/><rect x="326.0" y="224.8" width="2.3" height="33.9" fill="url(#g124)"/><rect x="328.0" y="219.9" width="2.3" height="39.6" fill="url(#g125)"/><rect x="330.0" y="192.5" width="2.3" height="67.0" fill="url(#g126)"/><rect x="332.0" y="132.0" width="2.3" height="125.8" fill="url(#g127)"/><rect x="334.0" y="130.5" width="2.3" height="125.6" fill="url(#g128)"/><rect x="336.0" y="130.5" width="2.3" height="102.5" fill="url(#g129)"/><rect x="338.0" y="130.5" width="2.3" height="89.5" fill="url(#g130)"/><rect x="340.0" y="124.0" width="2.3" height="95.9" fill="url(#g131)"/><rect x="342.0" y="101.3" width="2.3" height="118.6" fill="url(#g132)"/><rect x="344.0" y="67.7" width="2.3" height="152.1" fill="url(#g133)"/><rect x="346.0" y="49.8" width="2.3" height="169.9" fill="url(#g134)"/><rect x="348.0" y="30.1" width="2.3" height="178.6" fill="url(#g135)"/><rect x="350.0" y="12.1" width="2.3" height="126.6" fill="url(#g136)"/><rect x="352.0" y="9.9" width="2.3" height="75.1" fill="url(#g137)"/><rect x="354.0" y="9.8" width="2.3" height="67.2" fill="url(#g138)"/><rect x="356.0" y="9.7" width="2.3" height="72.5" fill="url(#g139)"/><rect x="358.0" y="9.7" width="2.3" height="96.8" fill="url(#g140)"/><rect x="360.0" y="35.5" width="2.3" height="126.2" fill="url(#g141)"/><rect x="362.0" y="35.9" width="2.3" height="184.6" fill="url(#g142)"/><rect x="364.0" y="38.2" width="2.3" height="190.0" fill="url(#g143)"/><rect x="366.0" y="80.4" width="2.3" height="153.7" fill="url(#g144)"/><rect x="368.0" y="126.5" width="2.3" height="109.6" fill="url(#g145)"/><rect x="370.0" y="206.1" width="2.3" height="32.0" fill="url(#g146)"/><rect x="372.0" y="210.5" width="2.3" height="29.9" fill="url(#g147)"/><rect x="374.0" y="212.0" width="2.3" height="34.0" fill="url(#g148)"/><rect x="376.0" y="212.0" width="2.3" height="48.4" fill="url(#g149)"/><rect x="378.0" y="212.0" width="2.3" height="56.6" fill="url(#g150)"/><rect x="380.0" y="223.9" width="2.3" height="48.0" fill="url(#g151)"/><rect x="382.0" y="238.7" width="2.3" height="33.7" fill="url(#g152)"/><rect x="384.0" y="241.4" width="2.3" height="31.0" fill="url(#g153)"/><rect x="386.0" y="235.4" width="2.3" height="32.8" fill="url(#g154)"/><rect x="388.0" y="232.0" width="2.3" height="34.7" fill="url(#g155)"/><rect x="390.0" y="230.8" width="2.3" height="37.2" fill="url(#g156)"/><rect x="392.0" y="230.8" width="2.3" height="40.2" fill="url(#g157)"/><rect x="394.0" y="230.8" width="2.3" height="43.3" fill="url(#g158)"/><rect x="396.0" y="235.0" width="2.3" height="38.9" fill="url(#g159)"/><rect x="398.0" y="235.6" width="2.3" height="37.2" fill="url(#g160)"/><rect x="400.0" y="235.6" width="2.3" height="35.2" fill="url(#g161)"/><rect x="402.0" y="235.6" width="2.3" height="37.6" fill="url(#g162)"/><rect x="404.0" y="235.6" width="2.3" height="42.0" fill="url(#g163)"/><rect x="406.0" y="235.6" width="2.3" height="46.7" fill="url(#g164)"/><rect x="408.0" y="246.0" width="2.3" height="36.8" fill="url(#g165)"/><rect x="410.0" y="252.0" width="2.3" height="31.1" fill="url(#g166)"/><rect x="412.0" y="250.0" width="2.3" height="32.5" fill="url(#g167)"/><rect x="414.0" y="250.0" width="2.3" height="31.4" fill="url(#g168)"/><rect x="416.0" y="250.0" width="2.3" height="32.5" fill="url(#g169)"/><rect x="418.0" y="250.0" width="2.3" height="35.5" fill="url(#g170)"/><rect x="420.0" y="251.6" width="2.3" height="35.9" fill="url(#g171)"/><rect x="422.0" y="245.8" width="2.3" height="42.2" fill="url(#g172)"/><rect x="424.0" y="240.6" width="2.3" height="47.5" fill="url(#g173)"/><rect x="426.0" y="237.0" width="2.3" height="49.2" fill="url(#g174)"/><rect x="428.0" y="237.0" width="2.3" height="46.6" fill="url(#g175)"/><rect x="430.0" y="237.0" width="2.3" height="43.2" fill="url(#g176)"/><rect x="432.0" y="237.0" width="2.3" height="43.6" fill="url(#g177)"/><rect x="434.0" y="242.9" width="2.3" height="37.4" fill="url(#g178)"/><rect x="436.0" y="250.5" width="2.3" height="30.0" fill="url(#g179)"/><rect x="438.0" y="254.1" width="2.3" height="43.7" fill="url(#g180)"/><rect x="440.0" y="255.0" width="2.3" height="54.5" fill="url(#g181)"/><rect x="442.0" y="231.3" width="2.3" height="78.2" fill="url(#g182)"/><rect x="444.0" y="179.0" width="2.3" height="130.5" fill="url(#g183)"/><rect x="446.0" y="136.3" width="2.3" height="173.2" fill="url(#g184)"/><rect x="448.0" y="105.6" width="2.3" height="193.9" fill="url(#g185)"/><rect x="450.0" y="102.0" width="2.3" height="142.8" fill="url(#g186)"/><rect x="452.0" y="85.0" width="2.3" height="134.8" fill="url(#g187)"/><rect x="454.0" y="84.9" width="2.3" height="76.1" fill="url(#g188)"/><rect x="456.0" y="84.8" width="2.3" height="127.3" fill="url(#g189)"/><rect x="458.0" y="84.7" width="2.3" height="154.8" fill="url(#g190)"/><rect x="460.0" y="84.7" width="2.3" height="178.4" fill="url(#g191)"/><rect x="462.0" y="108.9" width="2.3" height="172.1" fill="url(#g192)"/><rect x="464.0" y="160.4" width="2.3" height="123.9" fill="url(#g193)"/><rect x="466.0" y="216.5" width="2.3" height="69.5" fill="url(#g194)"/><rect x="468.0" y="253.3" width="2.3" height="32.7" fill="url(#g195)"/><rect x="470.0" y="251.3" width="2.3" height="35.0" fill="url(#g196)"/><rect x="472.0" y="248.9" width="2.3" height="37.8" fill="url(#g197)"/><rect x="474.0" y="232.0" width="2.3" height="54.7" fill="url(#g198)"/><rect x="476.0" y="232.0" width="2.3" height="54.7" fill="url(#g199)"/><rect x="478.0" y="232.0" width="2.3" height="56.6" fill="url(#g200)"/><rect x="480.0" y="232.0" width="2.3" height="58.6" fill="url(#g201)"/><rect x="482.0" y="249.0" width="2.3" height="41.6" fill="url(#g202)"/><rect x="484.0" y="248.0" width="2.3" height="40.6" fill="url(#g203)"/><rect x="486.0" y="248.0" width="2.3" height="40.7" fill="url(#g204)"/><rect x="488.0" y="248.0" width="2.3" height="42.7" fill="url(#g205)"/><rect x="490.0" y="248.0" width="2.3" height="45.4" fill="url(#g206)"/><rect x="492.0" y="258.4" width="2.3" height="37.3" fill="url(#g207)"/><rect x="494.0" y="263.9" width="2.3" height="31.8" fill="url(#g208)"/><rect x="496.0" y="266.0" width="2.3" height="29.3" fill="url(#g209)"/><rect x="498.0" y="267.2" width="2.3" height="27.6" fill="url(#g210)"/><rect x="500.0" y="268.2" width="2.3" height="26.1" fill="url(#g211)"/><rect x="502.0" y="268.4" width="2.3" height="25.4" fill="url(#g212)"/><rect x="504.0" y="267.9" width="2.3" height="25.4" fill="url(#g213)"/><rect x="506.0" y="267.1" width="2.3" height="25.6" fill="url(#g214)"/><rect x="508.0" y="266.1" width="2.3" height="26.2" fill="url(#g215)"/><rect x="510.0" y="265.1" width="2.3" height="26.8" fill="url(#g216)"/><rect x="512.0" y="262.3" width="2.3" height="29.6" fill="url(#g217)"/><rect x="514.0" y="259.6" width="2.3" height="33.2" fill="url(#g218)"/><rect x="516.0" y="257.3" width="2.3" height="36.7" fill="url(#g219)"/><rect x="518.0" y="257.3" width="2.3" height="39.0" fill="url(#g220)"/><rect x="520.0" y="257.3" width="2.3" height="41.7" fill="url(#g221)"/><rect x="522.0" y="257.3" width="2.3" height="44.6" fill="url(#g222)"/><rect x="524.0" y="255.5" width="2.3" height="47.2" fill="url(#g223)"/><rect x="526.0" y="233.6" width="2.3" height="67.3" fill="url(#g224)"/><rect x="528.0" y="193.6" width="2.3" height="104.1" fill="url(#g225)"/><rect x="530.0" y="193.6" width="2.3" height="100.6" fill="url(#g226)"/><rect x="532.0" y="193.6" width="2.3" height="82.4" fill="url(#g227)"/><rect x="534.0" y="193.6" width="2.3" height="48.9" fill="url(#g228)"/><rect x="536.0" y="193.6" width="2.3" height="40.4" fill="url(#g229)"/><rect x="538.0" y="172.2" width="2.3" height="61.5" fill="url(#g230)"/><rect x="540.0" y="143.3" width="2.3" height="90.0" fill="url(#g231)"/><rect x="542.0" y="119.8" width="2.3" height="108.5" fill="url(#g232)"/><rect x="544.0" y="97.6" width="2.3" height="114.8" fill="url(#g233)"/><rect x="546.0" y="73.5" width="2.3" height="120.2" fill="url(#g234)"/><rect x="548.0" y="73.5" width="2.3" height="108.6" fill="url(#g235)"/><rect x="550.0" y="73.5" width="2.3" height="81.8" fill="url(#g236)"/><rect x="552.0" y="73.5" width="2.3" height="67.0" fill="url(#g237)"/><rect x="554.0" y="73.5" width="2.3" height="67.0" fill="url(#g238)"/><rect x="556.0" y="75.6" width="2.3" height="55.4" fill="url(#g239)"/><rect x="558.0" y="81.2" width="2.3" height="42.5" fill="url(#g240)"/><rect x="560.0" y="81.2" width="2.3" height="42.5" fill="url(#g241)"/><rect x="562.0" y="121.7" width="2.3" height="2.0" fill="url(#g242)"/></g><g fill="none" stroke-width="5.4" stroke-linecap="round" stroke-opacity="0.5"><path d="M110.9 299.6h0M110.9 299.0h0M112.0 298.2h0M112.2 298.6h0M112.6 296.8h0" stroke="#481d6f"/><path d="M103.3 287.4h0M104.3 287.9h0M104.8 286.5h0M105.2 290.4h0M105.8 290.4h0M106.2 288.7h0M106.7 289.6h0M106.7 286.5h0M107.2 291.4h0M107.2 289.2h0M107.2 291.8h0M108.0 288.0h0M108.7 290.2h0M108.7 290.4h0M108.7 292.4h0M110.2 292.7h0M111.1 291.8h0M112.2 295.5h0" stroke="#482475"/><path d="M82.8 276.1h0M83.4 276.4h0M83.4 277.9h0M102.1 286.2h0M103.3 287.0h0M103.3 286.2h0M104.3 283.1h0M104.8 284.1h0M104.8 284.4h0M104.8 285.3h0M105.8 283.3h0M105.8 282.7h0M106.7 283.3h0M108.0 283.5h0M108.0 286.6h0M108.3 287.6h0M108.3 283.7h0M109.8 286.7h0M111.1 289.0h0M112.0 290.8h0M112.0 290.5h0M112.6 289.9h0" stroke="#472a7a"/><path d="M81.8 274.2h0M101.5 282.2h0M101.5 284.9h0M101.5 268.1h0M101.9 283.3h0M101.9 282.5h0M102.1 284.8h0M102.1 285.0h0M102.6 270.7h0M102.6 283.2h0M102.6 269.1h0M103.3 280.1h0M103.8 281.6h0M103.8 272.6h0M103.8 267.9h0M103.8 271.8h0M104.3 280.6h0M105.2 270.3h0M105.2 265.9h0M105.2 269.7h0M105.8 279.5h0M107.2 282.2h0M109.3 281.7h0M109.3 283.8h0M109.8 284.4h0M109.8 285.4h0M109.8 282.7h0M112.0 287.3h0" stroke="#46307e"/><path d="M83.8 273.9h0M83.8 274.0h0M95.5 281.3h0M95.5 280.1h0M96.3 280.5h0M96.3 285.0h0M97.0 283.0h0M97.0 280.1h0M97.4 283.5h0M97.4 285.0h0M97.7 284.3h0M97.7 279.3h0M98.1 281.7h0M99.0 283.9h0M99.0 278.7h0M99.0 286.3h0M99.2 285.2h0M99.2 281.3h0M99.2 282.1h0M99.6 282.2h0M100.3 277.5h0M100.3 284.0h0M100.3 276.3h0M100.3 283.2h0M100.6 268.8h0M100.6 272.2h0M100.6 276.9h0M100.6 280.0h0M101.5 280.2h0M101.9 272.1h0M101.9 274.2h0M102.1 272.3h0M102.6 274.5h0M104.3 275.2h0M104.8 276.5h0M105.2 276.4h0M105.8 270.2h0M106.2 271.7h0M106.2 266.9h0M106.2 270.6h0M106.2 275.8h0M106.7 272.9h0M106.7 278.0h0M107.2 279.2h0M108.0 278.2h0M109.3 279.8h0M110.2 281.7h0M110.2 280.5h0M110.9 281.3h0M112.6 285.4h0M113.5 287.5h0M113.5 286.1h0M113.7 286.6h0" stroke="#453781"/><path d="M82.8 273.2h0M94.7 278.6h0M95.5 277.8h0M96.0 279.2h0M97.4 278.8h0M97.7 277.0h0M98.1 277.4h0M99.0 274.4h0M99.2 274.8h0M99.6 272.6h0M99.6 270.8h0M99.6 270.3h0M108.3 271.7h0M108.3 275.6h0M108.7 271.5h0M109.3 274.5h0M109.3 278.1h0M110.2 279.5h0M111.1 279.2h0M112.2 282.3h0M113.7 284.3h0" stroke="#433e85"/><path d="M81.8 267.2h0M82.5 270.6h0M82.5 271.4h0M82.5 263.1h0M82.5 269.6h0M82.8 270.5h0M83.4 263.5h0M83.8 265.8h0M84.1 269.9h0M84.1 266.5h0M84.1 263.3h0M84.7 267.2h0M97.0 274.5h0M97.7 273.1h0M98.1 272.6h0M98.1 272.5h0M109.8 270.7h0M110.2 276.0h0M110.9 276.8h0M112.0 279.3h0M112.6 279.4h0M113.7 281.9h0M442.4 303.0h0M443.3 296.8h0M443.3 298.9h0M443.3 295.0h0M443.8 294.9h0M443.8 295.8h0M444.1 294.7h0M444.9 295.1h0M444.9 297.4h0M444.9 295.5h0M445.1 301.4h0M445.9 298.3h0" stroke="#414487"/><path d="M83.8 261.6h0M96.0 274.6h0M96.3 273.1h0M97.0 272.9h0M110.9 274.5h0M110.9 272.8h0M111.1 274.4h0M111.1 271.7h0M112.0 276.5h0M113.7 280.6h0M442.4 292.7h0M442.4 291.7h0M442.6 290.9h0M443.3 290.7h0M443.3 291.1h0M443.8 290.8h0M446.1 290.1h0M446.1 293.5h0" stroke="#3e4989"/><path d="M82.8 258.0h0M96.0 272.1h0M111.1 270.7h0M112.2 273.4h0M114.3 280.3h0M441.7 289.3h0M443.8 289.5h0" stroke="#3c4f8a"/><path d="M83.4 256.4h0M85.4 259.6h0M96.3 269.7h0M97.4 266.9h0M112.2 271.8h0M113.5 273.3h0M113.7 275.1h0M441.7 288.2h0M442.6 287.3h0M443.8 287.2h0M445.1 286.8h0M445.9 287.0h0M446.1 286.7h0" stroke="#3a548c"/><path d="M83.4 255.0h0M85.6 256.2h0M85.6 256.3h0M86.2 257.8h0M86.7 257.8h0M94.1 271.1h0M96.0 269.2h0M112.2 268.6h0M112.6 269.6h0M114.3 274.5h0M114.3 273.0h0M115.0 274.0h0M115.9 278.0h0M116.7 276.3h0M129.3 287.5h0M129.6 286.6h0M130.1 285.4h0M131.6 283.7h0M131.6 288.7h0M131.6 289.1h0M132.2 286.0h0M133.3 285.2h0M133.9 285.2h0M134.9 284.2h0M134.9 289.4h0M441.2 285.7h0M442.4 286.4h0M444.1 285.9h0M446.7 284.7h0" stroke="#375a8c"/><path d="M83.8 253.0h0M84.1 251.8h0M84.1 252.6h0M84.7 250.6h0M84.7 251.6h0M84.7 252.7h0M86.2 255.9h0M87.1 255.7h0M88.0 256.3h0M88.7 256.6h0M90.4 256.5h0M90.4 257.7h0M90.7 258.4h0M91.5 256.4h0M92.0 257.9h0M92.0 257.2h0M92.1 255.6h0M93.7 251.7h0M94.1 254.6h0M94.7 268.6h0M112.6 265.2h0M113.5 268.7h0M113.7 268.8h0M115.3 273.5h0M115.9 274.6h0M116.2 275.0h0M117.3 276.9h0M125.3 284.0h0M125.3 282.5h0M126.0 275.3h0M126.0 283.4h0M126.0 285.6h0M126.0 277.9h0M126.0 277.4h0M126.5 285.8h0M126.8 285.2h0M127.3 278.3h0M127.3 275.5h0M127.3 280.3h0M128.4 280.2h0M128.4 280.7h0M128.4 281.1h0M128.8 280.1h0M128.8 285.8h0M128.8 285.5h0M129.6 278.8h0M129.6 282.6h0M130.1 280.0h0M130.1 282.1h0M130.9 280.9h0M130.9 283.2h0M131.2 280.1h0M131.2 283.1h0M132.2 281.9h0M132.2 279.7h0M132.7 279.4h0M133.9 283.0h0M134.2 279.6h0M134.2 280.9h0M135.1 282.0h0M136.2 281.8h0M136.2 281.9h0M136.8 282.2h0M136.8 280.3h0M136.8 279.8h0M137.1 280.7h0M446.7 284.0h0M523.0 295.0h0M523.8 294.4h0M524.3 296.6h0M525.0 294.1h0M525.6 296.0h0" stroke="#355f8d"/><path d="M85.4 245.2h0M85.4 250.5h0M85.4 248.1h0M85.6 246.9h0M85.6 248.6h0M86.2 249.8h0M86.2 251.5h0M86.7 249.6h0M86.7 244.2h0M87.1 249.3h0M87.1 245.5h0M88.0 242.4h0M88.0 252.2h0M88.5 252.8h0M88.5 248.7h0M88.5 244.8h0M88.5 244.5h0M88.7 254.5h0M89.1 248.7h0M89.1 244.7h0M89.1 251.0h0M89.1 248.5h0M89.1 246.7h0M89.6 244.0h0M89.6 255.0h0M89.6 245.3h0M90.4 251.8h0M90.7 249.0h0M90.7 245.7h0M90.7 255.2h0M90.7 249.2h0M91.5 247.5h0M92.0 258.5h0M92.0 243.9h0M92.0 246.6h0M92.1 259.4h0M92.1 249.6h0M92.1 248.0h0M92.6 258.1h0M92.6 253.6h0M92.6 246.7h0M92.6 246.4h0M93.3 259.9h0M93.3 259.7h0M93.3 259.1h0M93.3 260.4h0M93.7 264.8h0M93.7 258.9h0M93.7 265.2h0M94.1 261.5h0M94.1 265.4h0M94.7 265.7h0M94.7 259.9h0M95.5 264.2h0M125.3 272.8h0M126.5 270.7h0M126.5 271.4h0M126.8 274.3h0M126.8 272.2h0M126.8 269.9h0M127.3 270.7h0M127.8 269.7h0M127.8 270.5h0M127.8 275.1h0M128.4 274.4h0M128.8 272.3h0M129.3 273.0h0M129.3 272.4h0M129.3 276.4h0M129.6 272.4h0M130.1 271.0h0M130.9 272.0h0M130.9 271.2h0M131.2 271.4h0M131.2 269.8h0M131.6 270.0h0M132.2 273.6h0M132.7 268.5h0M132.7 270.2h0M132.7 270.9h0M133.3 277.3h0M133.3 271.4h0M133.3 276.5h0M133.9 276.3h0M133.9 276.2h0M134.2 268.4h0M134.2 269.2h0M134.9 276.9h0M134.9 277.4h0M135.1 275.5h0M135.1 271.4h0M135.1 270.2h0M135.6 276.2h0M135.6 275.3h0M135.6 270.0h0M135.6 275.9h0M136.2 275.2h0M136.8 278.6h0M137.1 277.5h0M137.1 269.6h0M137.1 268.6h0M137.1 274.8h0M137.1 275.1h0M137.7 271.1h0M441.7 282.9h0M443.8 282.9h0M444.1 282.8h0M445.1 282.7h0M522.0 294.2h0M523.0 292.7h0M524.3 291.5h0M525.0 293.6h0M525.2 291.5h0M526.4 292.1h0M526.9 291.0h0M528.1 290.9h0" stroke="#32648e"/><path d="M86.7 240.2h0M86.7 238.9h0M88.5 239.3h0M91.5 240.3h0M112.6 260.4h0M113.5 263.1h0M113.5 263.9h0M114.3 266.9h0M115.0 268.7h0M116.2 270.1h0M116.7 271.2h0M126.0 269.3h0M127.8 268.4h0M136.2 265.8h0M136.8 265.1h0M193.0 271.3h0M193.0 270.5h0M193.0 270.7h0M193.3 275.5h0M193.3 272.0h0M194.0 268.0h0M194.2 270.9h0M194.2 268.9h0M195.0 275.8h0M195.0 269.1h0M195.1 274.7h0M196.0 267.5h0M196.0 270.6h0M196.0 269.3h0M196.4 268.6h0M196.4 268.1h0M196.8 272.1h0M196.8 269.4h0M197.4 268.8h0M197.6 270.8h0M441.7 281.1h0M443.3 280.4h0M444.9 280.4h0M523.8 289.8h0M524.3 289.9h0M525.2 289.7h0M525.6 289.9h0M526.4 290.1h0M526.9 288.0h0M527.3 290.2h0M527.3 288.8h0M527.9 290.2h0M527.9 289.0h0" stroke="#306a8e"/><path d="M86.2 237.8h0M90.4 237.3h0M91.5 235.7h0M113.5 261.7h0M114.3 264.6h0M115.0 264.9h0M115.3 265.3h0M118.1 269.0h0M124.5 266.8h0M125.3 265.9h0M126.5 265.8h0M136.2 262.4h0M137.7 263.9h0M194.2 267.4h0M195.0 266.8h0M196.8 265.9h0M196.8 266.6h0M197.4 265.9h0M198.3 268.0h0M441.2 280.2h0M441.2 280.7h0M442.6 278.8h0M517.5 289.6h0M518.8 289.4h0M518.8 288.5h0M519.5 288.9h0M521.0 289.5h0M522.0 289.5h0M522.0 287.7h0M523.0 289.1h0M523.0 286.5h0M523.1 288.2h0M523.8 286.6h0M525.0 287.0h0M525.0 287.8h0M525.2 285.5h0M528.8 285.6h0" stroke="#2e6f8e"/><path d="M87.1 234.3h0M87.1 235.1h0M88.0 235.2h0M88.0 233.7h0M88.7 235.5h0M88.7 232.5h0M88.7 235.9h0M89.6 232.2h0M89.6 231.4h0M90.4 231.3h0M91.5 233.7h0M113.7 256.9h0M115.0 264.1h0M118.8 267.6h0M121.2 267.0h0M122.5 266.6h0M122.5 267.3h0M124.5 265.2h0M126.5 259.3h0M192.2 267.2h0M193.3 265.6h0M196.0 265.1h0M196.4 264.5h0M198.3 265.0h0M199.4 265.9h0M199.4 265.6h0M247.8 272.1h0M247.8 268.2h0M247.8 275.1h0M247.8 274.5h0M247.8 264.9h0M248.4 266.1h0M248.4 270.6h0M248.4 261.8h0M248.9 268.7h0M249.1 273.6h0M249.1 273.9h0M249.1 263.7h0M249.1 269.6h0M249.1 262.3h0M249.1 275.1h0M249.8 267.1h0M249.8 263.4h0M249.8 262.6h0M250.3 264.6h0M443.3 277.5h0M444.1 278.4h0M445.9 277.2h0M488.8 282.0h0M489.1 278.1h0M489.9 280.5h0M489.9 277.6h0M490.3 282.6h0M490.3 274.2h0M490.3 275.1h0M490.7 276.2h0M490.7 273.6h0M490.7 283.3h0M491.1 275.5h0M491.1 273.9h0M491.1 275.4h0M491.9 279.6h0M491.9 288.0h0M491.9 275.9h0M491.9 270.6h0M492.2 280.6h0M492.2 276.5h0M492.2 271.4h0M492.2 276.2h0M492.7 279.9h0M492.7 282.5h0M492.7 283.9h0M492.7 284.5h0M493.3 275.1h0M493.3 271.8h0M493.3 276.0h0M493.3 289.8h0M494.0 286.3h0M494.0 284.4h0M494.0 281.6h0M494.0 279.8h0M494.2 286.4h0M494.2 273.1h0M494.2 284.3h0M494.9 284.2h0M494.9 275.6h0M494.9 276.3h0M494.9 276.2h0M495.4 269.7h0M495.4 289.2h0M495.4 283.9h0M495.4 286.5h0M495.9 287.2h0M495.9 277.7h0M495.9 286.1h0M495.9 285.0h0M496.3 280.1h0M496.3 274.5h0M496.3 291.5h0M496.3 285.3h0M497.0 291.8h0M497.0 281.8h0M497.0 283.4h0M497.0 282.8h0M497.4 288.1h0M497.4 274.6h0M497.4 273.0h0M497.4 290.3h0M497.9 289.1h0M497.9 271.7h0M497.9 277.0h0M497.9 286.0h0M498.2 280.9h0M498.2 281.5h0M498.2 275.7h0M498.2 284.2h0M498.7 281.6h0M498.7 276.3h0M498.7 282.3h0M498.7 271.1h0M499.3 281.6h0M499.3 275.0h0M499.3 277.4h0M499.3 274.5h0M499.6 290.1h0M499.6 285.4h0M499.6 277.4h0M499.6 281.4h0M500.3 277.6h0M500.3 280.6h0M500.3 273.0h0M500.3 276.0h0M501.0 278.8h0M501.0 273.5h0M501.0 276.2h0M501.0 272.0h0M501.4 287.5h0M501.4 276.9h0M501.4 272.3h0M501.4 289.5h0M501.7 276.5h0M501.7 283.2h0M501.7 276.0h0M501.7 281.0h0M502.4 281.8h0M502.4 278.6h0M502.4 277.5h0M502.4 280.4h0M502.8 282.5h0M502.8 289.8h0M502.8 290.3h0M502.8 279.1h0M503.3 276.9h0M503.3 274.0h0M503.3 278.2h0M503.3 283.3h0M503.8 275.5h0M503.8 283.2h0M503.8 273.1h0M503.8 278.3h0M504.2 277.0h0M504.2 280.0h0M504.2 275.9h0M504.2 288.6h0M504.9 272.9h0M504.9 285.7h0M504.9 288.0h0M504.9 275.7h0M505.4 279.8h0M505.4 282.7h0M505.4 286.3h0M505.4 288.4h0M505.7 278.9h0M505.7 287.7h0M505.7 283.2h0M505.7 280.0h0M506.1 286.1h0M506.1 272.8h0M506.1 273.6h0M506.1 277.9h0M506.8 278.4h0M506.8 282.3h0M506.8 285.3h0M506.8 281.0h0M507.2 272.9h0M507.2 277.4h0M507.2 280.1h0M507.2 275.5h0M507.6 282.9h0M507.6 283.1h0M507.6 270.8h0M507.6 273.0h0M508.4 272.7h0M508.4 286.6h0M508.4 278.5h0M508.4 280.1h0M508.7 276.1h0M508.7 275.7h0M508.7 279.8h0M508.7 280.9h0M509.1 280.0h0M509.1 271.9h0M509.1 272.7h0M509.1 283.3h0M509.8 272.0h0M509.8 287.0h0M509.8 276.5h0M509.8 275.5h0M510.3 281.1h0M510.3 270.1h0M510.3 283.2h0M510.3 285.0h0M510.7 287.2h0M510.7 277.6h0M510.7 285.7h0M510.7 284.0h0M511.1 287.4h0M511.1 276.7h0M511.1 276.1h0M511.1 279.7h0M511.8 288.8h0M511.8 279.2h0M511.8 270.5h0M511.8 275.3h0M512.1 272.5h0M512.1 288.4h0M512.1 272.2h0M512.1 287.3h0M512.6 283.4h0M512.6 277.9h0M512.6 287.8h0M512.6 273.5h0M513.5 274.9h0M513.5 271.8h0M513.5 285.9h0M513.5 278.1h0M513.7 272.0h0M513.7 284.3h0M513.7 269.0h0M513.7 282.6h0M514.4 277.8h0M514.4 280.2h0M514.4 270.8h0M514.4 276.0h0M514.8 275.4h0M514.8 278.1h0M514.8 269.6h0M515.4 281.5h0M515.4 286.3h0M515.4 278.4h0M515.4 277.7h0M515.6 271.0h0M515.6 285.8h0M515.6 289.0h0M516.2 289.3h0M516.2 288.3h0M516.2 280.7h0M516.2 284.0h0M516.2 285.3h0M516.6 276.1h0M516.6 280.4h0M517.5 280.6h0M517.5 276.6h0M517.5 280.1h0M517.9 271.3h0M517.9 282.4h0M518.2 282.2h0M518.2 283.3h0M518.2 284.0h0M518.2 275.8h0M518.2 274.0h0M518.8 280.6h0M518.8 271.8h0M518.8 273.9h0M519.5 272.0h0M519.5 287.9h0M519.7 283.8h0M519.7 276.3h0M520.5 280.5h0M520.5 275.6h0M520.5 272.4h0M520.5 281.8h0M520.5 285.3h0M521.0 282.2h0M521.4 280.4h0M521.4 275.0h0M521.4 286.7h0M521.4 281.2h0M522.0 286.2h0M522.2 278.6h0M522.2 281.5h0M522.2 283.2h0M523.0 281.0h0M523.0 277.2h0M523.1 282.1h0M523.1 279.6h0M523.1 282.3h0M524.3 280.1h0M525.0 283.5h0M525.2 279.8h0M526.4 284.3h0M526.9 282.4h0M526.9 282.5h0M527.3 281.7h0M527.3 283.6h0M528.1 283.7h0M528.1 282.2h0M528.8 283.7h0" stroke="#2c738e"/><path d="M115.3 256.4h0M115.3 257.5h0M115.9 259.8h0M115.9 257.2h0M116.2 259.1h0M116.2 263.0h0M116.7 262.5h0M116.7 263.8h0M117.6 264.5h0M119.9 267.0h0M119.9 266.2h0M121.2 265.0h0M122.5 263.3h0M122.8 265.7h0M122.8 262.6h0M123.5 262.1h0M123.5 261.5h0M123.6 261.0h0M123.6 263.3h0M124.5 257.6h0M124.5 257.1h0M124.6 258.0h0M124.6 259.6h0M124.6 260.5h0M125.3 260.2h0M137.7 260.0h0M138.5 260.8h0M192.2 265.8h0M193.0 264.9h0M194.0 263.3h0M197.4 262.7h0M200.4 265.7h0M248.9 260.0h0M439.4 276.9h0M442.4 276.5h0M442.6 275.8h0M444.9 276.3h0M445.1 275.2h0M475.0 283.4h0M475.6 281.4h0M475.6 279.9h0M475.6 277.1h0M476.6 283.2h0M477.2 277.8h0M477.9 281.0h0M477.9 281.4h0M477.9 275.3h0M478.4 277.1h0M478.4 273.6h0M478.4 276.6h0M479.5 275.4h0M479.5 273.9h0M479.5 276.4h0M479.8 284.4h0M479.8 271.9h0M479.8 273.5h0M479.8 281.7h0M480.5 281.0h0M480.5 284.4h0M480.8 285.4h0M480.8 282.7h0M480.8 280.8h0M481.1 276.4h0M481.1 282.3h0M481.1 275.2h0M481.6 272.6h0M481.6 279.2h0M481.6 272.7h0M482.5 283.2h0M482.5 277.6h0M482.6 284.5h0M483.5 280.3h0M484.3 277.9h0M484.3 283.8h0M484.6 278.4h0M484.6 274.7h0M485.3 283.6h0M485.7 275.9h0M485.7 276.2h0M486.5 269.4h0M487.0 282.1h0M487.0 280.9h0M487.4 277.9h0M487.4 283.6h0M488.0 281.4h0M488.0 273.4h0M488.0 284.9h0M488.0 276.3h0M488.5 275.9h0M488.5 273.3h0M488.5 273.0h0M488.5 276.3h0M488.8 275.2h0M488.8 266.9h0M488.8 269.0h0M489.1 276.6h0M489.1 267.0h0M489.1 272.5h0M489.1 275.9h0M489.9 266.9h0M490.3 269.2h0M490.7 269.3h0M491.1 264.8h0M494.2 268.2h0M514.8 269.1h0M515.4 268.2h0M515.6 268.0h0M515.6 265.6h0M516.6 268.6h0M516.6 268.1h0M517.5 266.7h0M517.9 269.2h0M517.9 269.6h0M518.8 268.6h0M519.5 269.8h0M519.5 268.4h0M519.5 267.7h0M519.7 267.6h0M520.5 271.0h0M521.0 272.2h0M524.3 273.4h0M525.0 273.3h0M525.2 276.0h0M527.9 278.4h0M527.9 278.4h0M528.1 278.4h0M529.4 280.3h0M529.4 280.7h0M529.7 277.8h0M529.7 278.1h0" stroke="#2a788e"/><path d="M116.7 255.2h0M117.3 261.4h0M117.3 257.5h0M117.3 255.1h0M117.6 254.7h0M117.6 250.9h0M117.6 261.7h0M117.6 251.6h0M118.1 261.2h0M118.1 259.9h0M118.8 257.1h0M118.8 255.2h0M119.2 260.3h0M119.2 256.8h0M119.2 251.4h0M119.9 263.9h0M120.4 262.0h0M120.4 264.4h0M121.0 254.4h0M121.0 255.7h0M121.0 257.5h0M121.2 260.0h0M121.2 251.8h0M121.6 260.4h0M121.6 262.9h0M121.6 253.3h0M121.6 263.5h0M122.5 253.2h0M122.5 257.9h0M122.8 254.7h0M122.8 252.8h0M122.8 260.3h0M123.5 258.2h0M123.5 253.7h0M123.5 253.8h0M123.6 254.3h0M124.5 253.9h0M124.6 251.5h0M125.3 252.8h0M136.8 258.6h0M138.5 258.5h0M194.2 262.2h0M195.1 260.2h0M198.3 261.8h0M198.8 261.6h0M199.8 262.3h0M199.8 262.3h0M200.4 262.6h0M202.8 266.0h0M203.2 264.7h0M203.9 264.8h0M203.9 266.4h0M204.5 264.4h0M204.6 262.7h0M204.6 263.3h0M204.6 263.8h0M205.2 266.4h0M205.2 262.4h0M205.2 263.1h0M205.8 261.7h0M205.8 269.2h0M205.8 262.2h0M206.5 264.9h0M206.5 266.4h0M207.4 265.1h0M207.4 262.2h0M207.4 273.0h0M207.6 268.1h0M207.6 259.7h0M207.6 261.7h0M208.2 260.2h0M208.2 266.7h0M208.2 267.6h0M208.2 263.1h0M208.6 263.2h0M208.6 260.0h0M208.6 262.6h0M209.2 269.4h0M209.2 261.4h0M209.2 259.9h0M209.2 274.2h0M209.7 269.0h0M209.7 271.5h0M210.4 264.0h0M210.4 271.8h0M211.0 266.2h0M211.3 258.0h0M248.4 256.3h0M248.4 257.9h0M248.9 255.8h0M249.1 257.5h0M250.3 256.5h0M250.8 256.7h0M250.8 256.1h0M436.9 275.4h0M437.2 275.8h0M437.6 275.2h0M438.2 276.3h0M439.8 275.0h0M440.1 274.8h0M440.6 275.2h0M442.6 273.4h0M444.9 272.7h0M444.9 272.9h0M445.1 273.4h0M446.1 274.1h0M472.1 278.0h0M472.1 283.2h0M472.7 276.4h0M472.7 281.7h0M473.9 273.7h0M473.9 277.5h0M473.9 279.9h0M474.5 272.7h0M475.5 271.9h0M475.5 275.6h0M476.6 270.7h0M476.6 270.9h0M477.2 270.2h0M478.6 269.1h0M480.5 269.9h0M481.1 269.9h0M481.6 269.4h0M482.5 268.5h0M482.5 270.3h0M482.6 267.4h0M482.6 269.4h0M483.5 269.5h0M483.5 265.6h0M483.9 265.7h0M483.9 267.7h0M483.9 267.7h0M484.3 266.7h0M484.3 269.5h0M484.6 267.5h0M484.6 266.0h0M485.3 267.2h0M487.0 263.9h0M487.0 264.9h0M487.0 267.1h0M487.4 267.0h0M487.4 268.2h0M489.9 262.1h0M489.9 259.8h0M490.3 263.7h0M516.6 263.1h0M517.9 262.2h0M519.7 266.3h0M521.0 268.1h0M521.0 268.0h0M521.4 267.8h0M524.3 272.1h0M525.6 271.8h0M528.8 274.0h0" stroke="#287d8e"/><path d="M117.6 249.0h0M118.1 250.7h0M120.4 249.4h0M121.2 249.1h0M121.6 249.3h0M123.6 247.8h0M125.3 248.0h0M137.7 247.5h0M137.7 248.5h0M137.7 253.6h0M137.7 253.5h0M138.5 246.4h0M138.5 246.6h0M138.5 246.1h0M186.4 254.3h0M186.4 253.2h0M186.4 253.3h0M186.7 255.2h0M187.4 255.5h0M187.4 256.6h0M187.8 259.0h0M187.8 258.4h0M187.8 256.5h0M188.2 252.1h0M188.2 257.9h0M188.2 252.9h0M188.9 255.6h0M188.9 253.5h0M189.5 258.9h0M190.0 253.3h0M190.0 255.4h0M190.0 259.4h0M190.0 257.2h0M190.3 253.6h0M190.3 256.8h0M190.3 256.3h0M190.7 254.8h0M190.7 258.9h0M191.3 254.5h0M191.3 254.0h0M191.3 252.9h0M191.9 259.2h0M191.9 256.1h0M191.9 259.2h0M192.2 257.9h0M193.3 258.1h0M194.0 260.1h0M195.0 258.6h0M195.1 257.8h0M197.6 260.1h0M199.4 259.4h0M199.8 260.1h0M199.8 259.4h0M201.3 259.8h0M201.6 261.6h0M202.8 261.1h0M203.2 262.3h0M204.5 261.9h0M204.5 262.1h0M204.5 259.9h0M205.2 260.6h0M205.8 256.7h0M205.8 259.8h0M207.0 255.2h0M207.0 258.8h0M207.0 256.0h0M208.2 254.9h0M208.6 254.1h0M209.7 255.1h0M210.4 256.3h0M211.0 253.4h0M211.8 256.8h0M212.7 254.6h0M248.9 255.1h0M416.0 277.6h0M416.4 274.6h0M416.4 276.1h0M417.2 273.6h0M417.2 272.9h0M417.2 271.7h0M417.6 276.5h0M417.6 274.8h0M418.5 278.6h0M418.5 270.8h0M418.5 272.5h0M419.0 269.4h0M419.0 272.2h0M419.0 273.2h0M419.1 279.2h0M420.0 278.6h0M420.5 270.5h0M420.5 272.1h0M420.6 272.1h0M420.6 276.2h0M420.6 275.6h0M421.1 276.4h0M421.1 276.2h0M421.1 271.7h0M422.5 272.3h0M422.5 281.9h0M422.6 281.1h0M422.6 274.5h0M422.6 279.3h0M422.6 278.7h0M422.6 283.8h0M423.5 269.0h0M423.5 271.4h0M423.5 276.7h0M423.5 278.3h0M423.7 273.2h0M423.7 272.9h0M423.7 269.3h0M423.7 281.6h0M424.3 271.6h0M424.3 272.6h0M424.3 280.9h0M424.9 271.8h0M424.9 276.7h0M425.5 281.7h0M425.5 274.0h0M425.5 280.6h0M425.6 270.5h0M425.6 270.5h0M425.6 271.0h0M425.6 277.3h0M426.2 272.0h0M426.8 279.2h0M427.5 272.2h0M427.7 276.5h0M428.4 276.7h0M428.7 274.9h0M429.5 270.7h0M430.2 276.2h0M430.7 271.8h0M431.1 274.0h0M431.6 274.0h0M434.0 273.8h0M434.3 273.2h0M434.8 276.4h0M436.3 272.6h0M436.9 274.8h0M437.2 272.9h0M439.0 270.6h0M439.4 273.6h0M439.8 271.3h0M440.6 272.2h0M442.6 270.6h0M443.8 272.1h0M444.9 270.1h0M445.1 269.5h0M446.1 272.2h0M446.1 272.0h0M446.7 270.7h0M468.2 281.7h0M468.2 282.0h0M468.2 282.6h0M469.1 281.8h0M470.3 278.0h0M471.1 279.3h0M471.7 273.7h0M472.1 273.3h0M473.3 274.0h0M473.9 270.8h0M474.5 270.9h0M474.5 269.3h0M475.0 270.6h0M476.6 266.8h0M478.4 266.0h0M478.6 266.3h0M480.5 266.9h0M480.8 265.6h0M482.6 264.5h0M483.5 265.4h0M483.9 264.3h0M485.3 261.7h0M485.3 262.5h0M486.5 262.7h0M486.5 258.9h0M487.4 260.6h0M488.0 259.4h0M488.0 260.5h0M488.5 260.7h0M488.5 258.0h0M488.8 256.5h0M488.8 258.9h0M489.1 257.1h0M519.7 263.4h0M519.7 262.7h0M521.4 265.2h0M522.0 264.9h0M522.0 265.3h0M523.1 268.3h0M523.8 267.0h0M524.3 268.5h0M525.6 271.0h0" stroke="#26828e"/><path d="M117.3 246.3h0M117.3 246.4h0M118.1 247.1h0M118.1 245.5h0M118.8 244.8h0M118.8 245.4h0M119.2 246.3h0M119.2 244.9h0M119.9 248.5h0M119.9 248.5h0M120.4 247.9h0M120.4 245.1h0M121.0 243.2h0M121.0 246.9h0M123.6 244.0h0M124.6 244.4h0M138.5 235.2h0M138.8 242.4h0M138.8 241.6h0M138.8 240.8h0M139.3 239.6h0M139.8 236.1h0M185.3 247.1h0M185.6 249.6h0M186.4 245.2h0M186.7 245.8h0M187.4 245.2h0M187.4 247.7h0M188.9 245.0h0M189.5 243.7h0M189.5 251.6h0M189.5 245.8h0M190.7 252.2h0M192.2 253.3h0M194.0 252.8h0M195.0 253.6h0M195.1 253.4h0M195.1 255.4h0M196.0 253.5h0M196.4 256.0h0M197.4 254.6h0M197.6 255.8h0M197.6 255.5h0M199.8 256.2h0M200.6 257.8h0M201.3 257.7h0M201.3 259.1h0M201.6 259.4h0M202.3 258.4h0M202.8 258.9h0M204.6 255.8h0M206.5 254.5h0M207.0 254.0h0M207.4 250.6h0M207.6 249.2h0M208.2 252.5h0M208.6 252.5h0M209.7 251.2h0M209.7 250.5h0M210.4 251.9h0M211.0 252.6h0M211.3 251.5h0M211.3 252.9h0M211.8 252.1h0M211.8 250.1h0M212.2 251.0h0M233.5 264.8h0M233.8 266.2h0M233.8 264.6h0M234.1 268.5h0M234.9 267.8h0M235.5 273.8h0M235.5 274.0h0M235.5 262.8h0M235.8 272.2h0M235.8 264.1h0M236.4 267.9h0M236.4 269.7h0M236.4 270.8h0M236.4 271.6h0M236.7 272.0h0M236.7 272.2h0M236.7 267.4h0M236.7 267.7h0M236.7 269.2h0M237.3 257.7h0M237.3 272.2h0M237.3 260.4h0M238.0 271.0h0M238.0 264.8h0M238.0 257.0h0M238.5 261.8h0M238.5 273.3h0M238.5 258.2h0M238.5 267.7h0M238.5 260.8h0M238.8 269.2h0M238.8 260.1h0M238.8 257.8h0M238.8 257.7h0M239.1 256.7h0M239.1 258.5h0M239.1 257.7h0M239.7 259.2h0M239.7 263.1h0M249.1 251.5h0M249.8 252.8h0M250.8 252.7h0M391.0 262.0h0M391.0 261.7h0M392.4 260.4h0M392.4 259.8h0M393.0 259.3h0M393.3 260.3h0M393.3 265.0h0M393.3 258.7h0M394.0 256.9h0M394.0 255.4h0M394.0 255.5h0M394.5 266.2h0M394.5 256.9h0M395.0 261.2h0M395.0 257.3h0M395.1 258.2h0M395.1 258.9h0M395.1 260.2h0M395.1 257.5h0M395.8 257.3h0M395.8 268.3h0M395.8 256.7h0M396.2 258.1h0M396.2 255.9h0M396.2 261.7h0M397.0 263.1h0M397.0 261.6h0M397.0 266.9h0M397.0 266.0h0M397.0 267.1h0M397.2 262.3h0M397.2 268.1h0M397.2 255.4h0M397.2 261.7h0M397.7 260.2h0M397.7 252.9h0M397.7 261.6h0M398.4 257.9h0M398.4 251.2h0M398.4 262.9h0M398.7 257.9h0M398.7 250.8h0M398.7 254.8h0M398.7 258.8h0M398.7 262.1h0M399.4 259.2h0M399.4 257.9h0M399.4 255.4h0M399.9 252.4h0M399.9 255.6h0M399.9 252.4h0M400.3 254.0h0M400.3 261.7h0M400.3 260.5h0M400.8 254.8h0M400.8 253.9h0M401.2 260.1h0M401.2 258.2h0M401.2 249.2h0M401.2 257.0h0M401.6 262.9h0M401.6 258.4h0M401.6 263.2h0M402.2 254.3h0M402.2 252.7h0M402.2 265.3h0M402.2 260.5h0M402.2 262.4h0M402.8 253.5h0M402.8 256.9h0M402.8 264.4h0M402.8 259.4h0M403.2 267.4h0M403.2 262.8h0M403.2 267.1h0M403.8 265.5h0M403.8 264.0h0M404.5 263.4h0M404.5 257.2h0M404.5 257.5h0M404.5 252.7h0M404.5 259.2h0M404.6 254.8h0M404.6 257.0h0M404.6 263.6h0M404.6 268.6h0M404.6 249.7h0M404.6 249.1h0M405.5 270.8h0M405.5 270.0h0M405.5 267.8h0M405.5 256.6h0M406.0 253.5h0M406.0 258.8h0M406.0 268.6h0M406.0 256.7h0M406.0 263.3h0M406.3 252.6h0M406.3 260.2h0M406.3 252.0h0M406.3 260.9h0M406.6 265.3h0M406.6 264.2h0M406.6 261.1h0M406.6 272.2h0M407.3 261.4h0M407.3 258.7h0M407.3 271.6h0M407.3 254.4h0M408.0 259.4h0M408.0 254.3h0M408.0 273.2h0M408.0 262.9h0M408.1 267.4h0M408.1 271.8h0M408.1 264.9h0M408.1 273.1h0M409.0 273.0h0M409.0 269.5h0M409.0 260.0h0M409.0 263.4h0M409.5 266.3h0M409.5 271.6h0M409.5 267.6h0M409.5 259.8h0M409.6 278.6h0M409.6 270.4h0M409.6 278.8h0M409.6 276.9h0M410.2 276.1h0M410.2 279.4h0M410.2 277.8h0M410.2 259.6h0M410.8 264.1h0M410.8 262.9h0M410.8 258.1h0M410.8 262.6h0M411.1 274.7h0M411.1 272.1h0M411.1 257.6h0M411.1 271.0h0M411.8 264.2h0M411.8 276.8h0M411.8 275.2h0M411.8 257.2h0M412.2 277.8h0M412.2 269.6h0M412.2 257.2h0M412.2 257.9h0M412.9 276.3h0M412.9 256.4h0M412.9 272.3h0M412.9 256.8h0M413.2 273.7h0M413.2 273.6h0M413.2 264.4h0M413.2 263.5h0M413.8 259.5h0M413.8 276.7h0M413.8 277.1h0M413.8 263.6h0M414.1 272.9h0M414.1 262.0h0M414.1 261.5h0M414.1 263.4h0M414.6 266.6h0M414.6 265.1h0M414.6 260.9h0M414.6 269.5h0M415.3 269.3h0M415.3 261.1h0M415.3 265.0h0M415.3 265.7h0M415.3 269.2h0M416.0 258.4h0M416.0 267.0h0M416.0 270.6h0M416.0 269.7h0M416.4 263.7h0M416.4 254.4h0M416.4 264.3h0M416.7 263.0h0M416.7 270.0h0M416.7 263.6h0M416.7 267.3h0M416.7 259.7h0M417.2 254.2h0M417.2 265.2h0M417.6 264.6h0M417.6 270.6h0M417.6 256.6h0M418.5 263.2h0M418.5 258.3h0M419.0 266.7h0M419.0 260.3h0M419.1 263.0h0M419.1 254.9h0M419.1 261.0h0M419.1 257.1h0M420.0 260.9h0M420.0 256.0h0M420.0 268.4h0M420.0 263.7h0M420.5 257.1h0M420.5 260.7h0M420.5 260.7h0M420.6 262.2h0M420.6 258.1h0M421.1 265.0h0M421.1 263.2h0M421.6 263.3h0M421.6 260.6h0M421.6 263.4h0M421.6 267.6h0M422.5 263.0h0M422.5 261.8h0M423.7 266.7h0M426.2 269.0h0M426.2 268.6h0M427.5 268.4h0M428.4 268.0h0M430.7 269.8h0M430.7 268.0h0M430.7 268.0h0M431.1 268.0h0M431.1 270.1h0M431.6 268.9h0M432.4 268.0h0M432.4 269.0h0M432.9 269.3h0M434.3 269.7h0M435.5 271.6h0M435.8 268.9h0M435.8 269.5h0M435.8 268.4h0M436.3 269.2h0M436.9 270.9h0M437.2 266.6h0M438.2 266.5h0M439.4 269.8h0M440.1 266.2h0M440.6 267.4h0M440.6 266.8h0M441.7 267.5h0M442.4 267.8h0M442.6 264.4h0M443.3 266.9h0M443.8 264.7h0M444.1 267.4h0M445.1 266.6h0M445.1 266.5h0M446.1 266.1h0M446.7 268.4h0M446.7 264.9h0M465.9 278.4h0M465.9 277.6h0M466.9 277.8h0M466.9 279.1h0M467.1 279.0h0M467.1 277.3h0M468.2 279.2h0M469.0 274.4h0M469.0 277.7h0M469.1 275.1h0M469.9 273.9h0M469.9 275.2h0M469.9 276.4h0M470.6 272.0h0M471.7 271.2h0M472.1 269.2h0M473.9 269.7h0M475.5 264.8h0M476.4 264.7h0M476.6 263.9h0M477.2 265.8h0M477.2 266.3h0M477.9 264.0h0M478.4 263.8h0M478.4 263.4h0M478.4 262.8h0M478.4 264.7h0M478.6 263.3h0M478.6 262.6h0M479.5 262.6h0M479.8 262.2h0M485.7 256.7h0M485.7 257.2h0M485.7 256.5h0M486.5 256.5h0M486.5 253.5h0M486.5 252.4h0M487.0 257.0h0M487.4 254.7h0M521.0 261.6h0M522.2 263.0h0M522.2 261.9h0M522.2 262.1h0M523.1 261.9h0M523.8 262.8h0M523.8 265.4h0M525.2 268.2h0M525.6 268.7h0M526.4 268.0h0M526.9 267.9h0M527.3 267.4h0M528.1 267.7h0M528.8 269.4h0M528.8 269.7h0M528.8 269.4h0" stroke="#24868e"/><path d="M138.8 227.9h0M138.8 227.6h0M138.8 229.8h0M139.3 228.9h0M139.3 230.7h0M139.3 229.6h0M139.3 228.7h0M139.3 223.4h0M139.8 231.9h0M139.8 220.4h0M139.8 215.9h0M140.5 216.0h0M140.5 227.8h0M140.5 220.8h0M140.6 221.3h0M140.6 230.8h0M140.6 225.1h0M140.6 226.3h0M140.6 217.8h0M141.1 215.0h0M141.1 223.3h0M141.1 217.3h0M141.1 218.8h0M141.6 219.3h0M141.6 215.1h0M142.5 225.5h0M142.5 225.5h0M142.5 226.5h0M143.2 224.7h0M143.2 222.4h0M143.2 220.0h0M143.8 223.7h0M144.5 223.4h0M144.5 215.6h0M144.5 227.8h0M144.5 222.8h0M144.9 220.7h0M144.9 223.0h0M145.2 218.5h0M146.0 220.1h0M146.0 225.5h0M146.0 220.9h0M146.1 217.9h0M146.1 222.7h0M146.7 224.0h0M185.3 241.8h0M185.6 243.2h0M186.4 242.0h0M186.4 240.4h0M187.4 240.1h0M188.2 239.7h0M188.9 240.5h0M196.4 252.5h0M196.8 252.9h0M197.4 253.5h0M197.6 246.9h0M198.3 251.9h0M198.3 246.5h0M198.8 245.7h0M198.8 255.0h0M198.8 253.5h0M198.8 242.3h0M199.4 246.3h0M199.4 254.3h0M200.4 251.6h0M200.4 246.2h0M200.6 254.3h0M200.6 250.8h0M200.6 244.3h0M201.3 253.7h0M201.6 247.7h0M201.6 251.7h0M202.3 254.6h0M202.3 246.9h0M202.3 251.4h0M202.8 244.2h0M203.2 244.7h0M203.2 247.3h0M203.9 246.1h0M203.9 247.7h0M204.5 245.3h0M204.6 250.6h0M205.2 244.6h0M206.5 246.3h0M206.5 247.6h0M207.0 248.2h0M207.0 246.6h0M207.4 246.5h0M207.4 248.3h0M207.6 246.3h0M207.6 245.2h0M208.6 245.9h0M209.7 245.1h0M210.4 247.5h0M210.4 248.7h0M211.0 247.3h0M212.2 248.4h0M227.1 242.6h0M228.4 242.7h0M228.9 241.1h0M229.2 241.9h0M229.9 249.1h0M229.9 240.9h0M229.9 242.1h0M229.9 242.7h0M230.4 241.2h0M230.4 243.6h0M230.7 250.9h0M230.7 247.1h0M231.3 248.3h0M231.3 242.2h0M231.6 245.9h0M231.6 244.9h0M232.4 260.3h0M232.4 258.6h0M232.4 253.7h0M232.4 256.4h0M232.4 244.8h0M232.8 258.3h0M232.8 253.9h0M232.8 249.6h0M232.8 248.3h0M232.8 244.3h0M233.5 252.3h0M233.5 252.3h0M233.5 248.0h0M233.5 242.3h0M233.8 245.6h0M233.8 259.7h0M233.8 245.0h0M234.1 242.6h0M234.1 259.9h0M234.1 263.2h0M234.1 246.7h0M234.1 261.7h0M234.9 249.5h0M234.9 257.6h0M234.9 261.2h0M234.9 259.2h0M234.9 251.0h0M235.5 261.0h0M235.5 254.8h0M235.5 254.0h0M235.8 249.1h0M235.8 259.6h0M235.8 249.2h0M235.8 254.1h0M236.4 249.9h0M236.7 250.3h0M237.3 251.3h0M237.3 251.9h0M238.0 255.4h0M239.1 246.6h0M239.7 250.7h0M240.2 249.7h0M240.2 253.0h0M240.2 250.9h0M240.9 251.0h0M240.9 249.8h0M241.4 248.0h0M248.9 249.8h0M249.1 249.7h0M250.3 250.8h0M250.8 251.2h0M308.0 257.4h0M308.0 252.5h0M308.0 265.9h0M308.4 262.0h0M308.4 252.7h0M308.4 257.6h0M309.0 262.8h0M309.1 270.3h0M309.1 254.3h0M309.1 259.2h0M309.1 263.7h0M309.1 261.9h0M309.6 257.6h0M309.6 264.8h0M309.6 258.3h0M309.6 257.1h0M310.5 255.7h0M310.5 266.8h0M310.5 258.3h0M310.5 265.9h0M310.8 270.0h0M310.8 270.3h0M310.8 259.0h0M311.2 252.8h0M311.2 264.4h0M311.2 254.4h0M311.7 251.9h0M311.7 258.2h0M311.7 260.0h0M312.5 256.7h0M312.5 258.0h0M312.8 263.2h0M312.8 264.1h0M312.8 258.7h0M313.1 258.7h0M313.9 259.4h0M313.9 259.4h0M313.9 262.6h0M313.9 256.2h0M314.3 262.5h0M314.3 260.5h0M314.3 262.7h0M379.7 251.3h0M379.7 254.5h0M379.7 253.4h0M380.2 258.6h0M380.2 255.9h0M380.2 254.4h0M380.8 260.0h0M380.8 257.5h0M381.5 253.8h0M381.5 257.3h0M381.5 249.6h0M381.5 261.3h0M381.7 253.0h0M381.7 262.3h0M381.7 264.8h0M381.7 249.2h0M382.3 267.9h0M382.3 252.9h0M382.3 250.9h0M382.3 262.5h0M383.0 266.3h0M383.0 255.7h0M383.0 257.6h0M383.0 254.1h0M383.1 256.6h0M383.1 256.4h0M383.1 253.0h0M383.1 250.5h0M384.0 253.1h0M384.0 256.3h0M384.0 264.4h0M384.0 258.3h0M384.2 254.2h0M384.2 250.6h0M384.2 249.4h0M384.2 256.5h0M384.6 258.1h0M384.6 260.4h0M384.6 254.3h0M384.6 258.6h0M385.3 247.4h0M385.3 260.5h0M385.3 253.6h0M385.3 250.6h0M386.0 245.9h0M386.0 260.2h0M386.0 261.6h0M386.0 263.3h0M386.3 255.3h0M386.3 252.9h0M386.3 255.0h0M386.3 251.3h0M387.0 257.4h0M387.0 254.4h0M387.0 255.8h0M387.0 261.9h0M387.5 262.6h0M387.5 257.2h0M387.5 257.5h0M387.5 244.7h0M387.6 244.5h0M387.6 246.1h0M387.6 256.0h0M387.6 258.1h0M388.1 246.3h0M388.1 250.5h0M388.1 253.7h0M388.1 250.1h0M388.7 257.2h0M388.7 251.5h0M388.7 262.7h0M389.1 255.6h0M389.1 253.7h0M389.1 244.0h0M389.9 251.5h0M389.9 249.9h0M389.9 260.1h0M389.9 256.8h0M389.9 249.8h0M390.5 241.5h0M390.5 246.4h0M390.5 249.9h0M390.5 257.9h0M390.5 259.8h0M391.0 260.7h0M391.0 248.9h0M391.5 244.1h0M391.5 247.5h0M391.5 244.7h0M391.5 248.2h0M391.5 246.4h0M391.9 242.2h0M391.9 249.1h0M391.9 242.6h0M391.9 248.0h0M392.4 248.0h0M392.4 247.4h0M393.0 250.0h0M393.0 243.7h0M393.0 252.7h0M393.0 248.2h0M393.0 248.3h0M393.3 253.3h0M393.3 246.1h0M393.3 255.1h0M394.0 246.9h0M394.0 246.1h0M394.0 241.8h0M394.5 248.1h0M394.5 247.9h0M394.5 252.9h0M395.0 245.6h0M395.0 243.7h0M395.0 246.4h0M395.1 249.4h0M395.8 246.0h0M395.8 246.8h0M396.2 251.2h0M396.2 247.3h0M397.2 247.1h0M397.7 243.7h0M397.7 243.5h0M398.4 249.9h0M398.4 245.9h0M399.4 244.9h0M399.4 247.0h0M399.9 242.7h0M399.9 249.2h0M400.3 246.5h0M400.3 242.4h0M400.8 240.2h0M400.8 245.4h0M400.8 245.6h0M401.2 246.2h0M401.6 247.4h0M401.6 246.6h0M402.8 244.2h0M403.2 241.0h0M403.2 239.6h0M403.8 240.1h0M403.8 241.5h0M403.8 239.0h0M404.5 240.2h0M405.5 245.8h0M421.6 258.0h0M422.5 256.8h0M423.5 261.2h0M423.7 257.1h0M424.3 263.5h0M424.3 259.2h0M424.9 260.4h0M425.5 262.3h0M425.5 264.5h0M425.6 263.9h0M426.2 261.4h0M426.8 261.3h0M426.8 265.4h0M426.8 261.5h0M427.5 263.3h0M427.7 263.2h0M428.4 265.1h0M428.7 262.9h0M428.7 266.7h0M429.5 266.1h0M430.2 266.8h0M430.2 267.2h0M431.6 265.1h0M431.6 267.0h0M432.9 263.2h0M433.5 264.4h0M434.0 265.9h0M434.3 262.1h0M434.8 263.8h0M434.8 262.4h0M436.9 266.4h0M437.2 265.0h0M437.6 261.3h0M437.6 259.8h0M437.6 264.2h0M438.2 261.9h0M439.0 263.4h0M439.0 264.7h0M439.8 263.3h0M440.1 264.4h0M441.2 263.0h0M442.4 264.0h0M442.6 263.5h0M443.8 261.4h0M444.1 262.4h0M444.1 263.3h0M444.1 256.6h0M444.1 263.5h0M444.9 252.1h0M444.9 246.2h0M445.1 263.3h0M445.1 248.5h0M445.1 247.7h0M445.9 259.1h0M445.9 244.5h0M445.9 242.0h0M445.9 262.8h0M445.9 249.6h0M445.9 253.3h0M445.9 242.0h0M445.9 241.6h0M446.1 255.7h0M446.1 244.8h0M446.1 255.0h0M446.1 256.4h0M446.7 240.5h0M446.7 238.6h0M446.7 256.8h0M446.7 255.2h0M447.2 237.7h0M447.2 256.5h0M447.2 253.2h0M447.2 259.6h0M447.2 254.2h0M447.2 256.1h0M447.2 252.6h0M447.2 256.9h0M447.2 253.4h0M448.0 238.9h0M448.0 237.8h0M448.0 243.0h0M448.0 242.1h0M448.0 239.5h0M448.1 237.5h0M465.4 274.2h0M465.9 271.3h0M466.3 271.9h0M466.3 270.6h0M466.3 270.3h0M466.9 271.3h0M467.7 274.1h0M469.0 270.7h0M469.9 269.9h0M470.6 266.1h0M470.6 269.9h0M471.1 266.3h0M471.1 265.4h0M471.1 269.6h0M471.7 266.7h0M471.7 268.2h0M471.7 269.2h0M472.7 263.2h0M472.7 266.4h0M473.3 264.7h0M473.3 263.6h0M474.5 260.9h0M474.5 261.2h0M475.0 263.3h0M475.6 262.9h0M477.2 262.5h0M477.9 258.6h0M478.6 261.3h0M525.6 263.3h0M526.4 265.0h0M526.4 264.9h0M526.9 265.5h0M527.3 261.5h0M527.9 259.6h0M527.9 263.6h0M528.1 256.5h0M528.1 264.5h0M528.8 251.6h0M528.8 250.6h0M529.4 257.7h0M529.4 251.9h0M529.4 246.5h0M529.4 249.5h0M529.4 251.0h0M529.4 259.7h0M529.7 253.5h0M529.7 258.0h0M529.7 252.6h0M529.7 257.1h0M530.5 261.8h0M530.5 259.2h0M530.5 262.2h0M530.5 264.1h0M530.5 253.5h0M530.8 258.0h0M530.8 255.9h0M530.8 247.7h0" stroke="#228b8d"/><path d="M142.5 214.5h0M144.9 214.4h0M144.9 214.2h0M145.2 213.1h0M145.2 215.5h0M146.0 212.7h0M146.7 212.9h0M184.0 240.1h0M184.0 241.0h0M184.2 237.8h0M185.6 238.1h0M186.7 238.5h0M187.8 238.3h0M187.8 237.3h0M188.2 236.6h0M188.9 236.8h0M209.2 243.0h0M209.2 243.7h0M211.0 244.4h0M211.3 244.1h0M211.8 244.3h0M211.8 246.5h0M212.2 244.0h0M212.7 244.1h0M212.7 244.2h0M214.3 247.9h0M217.2 247.4h0M218.6 246.6h0M225.7 239.6h0M226.1 238.5h0M226.1 239.4h0M227.1 242.1h0M227.8 236.9h0M227.8 240.8h0M228.4 237.3h0M228.4 239.5h0M228.9 237.1h0M228.9 237.8h0M229.2 237.7h0M230.4 237.2h0M230.4 237.6h0M230.7 235.9h0M231.3 238.7h0M231.6 235.4h0M231.6 236.7h0M236.4 242.8h0M237.3 242.7h0M238.0 245.1h0M238.0 245.4h0M238.5 243.2h0M238.8 243.8h0M238.8 242.4h0M239.1 240.5h0M239.1 240.7h0M239.1 246.4h0M239.7 243.2h0M241.4 244.7h0M242.0 243.4h0M242.3 246.7h0M242.3 245.4h0M243.4 244.7h0M244.1 245.6h0M244.1 246.5h0M245.7 246.6h0M247.2 247.2h0M248.4 248.0h0M248.9 247.7h0M249.8 247.5h0M250.3 247.4h0M307.3 251.0h0M308.0 250.2h0M308.0 251.2h0M309.0 247.8h0M309.1 250.0h0M309.6 271.6h0M309.6 246.9h0M310.5 249.1h0M310.5 272.4h0M310.8 247.0h0M311.2 249.2h0M311.7 247.9h0M312.5 248.6h0M312.5 251.4h0M312.5 246.9h0M312.8 247.5h0M313.1 246.3h0M313.1 252.0h0M313.9 271.0h0M313.9 250.9h0M314.3 249.4h0M314.3 252.2h0M314.9 250.6h0M314.9 266.8h0M314.9 265.5h0M314.9 265.5h0M314.9 249.9h0M315.5 257.8h0M315.5 272.1h0M315.5 257.1h0M315.5 256.9h0M315.5 257.1h0M315.7 250.6h0M315.7 261.4h0M315.7 269.5h0M315.7 254.0h0M315.7 262.5h0M316.1 256.9h0M316.1 248.6h0M316.1 254.9h0M316.1 268.4h0M317.0 268.2h0M317.0 249.8h0M317.0 268.0h0M317.0 258.1h0M317.1 265.9h0M317.1 271.2h0M317.1 250.2h0M318.0 249.8h0M318.0 249.6h0M318.5 259.5h0M318.5 254.9h0M318.5 251.3h0M318.5 255.5h0M319.0 258.0h0M319.0 260.3h0M319.1 253.0h0M320.0 252.8h0M320.0 251.6h0M320.6 252.2h0M320.6 258.1h0M321.1 253.5h0M321.1 253.7h0M321.9 254.5h0M321.9 258.3h0M322.6 256.1h0M378.5 247.7h0M378.6 250.7h0M378.6 248.1h0M379.1 250.1h0M379.7 246.4h0M380.2 249.5h0M380.8 244.9h0M388.7 241.4h0M389.1 241.4h0M391.0 239.6h0M391.9 236.8h0M392.4 237.8h0M392.4 233.8h0M424.3 253.2h0M424.9 253.4h0M424.9 255.0h0M424.9 256.0h0M425.5 256.0h0M425.6 251.3h0M426.2 255.7h0M426.2 250.1h0M426.8 245.3h0M426.8 260.6h0M427.5 255.7h0M427.5 254.9h0M427.5 249.7h0M427.7 255.8h0M427.7 248.9h0M427.7 242.7h0M427.7 250.1h0M428.4 245.4h0M428.4 252.0h0M428.4 257.8h0M428.4 252.9h0M428.7 249.2h0M428.7 258.5h0M428.7 240.9h0M428.7 251.6h0M429.5 260.1h0M429.5 260.2h0M429.5 245.9h0M429.5 253.4h0M429.5 254.9h0M429.6 248.8h0M429.6 261.7h0M429.6 255.8h0M429.6 260.9h0M429.6 256.4h0M429.6 258.5h0M429.6 241.5h0M430.2 254.1h0M430.2 261.3h0M430.2 245.1h0M430.2 247.5h0M430.7 245.6h0M430.7 250.3h0M430.7 259.9h0M431.1 252.3h0M431.1 257.3h0M431.1 245.2h0M431.1 242.2h0M431.6 260.8h0M431.6 260.6h0M432.4 248.7h0M432.4 260.5h0M432.4 259.5h0M432.9 255.5h0M432.9 250.7h0M432.9 261.6h0M433.5 252.0h0M433.5 258.4h0M433.5 262.4h0M433.5 256.1h0M434.0 253.4h0M434.0 260.7h0M434.0 257.7h0M434.3 253.7h0M434.3 257.5h0M434.8 253.9h0M435.5 256.0h0M435.5 258.7h0M435.5 259.5h0M435.8 256.6h0M436.3 258.3h0M436.3 258.0h0M446.1 232.1h0M447.2 231.9h0M448.1 232.0h0M448.1 231.8h0M462.8 241.2h0M463.5 248.0h0M463.5 243.6h0M463.5 238.9h0M463.5 240.6h0M463.5 241.1h0M463.5 251.9h0M463.7 247.0h0M463.7 245.8h0M463.7 251.1h0M464.3 255.9h0M464.3 248.3h0M464.3 260.0h0M464.8 262.1h0M464.8 259.9h0M464.8 247.4h0M464.8 250.5h0M464.8 263.2h0M464.8 261.9h0M465.4 258.2h0M465.4 263.4h0M465.4 267.8h0M465.9 268.5h0M466.3 264.9h0M466.9 264.6h0M467.1 267.6h0M467.1 268.5h0M467.7 264.6h0M467.7 267.9h0M467.7 268.2h0M469.0 265.5h0M469.1 264.4h0M469.1 263.2h0M470.3 262.0h0M470.3 264.0h0M470.3 265.1h0M470.6 263.8h0M472.1 258.0h0M472.7 259.1h0M473.3 258.6h0M473.3 258.4h0M475.0 259.3h0M475.0 256.6h0M475.5 256.5h0M475.5 256.5h0M475.6 256.5h0M476.4 248.2h0M476.4 251.5h0M476.4 250.7h0M476.4 248.9h0M476.4 256.1h0M476.4 251.8h0M476.6 258.5h0M476.6 242.4h0M476.6 254.9h0M477.2 258.5h0M477.2 254.1h0M477.2 257.8h0M477.2 256.3h0M477.9 253.4h0M477.9 242.2h0M477.9 240.0h0M477.9 250.8h0M478.4 236.4h0M478.6 240.5h0M478.6 253.8h0M478.6 245.7h0M479.5 255.6h0M479.5 254.5h0M529.7 244.5h0M530.8 244.8h0" stroke="#21918c"/><path d="M139.8 210.3h0M139.8 211.8h0M144.9 210.4h0M146.0 211.6h0M147.1 209.7h0M184.2 235.5h0M185.3 235.8h0M186.7 234.3h0M188.2 234.2h0M211.3 241.3h0M212.2 241.0h0M212.2 242.9h0M213.5 242.7h0M213.8 243.2h0M213.8 242.5h0M214.3 243.3h0M216.1 245.7h0M217.2 243.2h0M217.2 245.5h0M218.0 243.9h0M218.3 242.9h0M218.6 245.3h0M220.4 243.2h0M222.2 239.8h0M223.0 239.4h0M224.0 240.4h0M225.1 236.6h0M225.1 238.6h0M226.6 233.9h0M226.6 233.9h0M226.6 235.2h0M227.1 233.7h0M227.8 236.0h0M228.4 235.8h0M229.2 235.4h0M229.2 232.6h0M230.7 234.2h0M231.3 235.3h0M239.7 240.0h0M239.7 236.1h0M240.2 238.8h0M240.9 240.5h0M240.9 239.2h0M241.4 239.5h0M241.4 240.6h0M242.0 241.4h0M242.0 239.9h0M242.3 238.5h0M243.0 240.7h0M243.0 240.9h0M243.7 243.4h0M244.1 241.9h0M244.8 244.1h0M244.8 242.0h0M244.8 242.5h0M247.8 243.4h0M248.4 244.8h0M248.9 244.1h0M249.8 246.6h0M249.8 246.6h0M250.8 245.4h0M251.1 244.3h0M251.1 244.5h0M306.7 246.7h0M307.3 244.1h0M308.0 246.5h0M308.4 246.3h0M308.4 245.0h0M309.0 244.2h0M309.0 245.0h0M309.0 242.8h0M309.0 242.9h0M310.5 244.5h0M310.8 241.4h0M311.2 242.1h0M311.7 242.3h0M312.5 243.5h0M312.8 245.3h0M313.1 241.9h0M313.1 244.0h0M313.1 244.9h0M314.3 244.9h0M315.5 244.6h0M315.7 242.6h0M315.7 246.9h0M316.1 244.9h0M316.1 244.5h0M317.0 246.1h0M317.0 248.0h0M317.1 245.4h0M317.1 243.3h0M317.1 245.2h0M317.1 248.0h0M318.0 249.0h0M318.0 247.6h0M318.0 248.0h0M319.1 246.4h0M320.0 247.9h0M320.0 249.6h0M320.5 248.5h0M321.1 250.3h0M321.1 248.6h0M321.9 249.5h0M322.5 251.8h0M322.5 253.1h0M323.9 252.3h0M324.4 252.9h0M324.4 253.7h0M379.1 246.2h0M379.1 244.9h0M379.1 243.6h0M446.7 229.3h0M448.0 227.7h0M462.8 237.4h0M462.8 232.6h0M463.7 234.1h0M464.3 233.3h0M464.3 235.0h0M531.3 241.8h0M531.6 240.2h0" stroke="#1f958b"/><path d="M140.6 208.0h0M141.6 210.0h0M142.5 208.7h0M142.8 208.5h0M143.8 209.8h0M144.5 209.3h0M169.8 204.3h0M169.8 204.3h0M169.8 201.5h0M170.4 202.7h0M171.0 203.3h0M171.0 210.7h0M171.5 203.7h0M171.5 205.2h0M171.5 210.5h0M171.9 211.2h0M172.1 212.5h0M172.1 208.1h0M172.1 207.9h0M172.8 207.3h0M173.5 208.2h0M173.5 206.0h0M173.8 208.7h0M173.8 208.8h0M173.8 205.4h0M173.8 203.7h0M174.4 203.1h0M174.6 207.7h0M174.6 210.4h0M175.1 208.3h0M175.1 203.8h0M175.7 202.6h0M175.7 210.2h0M176.3 205.9h0M177.3 209.8h0M177.8 205.0h0M177.8 204.6h0M177.8 209.1h0M180.9 208.9h0M181.5 208.1h0M181.9 214.3h0M182.2 213.6h0M182.2 215.2h0M182.2 212.8h0M182.6 208.6h0M182.6 213.1h0M182.6 221.2h0M183.3 208.8h0M183.3 232.5h0M183.3 226.5h0M183.3 209.2h0M183.3 216.3h0M183.3 216.6h0M184.0 225.2h0M184.0 212.6h0M184.0 222.2h0M184.0 228.9h0M184.2 231.1h0M184.2 215.0h0M184.2 231.9h0M184.2 231.5h0M184.8 225.2h0M184.8 220.1h0M184.8 227.4h0M184.8 227.0h0M184.8 221.7h0M185.3 230.0h0M185.3 229.8h0M185.6 229.2h0M185.6 226.7h0M186.7 229.9h0M186.7 227.9h0M187.4 229.4h0M187.8 229.8h0M212.7 238.9h0M213.5 240.4h0M213.5 233.5h0M213.5 232.3h0M213.8 233.3h0M213.8 235.4h0M214.3 231.2h0M214.3 233.3h0M214.7 233.7h0M214.7 231.2h0M214.7 234.2h0M214.7 236.7h0M215.4 226.6h0M215.4 233.9h0M215.4 227.4h0M215.4 241.2h0M215.6 226.9h0M215.6 230.1h0M215.6 237.5h0M215.6 227.2h0M216.1 242.7h0M216.1 240.9h0M216.1 242.5h0M216.8 241.7h0M216.8 231.4h0M216.8 228.2h0M216.8 239.0h0M217.2 228.7h0M218.0 240.2h0M218.0 237.3h0M218.3 230.6h0M218.6 238.8h0M218.6 239.8h0M219.4 242.1h0M219.4 242.2h0M219.4 232.1h0M219.7 236.1h0M219.7 238.2h0M219.7 233.6h0M220.4 240.3h0M220.4 236.1h0M220.4 236.5h0M220.7 232.1h0M220.7 231.4h0M221.3 236.8h0M221.3 236.9h0M221.3 235.9h0M221.9 235.6h0M222.2 237.1h0M223.0 231.6h0M223.1 237.7h0M224.9 232.5h0M225.7 231.3h0M225.7 231.9h0M226.1 230.8h0M226.1 233.8h0M227.8 232.2h0M228.9 232.1h0M240.2 234.0h0M240.9 231.0h0M242.0 236.9h0M242.0 226.4h0M242.3 233.2h0M242.3 236.9h0M243.0 226.9h0M243.0 230.8h0M243.4 237.3h0M243.7 239.5h0M243.7 229.6h0M244.1 228.2h0M244.8 227.7h0M244.8 239.9h0M245.3 240.1h0M245.3 230.7h0M245.3 230.3h0M245.3 232.6h0M245.7 240.4h0M245.7 229.8h0M246.2 233.8h0M246.8 229.1h0M246.8 233.0h0M247.2 237.3h0M247.2 239.2h0M247.8 235.3h0M247.8 239.2h0M248.4 231.9h0M248.4 235.1h0M248.4 236.2h0M248.9 237.7h0M249.1 231.3h0M249.1 241.0h0M249.8 239.5h0M250.3 232.7h0M251.1 233.4h0M306.7 241.4h0M307.3 241.0h0M307.3 241.2h0M308.4 240.8h0M309.0 239.6h0M309.6 239.9h0M310.8 240.3h0M310.8 238.6h0M311.2 240.1h0M311.7 238.2h0M312.8 238.3h0M314.9 238.3h0M315.5 237.2h0M316.1 241.9h0M318.0 240.9h0M318.5 244.3h0M319.1 241.2h0M320.0 245.4h0M320.6 243.6h0M321.1 246.1h0M322.5 248.1h0M325.0 251.5h0M326.7 254.4h0M327.6 255.1h0M378.5 239.7h0M378.6 242.6h0M378.6 241.2h0M446.7 225.1h0M448.0 224.2h0M461.7 229.9h0M462.2 229.5h0M464.3 230.1h0M529.7 238.4h0M531.3 238.1h0M531.3 238.4h0" stroke="#1f9a8a"/><path d="M140.5 198.6h0M140.5 200.2h0M140.5 198.2h0M140.5 200.4h0M140.6 198.9h0M141.1 203.6h0M141.1 203.3h0M141.1 194.1h0M141.6 205.3h0M141.6 199.9h0M141.6 197.1h0M141.6 207.2h0M142.5 199.5h0M142.5 195.9h0M142.8 197.6h0M142.8 198.7h0M142.8 202.5h0M142.8 200.1h0M142.8 195.9h0M143.2 198.7h0M143.2 197.0h0M143.2 201.9h0M143.8 204.3h0M144.5 205.6h0M144.9 204.7h0M145.2 205.5h0M145.2 200.5h0M145.2 200.9h0M146.0 197.4h0M146.0 203.6h0M146.1 203.6h0M146.1 199.8h0M146.7 197.6h0M146.7 198.1h0M147.1 205.9h0M147.1 198.3h0M147.1 200.8h0M147.1 203.6h0M147.9 201.8h0M147.9 198.0h0M148.1 198.0h0M171.0 198.2h0M171.5 198.2h0M171.9 200.6h0M172.1 198.2h0M172.8 197.0h0M172.8 196.9h0M173.5 197.1h0M173.5 197.4h0M174.6 199.8h0M174.6 198.1h0M175.7 197.3h0M176.3 200.4h0M176.3 199.2h0M177.0 199.5h0M177.8 202.7h0M177.8 199.4h0M178.5 198.7h0M179.0 200.5h0M179.8 205.0h0M179.8 203.4h0M179.8 200.6h0M180.2 199.1h0M180.9 203.7h0M180.9 201.4h0M181.9 199.5h0M182.2 202.4h0M182.2 207.0h0M182.6 204.7h0M182.6 206.0h0M218.0 226.2h0M218.3 226.8h0M218.3 227.2h0M219.4 226.2h0M219.7 227.4h0M220.7 224.1h0M220.7 223.8h0M221.3 229.4h0M221.9 229.8h0M221.9 227.0h0M221.9 227.7h0M222.2 229.6h0M223.1 229.6h0M224.0 225.3h0M224.5 226.8h0M224.5 228.4h0M224.5 227.1h0M224.5 225.9h0M224.9 226.7h0M224.9 226.4h0M225.1 228.9h0M225.1 227.0h0M226.6 226.2h0M227.1 227.7h0M243.0 224.5h0M243.4 225.5h0M243.4 225.2h0M243.4 219.4h0M243.7 219.3h0M243.7 219.0h0M244.1 222.3h0M245.3 221.1h0M245.7 222.9h0M245.7 225.8h0M246.2 225.4h0M246.2 219.2h0M246.2 225.5h0M246.2 228.3h0M246.8 219.6h0M246.8 224.5h0M246.8 226.8h0M246.8 225.4h0M247.2 227.6h0M247.2 226.7h0M247.2 220.6h0M247.2 227.2h0M247.8 229.6h0M247.8 220.5h0M248.4 224.3h0M248.9 221.4h0M248.9 223.9h0M248.9 223.0h0M249.8 217.1h0M250.3 217.1h0M250.3 225.6h0M250.8 224.0h0M250.8 220.9h0M250.8 222.0h0M250.8 227.9h0M251.1 229.9h0M251.1 226.6h0M251.1 217.3h0M251.1 217.8h0M306.7 235.7h0M307.3 238.4h0M308.0 234.3h0M309.1 236.5h0M317.0 237.3h0M319.0 239.2h0M319.0 237.5h0M319.0 239.1h0M319.1 239.7h0M319.1 239.1h0M320.5 239.2h0M320.5 239.9h0M320.5 237.5h0M320.6 240.8h0M321.9 244.6h0M323.4 246.2h0M323.9 246.6h0M325.9 249.1h0M326.1 250.3h0M327.5 252.8h0M327.6 250.6h0M328.2 253.6h0M328.2 251.6h0M329.2 254.7h0M330.2 253.4h0M376.7 239.1h0M377.4 238.2h0M377.7 239.3h0M378.5 238.8h0M448.1 222.0h0M462.2 227.7h0M462.8 226.7h0M464.3 226.1h0M532.3 235.2h0" stroke="#1f9f88"/><path d="M142.8 194.7h0M143.2 191.0h0M143.8 191.1h0M143.8 193.5h0M143.8 191.1h0M143.8 193.5h0M144.5 192.8h0M144.9 194.7h0M145.2 193.2h0M146.1 193.0h0M146.1 191.1h0M146.1 196.4h0M146.7 192.5h0M147.9 196.1h0M147.9 195.7h0M148.6 192.5h0M169.8 194.9h0M171.0 194.6h0M171.0 196.2h0M172.1 196.4h0M172.8 195.9h0M173.5 196.2h0M174.4 196.2h0M175.1 194.0h0M175.1 193.9h0M175.7 195.0h0M176.3 193.8h0M177.0 196.6h0M177.0 195.0h0M177.8 196.2h0M179.0 194.0h0M179.4 198.0h0M180.2 197.4h0M180.2 194.0h0M180.2 196.6h0M180.9 197.8h0M181.5 194.2h0M181.5 198.0h0M181.9 197.4h0M181.9 196.4h0M221.9 222.0h0M223.1 223.9h0M223.1 221.0h0M224.0 222.9h0M224.5 223.8h0M224.9 223.4h0M249.8 215.0h0M249.8 213.3h0M250.3 211.7h0M250.8 215.0h0M250.8 213.7h0M305.8 235.8h0M306.3 231.6h0M306.3 228.6h0M306.3 228.7h0M306.7 231.8h0M306.7 232.5h0M307.3 230.9h0M308.4 232.3h0M320.5 234.5h0M320.6 233.0h0M321.9 234.8h0M322.5 238.9h0M322.5 232.1h0M322.6 232.9h0M322.6 235.5h0M322.6 241.4h0M322.6 232.2h0M323.4 230.9h0M323.4 241.9h0M323.4 240.9h0M323.4 231.9h0M323.9 238.8h0M323.9 238.9h0M323.9 235.3h0M325.0 242.9h0M325.0 243.0h0M325.2 246.2h0M326.1 245.0h0M326.7 247.3h0M327.6 249.7h0M328.2 249.0h0M329.2 250.7h0M329.6 250.0h0M329.6 251.0h0M330.8 251.9h0M330.8 251.5h0M331.8 250.8h0M368.3 226.0h0M368.3 227.7h0M368.6 221.1h0M369.2 223.9h0M369.2 228.6h0M369.9 219.0h0M369.9 231.2h0M369.9 221.0h0M370.1 227.1h0M370.1 224.0h0M370.1 232.2h0M370.7 227.8h0M370.7 220.6h0M370.7 231.7h0M370.7 217.6h0M371.1 220.4h0M371.8 222.5h0M371.8 221.3h0M371.8 217.0h0M371.8 220.5h0M372.4 229.6h0M372.4 226.1h0M372.4 230.3h0M372.4 221.9h0M372.8 224.0h0M372.8 222.7h0M372.8 219.4h0M372.8 231.2h0M373.4 218.7h0M373.4 220.0h0M373.4 229.1h0M373.4 234.4h0M373.7 232.8h0M373.7 222.3h0M373.7 225.9h0M373.7 226.2h0M374.5 230.0h0M374.5 221.9h0M374.5 217.6h0M374.5 223.2h0M374.9 215.2h0M374.9 226.8h0M374.9 232.4h0M374.9 236.8h0M375.1 218.7h0M375.1 227.9h0M375.1 232.0h0M375.1 225.3h0M375.8 217.1h0M375.8 236.7h0M375.8 215.9h0M375.8 220.3h0M376.5 217.5h0M376.5 221.1h0M376.5 215.8h0M376.5 218.7h0M376.5 231.2h0M376.7 235.5h0M376.7 226.9h0M376.7 219.7h0M376.7 235.4h0M377.4 233.3h0M377.4 228.4h0M377.4 217.4h0M377.4 229.0h0M377.7 222.1h0M377.7 229.2h0M377.7 233.6h0M378.5 232.1h0M447.2 218.3h0M448.1 220.3h0M448.7 217.8h0M449.4 220.6h0M449.4 219.5h0M449.6 219.6h0M462.2 222.8h0M462.8 222.8h0M463.7 223.3h0M530.5 233.5h0M530.5 232.6h0M532.3 233.5h0M532.3 231.1h0M533.0 233.6h0M533.3 233.4h0M533.3 230.9h0M533.3 234.6h0M533.7 231.8h0M534.8 230.4h0M534.8 230.9h0M535.3 229.9h0M536.1 229.6h0M537.3 230.1h0M537.3 229.2h0M538.3 229.3h0M539.5 228.9h0M540.8 220.6h0" stroke="#20a386"/><path d="M146.7 188.8h0M146.7 187.8h0M147.1 188.9h0M148.1 187.9h0M148.1 188.6h0M148.6 190.2h0M170.4 191.9h0M170.4 191.5h0M171.0 189.7h0M171.9 191.9h0M173.8 189.5h0M174.4 190.0h0M174.4 193.0h0M174.4 192.6h0M174.6 192.9h0M175.1 192.4h0M175.7 188.8h0M176.3 189.3h0M177.0 192.6h0M177.0 193.8h0M177.3 191.5h0M179.4 190.0h0M179.4 192.1h0M179.4 191.5h0M179.4 192.3h0M179.8 192.5h0M180.2 188.5h0M180.9 188.2h0M181.5 191.2h0M181.5 188.3h0M181.9 192.9h0M222.2 219.0h0M222.2 216.9h0M223.0 219.6h0M223.0 220.1h0M223.0 219.0h0M223.1 220.0h0M224.0 217.5h0M224.0 217.9h0M224.9 219.4h0M225.1 213.6h0M225.7 217.7h0M225.7 217.5h0M249.8 211.1h0M249.8 210.9h0M250.8 209.8h0M251.1 210.4h0M251.8 210.8h0M286.9 232.7h0M286.9 232.9h0M287.2 235.9h0M287.6 236.3h0M288.7 232.1h0M289.3 236.3h0M289.3 230.2h0M289.3 236.7h0M289.3 232.5h0M289.8 231.2h0M289.8 228.8h0M289.8 238.4h0M290.2 227.2h0M290.6 237.6h0M290.6 232.1h0M291.4 229.2h0M291.4 228.3h0M291.4 235.4h0M291.9 234.2h0M291.9 231.8h0M292.2 229.3h0M292.2 238.0h0M292.2 229.1h0M292.8 226.8h0M293.1 225.3h0M293.1 229.5h0M293.1 236.6h0M293.1 230.3h0M293.9 230.3h0M293.9 229.0h0M293.9 221.5h0M294.2 224.7h0M294.2 229.1h0M302.2 218.6h0M302.6 218.0h0M303.2 217.4h0M303.2 217.9h0M304.4 219.8h0M304.7 220.7h0M305.1 218.5h0M305.8 222.8h0M306.3 222.0h0M324.4 232.2h0M324.4 228.6h0M324.4 237.8h0M325.0 234.2h0M325.0 240.7h0M325.2 233.6h0M325.2 241.8h0M325.2 241.8h0M325.2 233.4h0M325.9 232.0h0M325.9 243.3h0M325.9 232.8h0M325.9 232.5h0M326.1 232.4h0M326.1 239.9h0M326.1 237.2h0M326.7 245.0h0M326.7 241.7h0M326.7 245.1h0M327.5 229.4h0M327.5 229.7h0M327.5 232.2h0M327.5 240.0h0M327.6 246.6h0M327.6 245.1h0M328.2 247.3h0M328.2 233.6h0M328.8 230.9h0M328.8 228.5h0M328.8 245.4h0M328.8 243.0h0M328.8 245.0h0M329.2 244.2h0M329.2 232.8h0M329.2 238.8h0M329.6 244.2h0M329.6 231.7h0M329.6 229.7h0M330.2 230.6h0M330.2 229.0h0M330.2 230.9h0M330.2 235.4h0M330.8 236.2h0M330.8 248.7h0M330.8 242.4h0M331.4 245.1h0M331.4 242.7h0M331.4 234.0h0M331.4 244.3h0M331.4 228.9h0M331.8 229.7h0M331.8 242.9h0M331.8 235.3h0M331.8 235.7h0M331.8 231.6h0M332.4 220.0h0M332.4 241.7h0M332.4 246.2h0M332.4 233.6h0M332.4 222.8h0M332.4 238.0h0M332.7 244.6h0M332.7 242.5h0M332.7 217.3h0M332.7 222.6h0M332.7 226.0h0M332.7 238.9h0M333.2 235.3h0M333.2 218.0h0M333.2 231.1h0M333.2 220.8h0M333.7 214.0h0M333.7 214.3h0M333.7 226.1h0M334.5 217.2h0M334.5 214.3h0M334.5 223.1h0M334.5 215.9h0M335.0 223.3h0M335.0 216.7h0M335.0 218.6h0M335.1 216.4h0M335.1 221.2h0M336.3 216.4h0M336.3 217.0h0M336.3 216.3h0M337.0 217.0h0M338.0 215.4h0M338.1 216.8h0M339.2 216.0h0M340.7 216.9h0M366.1 218.9h0M367.0 221.3h0M367.5 217.0h0M367.5 219.4h0M367.7 220.7h0M368.3 216.0h0M368.6 215.9h0M369.9 215.3h0M370.1 215.7h0M371.1 214.0h0M371.1 216.6h0M371.1 215.3h0M447.2 215.9h0M448.7 216.5h0M449.4 214.9h0M450.1 216.7h0M450.1 216.8h0M460.8 220.9h0M461.5 220.5h0M461.7 222.4h0M530.8 226.0h0M530.8 218.7h0M530.8 220.1h0M530.8 218.9h0M531.3 200.2h0M531.3 202.2h0M531.3 219.7h0M531.3 206.6h0M531.3 205.6h0M531.3 210.5h0M531.3 215.1h0M531.6 219.1h0M531.6 227.2h0M531.6 225.2h0M531.6 221.1h0M531.6 203.0h0M531.6 216.7h0M531.6 225.5h0M531.6 220.2h0M532.3 208.5h0M532.3 221.9h0M532.3 200.6h0M532.3 227.5h0M532.3 199.1h0M533.0 200.8h0M533.0 223.8h0M533.0 221.6h0M533.0 221.0h0M533.0 212.3h0M533.0 216.5h0M533.3 203.4h0M533.3 218.0h0M533.3 213.7h0M533.3 209.2h0M533.7 218.4h0M533.7 196.7h0M533.7 228.5h0M533.7 223.7h0M533.7 204.3h0M533.7 206.0h0M534.3 211.2h0M534.3 220.9h0M534.3 216.8h0M534.3 201.5h0M534.3 227.3h0M534.3 198.6h0M534.8 214.4h0M534.8 200.0h0M534.8 206.6h0M534.8 229.3h0M535.3 205.0h0M535.3 216.5h0M535.3 198.3h0M535.3 199.8h0M535.3 213.4h0M535.6 199.9h0M535.6 215.8h0M535.6 200.4h0M535.6 210.4h0M535.6 199.7h0M535.6 217.0h0M536.1 216.0h0M536.1 225.5h0M536.1 200.1h0M536.1 214.3h0M536.1 225.4h0M536.8 208.8h0M536.8 224.6h0M536.8 212.9h0M536.8 205.3h0M536.8 210.0h0M536.8 213.9h0M537.3 210.5h0M537.3 210.1h0M537.3 209.8h0M537.3 200.0h0M537.8 218.5h0M537.8 198.0h0M537.8 217.6h0M537.8 204.3h0M537.8 226.1h0M537.8 203.3h0M538.3 199.2h0M538.3 220.5h0M538.3 222.7h0M538.3 225.7h0M538.3 205.8h0M538.6 207.8h0M538.6 225.0h0M538.6 223.5h0M538.6 209.3h0M538.6 199.9h0M538.6 208.3h0M539.5 206.6h0M539.5 211.0h0M539.5 213.7h0M539.5 212.4h0M539.5 219.3h0M539.7 201.1h0M539.7 211.6h0M539.7 207.2h0M539.7 211.0h0M539.7 216.8h0M539.7 223.0h0M540.2 198.5h0M540.2 197.7h0M540.2 214.4h0M540.2 217.1h0M540.2 201.2h0M540.8 216.4h0M540.8 207.7h0M540.8 216.8h0M540.8 208.9h0M541.1 203.0h0M541.1 212.5h0M541.1 211.4h0M541.1 199.2h0M541.1 204.4h0M541.7 202.5h0M541.7 205.1h0M541.7 213.6h0M541.7 203.1h0M541.7 205.1h0M541.7 201.9h0M543.0 200.5h0" stroke="#22a884"/><path d="M147.9 182.8h0M147.9 185.4h0M148.1 183.6h0M148.1 182.6h0M148.6 175.7h0M148.6 185.4h0M148.6 177.3h0M148.6 186.4h0M149.3 169.8h0M149.3 174.3h0M149.3 180.3h0M149.3 161.3h0M149.3 182.7h0M149.3 168.7h0M149.6 177.9h0M149.6 182.0h0M149.6 162.8h0M149.6 170.7h0M150.5 164.0h0M150.5 172.7h0M150.5 170.3h0M150.7 166.4h0M151.3 160.1h0M167.2 162.5h0M168.3 176.1h0M168.3 182.8h0M168.3 172.4h0M168.3 174.3h0M168.3 162.4h0M168.9 165.0h0M168.9 164.3h0M168.9 188.1h0M168.9 184.1h0M168.9 165.3h0M168.9 176.7h0M169.1 162.5h0M169.1 165.9h0M169.1 186.3h0M169.1 188.9h0M169.1 163.8h0M169.1 180.7h0M169.1 164.6h0M169.8 185.8h0M169.8 173.2h0M169.8 171.9h0M169.8 162.7h0M170.4 184.8h0M170.4 180.5h0M170.4 181.6h0M170.4 182.6h0M171.5 188.2h0M171.9 188.9h0M171.9 186.7h0M172.8 188.8h0M177.0 188.2h0M177.3 176.9h0M177.3 180.0h0M177.3 183.7h0M177.3 177.6h0M178.5 185.0h0M178.5 185.6h0M178.5 176.2h0M178.5 178.1h0M178.5 187.7h0M179.0 184.7h0M179.0 186.7h0M179.0 181.7h0M179.0 182.8h0M179.4 187.6h0M179.8 181.8h0M179.8 185.5h0M180.2 184.1h0M180.9 181.2h0M250.8 206.0h0M251.8 206.5h0M270.9 205.0h0M272.4 208.4h0M272.7 205.7h0M273.5 212.0h0M273.5 203.5h0M273.5 214.8h0M273.8 207.7h0M273.8 206.0h0M273.8 206.7h0M273.8 205.0h0M274.5 216.4h0M274.5 207.8h0M274.5 218.9h0M274.5 210.7h0M274.7 209.3h0M274.7 203.2h0M274.7 205.1h0M274.7 205.4h0M275.5 211.9h0M275.5 202.8h0M275.5 221.4h0M275.5 218.8h0M275.6 202.8h0M275.6 204.5h0M275.6 209.3h0M275.6 218.8h0M276.5 212.6h0M276.5 203.3h0M276.5 202.0h0M276.5 202.5h0M277.0 221.4h0M277.0 218.6h0M277.0 203.3h0M277.0 220.2h0M277.1 207.1h0M277.1 210.0h0M277.1 216.2h0M277.1 212.3h0M277.9 207.4h0M277.9 217.7h0M277.9 208.5h0M277.9 205.4h0M277.9 215.3h0M278.5 222.9h0M278.5 222.4h0M278.5 225.6h0M278.5 219.8h0M278.5 204.0h0M278.6 218.3h0M278.6 210.5h0M278.6 225.5h0M278.6 217.9h0M278.6 211.8h0M279.1 226.7h0M279.1 230.2h0M279.1 212.9h0M279.1 207.9h0M279.1 212.7h0M279.6 209.5h0M279.6 222.1h0M279.6 220.6h0M279.6 219.1h0M279.6 230.0h0M280.1 224.8h0M280.1 227.1h0M280.1 215.9h0M280.1 214.9h0M280.1 227.4h0M281.0 231.1h0M281.0 206.8h0M281.0 215.9h0M281.0 228.5h0M281.0 209.8h0M281.5 212.3h0M281.5 210.7h0M281.5 218.1h0M281.5 228.1h0M281.5 222.6h0M282.0 228.3h0M282.0 211.2h0M282.0 218.0h0M282.0 204.9h0M282.0 211.4h0M282.4 225.5h0M282.4 214.8h0M282.4 213.8h0M282.4 204.2h0M282.4 208.2h0M282.8 206.8h0M282.8 225.3h0M282.8 230.3h0M282.8 218.7h0M283.5 205.7h0M283.5 205.7h0M283.5 216.4h0M283.5 229.2h0M283.5 213.4h0M283.6 228.1h0M283.6 220.8h0M283.6 217.5h0M283.6 229.2h0M283.6 208.3h0M283.6 228.0h0M284.3 223.6h0M284.3 205.3h0M284.3 222.3h0M284.3 222.0h0M285.0 230.6h0M285.0 225.2h0M285.0 217.8h0M285.2 204.0h0M285.2 215.8h0M285.2 208.4h0M285.2 219.0h0M285.2 206.4h0M285.2 228.0h0M286.0 203.8h0M286.0 215.0h0M286.0 218.8h0M286.0 210.9h0M286.0 219.3h0M286.0 214.8h0M286.3 229.1h0M286.3 225.2h0M286.3 214.7h0M286.3 226.4h0M286.3 229.9h0M286.3 203.9h0M286.9 206.1h0M286.9 209.2h0M286.9 222.4h0M286.9 218.1h0M287.2 228.9h0M287.2 221.8h0M287.2 216.6h0M287.2 209.0h0M287.6 231.6h0M287.6 230.9h0M287.6 228.2h0M287.6 219.5h0M288.3 214.3h0M288.3 226.1h0M288.3 227.2h0M288.3 225.7h0M288.3 223.2h0M288.7 219.4h0M288.7 214.2h0M288.7 215.7h0M288.7 219.4h0M289.3 226.2h0M289.8 225.1h0M289.8 221.9h0M290.2 217.7h0M290.2 226.2h0M290.2 226.4h0M290.2 218.4h0M290.6 225.5h0M290.6 215.5h0M290.6 215.5h0M291.4 223.2h0M291.4 224.3h0M291.9 223.1h0M291.9 222.6h0M291.9 217.7h0M292.2 221.9h0M292.2 214.7h0M292.8 219.1h0M292.8 214.0h0M292.8 220.7h0M292.8 213.8h0M293.1 216.2h0M293.9 207.5h0M293.9 217.5h0M294.2 207.1h0M294.2 208.0h0M294.2 208.7h0M295.0 218.3h0M295.0 210.2h0M295.0 219.0h0M295.0 207.0h0M295.5 210.2h0M296.0 216.0h0M296.0 209.2h0M296.0 213.8h0M296.3 213.5h0M296.3 214.8h0M296.3 208.8h0M296.3 207.7h0M297.0 214.7h0M297.0 217.2h0M297.2 213.9h0M297.8 208.5h0M297.8 211.0h0M297.8 208.3h0M298.1 208.5h0M298.1 213.7h0M298.7 208.0h0M298.7 215.9h0M298.7 213.0h0M298.7 212.2h0M299.3 214.3h0M299.7 209.8h0M299.7 211.7h0M300.2 212.2h0M300.2 214.7h0M300.2 212.0h0M300.8 216.1h0M301.2 210.8h0M301.2 215.5h0M301.8 212.1h0M301.8 209.5h0M301.8 214.8h0M302.2 209.2h0M302.2 214.6h0M302.6 210.2h0M303.2 215.7h0M303.9 208.9h0M303.9 214.5h0M304.4 209.5h0M304.4 210.8h0M304.7 215.8h0M304.7 215.1h0M305.1 213.3h0M305.1 211.7h0M305.8 214.2h0M305.8 215.8h0M333.2 212.2h0M333.2 211.9h0M333.7 209.7h0M333.7 207.0h0M333.7 212.2h0M333.7 204.7h0M334.5 210.1h0M335.0 205.7h0M335.1 209.0h0M335.1 211.2h0M335.9 205.2h0M335.9 213.6h0M335.9 206.4h0M336.3 209.3h0M337.2 212.4h0M337.2 207.4h0M337.2 207.3h0M338.0 206.7h0M338.1 206.6h0M338.1 212.0h0M338.1 212.5h0M339.0 210.3h0M339.0 214.9h0M339.2 208.3h0M339.2 214.5h0M339.2 208.1h0M339.6 210.0h0M339.6 215.1h0M340.7 211.6h0M340.7 208.4h0M340.7 208.2h0M340.7 213.5h0M340.7 211.6h0M340.7 210.5h0M342.0 215.8h0M342.0 209.2h0M342.0 213.0h0M342.0 211.8h0M342.2 212.1h0M342.6 213.3h0M342.6 213.7h0M343.4 215.5h0M343.7 210.2h0M344.5 210.7h0M344.5 209.9h0M344.5 211.4h0M344.5 216.6h0M344.7 212.7h0M344.7 214.7h0M345.1 210.4h0M345.1 210.9h0M365.0 213.7h0M367.5 215.0h0M368.3 213.9h0M368.6 214.6h0M368.6 213.9h0M369.2 212.5h0M369.2 213.3h0M448.1 209.1h0M448.7 212.4h0M448.7 212.3h0M448.7 213.8h0M449.6 212.7h0M450.1 213.5h0M460.8 219.6h0M462.2 219.8h0M462.2 218.7h0M540.2 194.1h0M542.3 195.6h0M542.3 193.0h0" stroke="#26ad81"/><path d="M149.6 155.7h0M150.7 156.0h0M167.2 157.1h0M168.0 157.9h0M168.0 158.9h0M168.9 155.8h0M249.8 204.0h0M250.8 202.9h0M251.1 204.1h0M270.4 200.2h0M271.3 199.9h0M272.0 201.4h0M272.4 202.0h0M272.4 201.0h0M272.7 200.3h0M282.8 202.3h0M283.5 201.1h0M284.3 202.9h0M284.3 201.0h0M285.0 202.2h0M285.0 200.2h0M285.0 200.5h0M295.0 201.2h0M295.0 199.2h0M295.5 204.4h0M295.5 206.6h0M295.5 205.9h0M296.0 199.5h0M296.3 200.4h0M297.0 202.8h0M297.0 203.2h0M297.0 201.9h0M297.2 205.1h0M297.2 203.7h0M297.2 198.2h0M297.8 204.1h0M297.8 205.6h0M298.1 206.3h0M298.1 201.7h0M298.1 206.0h0M299.3 206.3h0M299.3 199.7h0M299.3 202.4h0M299.7 203.4h0M300.8 201.1h0M301.8 202.6h0M301.8 206.4h0M302.2 207.9h0M302.6 208.1h0M302.6 206.3h0M303.9 203.7h0M304.4 201.4h0M304.7 206.3h0M305.1 201.5h0M305.1 202.1h0M335.1 197.4h0M335.1 199.2h0M335.9 200.0h0M335.9 199.7h0M335.9 201.2h0M336.3 201.7h0M336.3 202.4h0M336.3 202.7h0M337.0 203.6h0M337.0 199.3h0M337.2 199.9h0M337.2 199.0h0M337.2 203.0h0M338.0 200.4h0M338.0 201.3h0M338.0 199.5h0M338.1 202.5h0M339.0 202.4h0M339.2 205.4h0M339.6 202.6h0M340.3 201.7h0M340.3 203.4h0M340.3 206.2h0M341.3 206.8h0M341.3 203.1h0M342.0 199.7h0M342.0 202.3h0M342.6 205.7h0M343.4 204.8h0M344.5 203.5h0M344.7 206.4h0M344.7 201.3h0M345.1 202.7h0M345.9 200.7h0M345.9 208.8h0M346.4 201.1h0M365.0 205.0h0M365.0 209.6h0M365.0 201.4h0M365.1 207.6h0M365.1 202.6h0M365.9 196.9h0M365.9 196.0h0M366.1 206.8h0M366.1 204.0h0M366.1 208.0h0M366.1 198.1h0M367.0 203.2h0M367.5 197.3h0M367.5 206.8h0M367.5 197.1h0M367.5 207.4h0M367.5 200.3h0M367.7 210.5h0M367.7 210.0h0M367.7 209.0h0M448.0 192.4h0M448.1 196.8h0M448.1 193.7h0M448.1 202.4h0M448.1 194.9h0M448.7 196.9h0M448.7 194.5h0M448.7 202.6h0M448.7 196.4h0M448.7 199.1h0M449.4 195.6h0M449.6 195.8h0M450.1 197.8h0M450.1 199.1h0M450.1 205.7h0M450.7 198.6h0M460.8 216.2h0M462.8 215.8h0M463.5 215.9h0M463.7 215.5h0M463.7 216.0h0M540.8 190.4h0M542.3 191.1h0M543.0 190.9h0M543.2 189.9h0M544.0 190.0h0" stroke="#2cb17e"/><path d="M149.3 151.1h0M150.5 154.4h0M150.5 152.1h0M151.3 151.6h0M166.9 153.0h0M167.2 151.2h0M168.0 151.8h0M168.0 151.0h0M169.1 153.5h0M249.8 197.3h0M250.3 199.1h0M250.3 197.2h0M251.1 196.7h0M251.1 197.8h0M251.1 199.7h0M251.1 197.6h0M252.4 200.5h0M252.4 200.0h0M252.8 196.8h0M269.0 193.4h0M269.0 193.6h0M269.0 186.1h0M269.4 195.3h0M269.4 190.6h0M269.4 191.6h0M269.7 194.7h0M269.7 190.9h0M270.4 186.5h0M270.4 186.6h0M270.9 186.9h0M270.9 190.9h0M270.9 185.6h0M271.3 196.6h0M271.3 189.3h0M271.3 186.8h0M272.0 196.1h0M272.0 193.9h0M272.0 192.9h0M272.4 192.0h0M272.7 197.9h0M272.7 194.2h0M273.5 196.6h0M295.5 194.8h0M296.0 196.7h0M297.2 194.8h0M298.7 196.2h0M299.3 194.2h0M299.7 195.0h0M299.7 198.5h0M300.2 193.4h0M300.2 194.2h0M300.8 191.5h0M300.8 186.8h0M300.8 189.2h0M300.8 200.1h0M301.2 191.3h0M301.2 197.9h0M301.2 198.9h0M301.2 189.2h0M301.2 185.6h0M301.8 185.0h0M301.8 193.3h0M302.2 189.3h0M302.2 191.3h0M302.2 183.7h0M302.6 197.7h0M302.6 186.2h0M302.6 181.4h0M303.2 190.5h0M303.2 194.6h0M303.2 197.5h0M303.2 198.9h0M303.9 182.4h0M303.9 198.3h0M303.9 195.4h0M303.9 185.5h0M304.4 191.5h0M304.4 192.0h0M304.7 198.6h0M304.7 190.4h0M335.0 190.8h0M335.9 195.1h0M336.3 192.1h0M337.2 195.5h0M337.2 194.7h0M338.0 193.3h0M338.1 192.8h0M338.1 192.5h0M338.1 192.0h0M339.0 195.3h0M339.2 198.4h0M339.2 197.2h0M339.2 197.5h0M339.2 195.6h0M339.6 192.8h0M341.3 192.2h0M342.0 195.9h0M342.2 192.9h0M343.4 195.3h0M343.4 199.3h0M343.4 194.8h0M343.4 198.2h0M343.7 193.8h0M343.7 192.7h0M344.7 196.8h0M345.1 194.3h0M345.1 192.8h0M345.1 199.4h0M345.1 199.3h0M345.9 193.5h0M345.9 194.7h0M345.9 196.1h0M345.9 194.6h0M346.4 193.2h0M365.0 187.3h0M365.1 186.7h0M365.1 192.6h0M365.1 191.5h0M365.9 190.9h0M366.1 192.3h0M366.1 186.8h0M366.1 192.5h0M367.0 193.7h0M367.0 184.3h0M367.0 185.7h0M367.5 189.4h0M448.0 185.3h0M448.0 180.4h0M448.0 185.5h0M448.1 179.7h0M448.7 190.3h0M449.4 191.0h0M449.4 192.0h0M449.4 178.9h0M449.4 174.6h0M449.6 187.7h0M449.6 182.0h0M449.6 179.0h0M449.6 185.0h0M449.6 180.1h0M449.6 179.7h0M450.1 184.9h0M450.1 186.2h0M450.1 175.2h0M450.7 174.0h0M451.1 176.8h0M451.1 186.1h0M451.1 188.5h0M459.3 200.9h0M459.3 199.6h0M459.3 192.1h0M459.3 195.5h0M459.3 182.0h0M459.3 180.4h0M459.3 191.5h0M459.7 187.5h0M459.7 189.4h0M459.7 190.8h0M459.7 193.4h0M459.7 199.8h0M460.1 208.5h0M460.1 185.7h0M460.1 195.8h0M460.1 190.8h0M460.1 185.9h0M460.8 193.9h0M460.8 191.3h0M460.8 198.8h0M460.8 207.7h0M460.8 190.6h0M461.5 209.2h0M461.5 188.3h0M461.5 203.8h0M461.5 190.1h0M461.5 182.6h0M461.5 187.1h0M461.5 202.5h0M461.5 192.0h0M461.7 206.2h0M461.7 197.3h0M461.7 195.0h0M461.7 212.6h0M461.7 183.8h0M461.7 206.5h0M462.2 209.5h0M462.2 196.9h0M462.2 198.2h0M462.2 184.1h0M462.2 205.3h0M462.2 203.3h0M462.8 201.7h0M462.8 199.6h0M462.8 205.3h0M463.5 208.2h0M463.5 208.7h0M463.7 212.9h0M463.7 211.7h0M541.1 186.7h0M541.7 185.0h0M542.3 186.1h0M544.0 188.8h0M545.2 188.2h0" stroke="#32b67a"/><path d="M149.6 149.8h0M151.3 150.1h0M166.9 149.9h0M168.0 149.2h0M168.3 150.4h0M168.3 149.5h0M249.8 194.9h0M250.3 194.1h0M250.3 193.9h0M250.3 191.9h0M250.8 187.0h0M251.8 195.1h0M251.8 190.9h0M251.8 190.7h0M251.8 185.8h0M252.4 185.7h0M252.4 191.8h0M252.8 194.3h0M253.1 195.7h0M267.4 184.2h0M267.6 184.5h0M268.1 185.4h0M269.4 183.3h0M269.7 183.2h0M270.4 184.6h0M334.5 188.8h0M334.5 187.6h0M334.5 184.8h0M335.1 187.2h0M335.1 188.8h0M335.1 190.3h0M335.9 185.5h0M335.9 186.8h0M336.3 185.4h0M337.0 186.4h0M339.0 187.5h0M339.0 189.9h0M339.2 185.5h0M339.2 191.3h0M339.6 187.7h0M340.3 189.7h0M340.3 186.3h0M340.3 186.2h0M341.3 187.4h0M342.0 187.1h0M342.2 188.7h0M342.2 185.4h0M342.6 186.4h0M343.4 192.0h0M343.4 191.9h0M344.5 189.1h0M344.7 188.9h0M344.7 188.6h0M345.1 188.3h0M346.4 188.3h0M365.0 183.0h0M365.0 180.8h0M365.9 183.1h0M366.1 181.8h0M448.7 170.8h0M449.4 172.4h0M450.1 170.8h0M450.7 172.2h0M451.1 171.7h0M451.6 171.8h0M459.7 178.8h0M459.7 178.6h0M460.8 177.7h0M460.8 177.3h0M461.5 174.6h0M461.5 178.9h0M461.7 176.7h0M462.2 179.3h0M542.3 183.0h0M543.0 183.8h0M543.2 182.1h0M543.2 182.4h0M544.7 182.9h0" stroke="#3bbb75"/><path d="M149.6 143.4h0M150.7 142.8h0M151.3 145.3h0M151.8 143.9h0M151.8 145.4h0M151.8 146.9h0M166.9 146.0h0M166.9 146.7h0M168.3 144.8h0M168.9 143.1h0M168.9 141.5h0M169.1 145.5h0M249.8 177.9h0M250.3 172.2h0M250.3 166.8h0M250.3 166.0h0M250.3 181.5h0M250.3 168.9h0M250.3 179.1h0M250.3 173.8h0M250.8 178.0h0M250.8 177.1h0M250.8 182.5h0M251.1 169.6h0M251.1 169.4h0M251.1 182.2h0M251.1 176.6h0M251.8 166.3h0M251.8 180.2h0M252.4 176.4h0M252.4 180.9h0M252.4 172.8h0M252.4 183.6h0M252.8 184.7h0M252.8 167.5h0M252.8 176.7h0M253.1 172.6h0M253.1 171.1h0M253.1 168.8h0M269.7 181.9h0M270.4 181.6h0M335.0 183.5h0M335.1 183.8h0M337.0 180.0h0M337.0 181.7h0M337.0 180.0h0M337.0 178.9h0M337.2 179.1h0M337.2 178.6h0M338.0 180.5h0M338.0 179.4h0M338.1 184.0h0M339.2 181.2h0M339.6 184.1h0M341.3 179.7h0M341.3 184.2h0M342.0 182.6h0M342.0 179.4h0M342.6 179.3h0M342.6 185.2h0M343.7 185.2h0M344.5 184.5h0M346.4 181.7h0M346.4 179.6h0M366.1 179.5h0M367.0 178.3h0M450.1 168.3h0M450.7 168.9h0M451.1 168.9h0M451.6 167.2h0M459.7 171.5h0M460.1 172.6h0M460.1 172.9h0M460.8 170.8h0M461.5 171.2h0M542.3 179.4h0M543.0 181.0h0M543.2 180.2h0M543.2 177.9h0M544.0 179.9h0M544.0 179.7h0M544.7 178.9h0M545.2 180.9h0M546.1 178.4h0" stroke="#44bf70"/><path d="M149.6 140.5h0M150.5 140.9h0M150.5 120.3h0M150.5 128.5h0M150.5 126.5h0M150.5 128.5h0M150.7 135.1h0M150.7 118.1h0M150.7 133.8h0M150.7 133.1h0M150.7 129.0h0M150.7 122.5h0M150.7 130.2h0M151.3 130.0h0M151.3 126.6h0M151.3 133.4h0M151.8 130.5h0M151.8 123.1h0M151.8 122.3h0M151.8 132.8h0M151.8 135.5h0M152.3 139.1h0M152.3 138.0h0M152.3 138.5h0M152.3 128.8h0M152.7 121.2h0M152.7 128.0h0M152.7 131.7h0M152.7 131.9h0M152.7 132.3h0M165.7 116.7h0M165.7 122.6h0M165.7 128.7h0M166.1 115.7h0M166.1 116.5h0M166.1 121.7h0M166.1 116.6h0M166.1 130.0h0M166.9 116.7h0M166.9 138.0h0M166.9 121.6h0M166.9 133.1h0M166.9 135.0h0M166.9 140.1h0M167.2 123.2h0M167.2 141.5h0M167.2 121.3h0M167.2 132.2h0M167.2 113.2h0M167.2 125.1h0M167.2 139.9h0M168.0 130.7h0M168.0 130.1h0M168.0 120.3h0M168.0 127.1h0M168.0 125.5h0M168.0 120.3h0M168.3 133.2h0M168.3 139.8h0M250.3 164.4h0M251.8 165.7h0M251.8 165.8h0M251.8 165.5h0M252.8 166.5h0M253.1 165.5h0M253.1 164.7h0M253.1 167.0h0M269.7 179.9h0M335.0 173.4h0M335.0 171.4h0M335.9 174.7h0M337.0 174.7h0M337.2 176.9h0M338.0 172.7h0M338.0 172.9h0M338.0 172.6h0M338.1 176.1h0M339.0 173.5h0M339.2 174.9h0M339.6 172.8h0M340.3 175.0h0M340.3 171.8h0M340.3 172.9h0M340.7 175.8h0M341.3 176.5h0M341.3 175.6h0M341.3 176.5h0M342.6 148.6h0M342.6 149.4h0M343.4 152.2h0M343.4 172.1h0M343.4 171.3h0M343.7 152.2h0M343.7 176.1h0M343.7 170.0h0M343.7 150.5h0M343.7 173.7h0M343.7 160.4h0M344.5 147.6h0M344.5 145.8h0M344.5 159.8h0M344.5 170.5h0M344.5 178.1h0M344.7 152.2h0M344.7 150.0h0M344.7 147.4h0M344.7 147.4h0M345.1 153.2h0M345.9 170.6h0M345.9 172.1h0M345.9 161.4h0M345.9 160.6h0M345.9 160.0h0M345.9 177.8h0M346.4 152.4h0M346.4 144.7h0M346.4 173.9h0M346.4 160.1h0M346.4 153.9h0M346.4 152.0h0M346.9 148.5h0M346.9 163.7h0M346.9 158.8h0M346.9 155.1h0M346.9 151.6h0M346.9 165.5h0M346.9 176.3h0M346.9 153.2h0M347.2 156.0h0M347.2 160.8h0M347.2 161.8h0M347.2 152.0h0M347.2 161.7h0M365.9 176.6h0M366.1 175.3h0M367.0 173.8h0M449.4 162.3h0M449.4 163.3h0M449.6 164.2h0M450.1 162.0h0M460.1 168.2h0M460.1 168.8h0M460.8 168.7h0M461.5 170.4h0M461.7 169.8h0M542.3 173.3h0M543.0 175.7h0M543.0 174.2h0M544.7 174.1h0M545.2 172.9h0M545.9 177.0h0M546.1 176.9h0" stroke="#4ec36b"/><path d="M152.3 113.4h0M152.7 115.9h0M153.2 115.7h0M165.4 108.6h0M165.4 108.1h0M165.7 105.8h0M165.7 106.5h0M166.1 110.9h0M166.9 111.1h0M166.9 108.8h0M167.2 106.4h0M167.2 108.5h0M250.3 152.8h0M250.8 150.5h0M251.1 156.3h0M251.8 137.1h0M251.8 130.1h0M252.4 127.4h0M252.4 157.0h0M252.4 132.0h0M252.8 124.9h0M252.8 132.3h0M252.8 130.7h0M253.1 131.7h0M253.1 129.0h0M253.1 161.8h0M266.8 176.6h0M266.8 168.8h0M266.8 174.1h0M266.8 170.5h0M267.4 169.9h0M267.4 175.7h0M267.6 178.5h0M267.6 179.8h0M268.1 171.1h0M268.1 170.6h0M269.0 169.2h0M269.0 179.4h0M269.0 176.0h0M269.4 173.4h0M335.0 168.0h0M335.0 167.1h0M335.9 166.3h0M336.3 163.5h0M337.0 163.3h0M337.2 161.8h0M337.2 168.6h0M338.0 167.9h0M338.1 165.7h0M339.0 166.7h0M339.0 169.0h0M339.0 161.4h0M339.2 165.4h0M339.6 155.5h0M339.6 163.4h0M339.6 168.4h0M339.6 156.4h0M339.6 157.9h0M340.3 154.5h0M340.3 153.3h0M340.7 167.8h0M340.7 155.0h0M340.7 152.4h0M340.7 157.0h0M341.3 166.3h0M341.3 159.5h0M341.3 162.3h0M342.0 146.8h0M342.0 156.5h0M342.0 159.5h0M342.0 168.6h0M342.2 156.9h0M342.2 162.4h0M342.2 158.0h0M342.2 157.3h0M342.2 166.1h0M342.2 147.3h0M342.6 145.4h0M342.6 165.1h0M342.6 145.6h0M343.4 162.3h0M343.4 160.6h0M343.7 145.9h0M344.7 142.3h0M344.7 142.7h0M345.1 142.3h0M345.9 141.1h0M364.0 152.3h0M364.0 142.3h0M364.0 150.3h0M364.2 142.3h0M364.2 161.5h0M364.2 141.2h0M364.2 147.2h0M364.2 140.8h0M365.0 153.6h0M365.0 141.0h0M365.0 166.8h0M365.0 171.8h0M365.0 167.6h0M365.0 166.3h0M365.1 173.7h0M365.1 170.1h0M365.1 173.3h0M365.1 162.6h0M365.1 150.2h0M365.1 165.2h0M365.1 168.2h0M365.1 154.8h0M365.9 148.7h0M365.9 144.2h0M365.9 168.0h0M365.9 150.5h0M365.9 142.9h0M365.9 171.3h0M366.1 154.8h0M366.1 144.7h0M366.1 160.9h0M366.1 148.2h0M367.0 172.4h0M367.0 165.1h0M367.0 160.6h0M367.0 158.3h0M367.0 171.6h0M367.0 160.4h0M367.5 170.7h0M449.4 154.4h0M449.4 153.4h0M449.6 157.6h0M450.7 160.9h0M450.7 154.1h0M450.7 159.2h0M452.5 155.7h0M452.8 154.2h0M459.3 158.3h0M459.7 161.3h0M459.7 155.7h0M460.1 163.7h0M460.1 162.8h0M460.8 164.2h0M460.8 164.0h0M460.8 156.6h0M461.5 161.7h0M461.5 157.6h0M461.7 157.4h0M461.7 165.1h0M543.0 162.0h0M543.0 168.0h0M543.2 166.0h0M543.2 159.1h0M543.2 167.7h0M544.0 153.2h0M544.0 171.1h0M544.4 151.1h0M544.4 168.5h0M544.4 163.6h0M544.4 168.2h0M544.4 161.3h0M544.4 160.8h0M544.4 151.1h0M544.7 156.7h0M544.7 157.6h0M544.7 163.6h0M544.7 156.2h0M544.7 170.4h0M545.2 160.7h0M545.2 171.4h0M545.2 160.9h0M545.2 172.3h0M545.9 158.2h0M545.9 171.3h0M545.9 169.9h0M545.9 158.6h0M545.9 169.7h0M546.1 165.3h0M546.6 163.5h0M546.6 162.6h0M546.6 157.9h0M547.3 161.5h0M547.6 155.4h0M547.6 156.1h0M547.6 153.2h0" stroke="#58c765"/><path d="M151.3 109.5h0M151.3 107.2h0M151.3 107.2h0M151.8 110.4h0M151.8 108.1h0M152.3 112.0h0M152.3 104.9h0M152.3 98.3h0M152.3 105.0h0M152.7 95.5h0M152.7 98.8h0M153.2 107.7h0M153.2 96.0h0M153.2 111.6h0M153.6 95.6h0M153.6 103.8h0M153.6 108.1h0M153.6 100.1h0M164.6 98.0h0M165.4 102.0h0M165.7 98.9h0M166.1 99.9h0M166.1 97.9h0M166.1 103.5h0M166.9 96.7h0M250.8 142.3h0M250.8 142.3h0M251.1 145.7h0M251.1 146.1h0M251.8 142.4h0M251.8 151.0h0M252.4 137.5h0M252.4 118.7h0M252.4 142.8h0M252.4 149.5h0M252.8 116.2h0M252.8 142.7h0M252.8 146.5h0M252.8 119.6h0M252.8 116.1h0M252.8 121.3h0M252.8 138.5h0M253.1 116.9h0M253.1 117.6h0M253.1 138.7h0M253.1 123.8h0M254.0 116.5h0M254.0 142.0h0M254.0 132.6h0M254.0 116.7h0M254.0 132.8h0M254.1 141.0h0M254.1 116.4h0M254.7 119.2h0M254.7 123.6h0M254.7 122.1h0M255.2 117.7h0M265.6 167.2h0M267.6 167.1h0M267.6 165.6h0M268.1 166.3h0M268.1 165.8h0M335.0 162.3h0M335.1 161.5h0M336.3 158.0h0M336.3 156.5h0M336.3 157.3h0M336.3 158.4h0M337.0 156.2h0M337.2 156.6h0M338.0 157.9h0M338.1 157.5h0M340.3 150.1h0M340.3 150.4h0M342.2 145.0h0M344.7 141.9h0M345.1 140.6h0M346.4 137.8h0M346.9 137.8h0M347.2 138.7h0M364.0 139.7h0M364.2 137.7h0M365.0 132.0h0M365.0 138.1h0M365.1 139.0h0M365.1 138.3h0M365.1 135.0h0M365.9 132.4h0M366.1 140.1h0M449.6 147.6h0M449.6 147.3h0M450.1 151.2h0M450.1 138.0h0M450.7 147.6h0M450.7 132.3h0M450.7 142.7h0M450.7 151.6h0M450.7 136.3h0M450.7 135.5h0M451.1 143.4h0M451.1 123.4h0M451.1 134.7h0M451.1 125.9h0M451.1 132.4h0M451.1 140.2h0M451.1 126.9h0M451.6 148.6h0M451.6 136.0h0M451.6 121.3h0M451.6 121.5h0M451.6 131.5h0M451.6 144.9h0M451.6 136.3h0M451.6 132.4h0M452.5 142.9h0M452.5 144.6h0M452.5 130.3h0M452.5 150.8h0M452.5 149.9h0M452.8 129.4h0M452.8 144.4h0M452.8 142.2h0M452.8 124.4h0M452.8 126.3h0M453.3 129.7h0M453.3 146.1h0M453.3 151.0h0M453.3 129.4h0M453.6 131.7h0M453.6 127.5h0M453.6 140.4h0M453.6 122.8h0M454.3 123.4h0M454.3 144.8h0M454.3 149.0h0M454.3 122.4h0M454.3 122.3h0M454.6 149.6h0M454.6 147.8h0M454.6 128.4h0M454.6 145.6h0M455.1 142.9h0M455.1 143.6h0M455.7 150.0h0M455.7 145.7h0M456.3 147.5h0M456.3 149.9h0M456.3 149.7h0M456.3 145.9h0M456.8 143.6h0M456.8 140.3h0M457.1 149.1h0M457.1 149.9h0M457.9 140.2h0M457.9 148.4h0M457.9 149.2h0M457.9 140.9h0M457.9 152.5h0M458.4 143.0h0M458.4 151.7h0M458.6 153.7h0M459.3 153.8h0M459.3 145.2h0M459.3 150.4h0M459.3 150.0h0M459.7 148.8h0M459.7 148.2h0M460.1 152.9h0M461.7 149.5h0M461.7 150.1h0M461.7 152.9h0M544.0 147.3h0M544.0 150.0h0M544.0 146.0h0M544.4 145.6h0M544.4 144.2h0M544.4 139.4h0M544.7 142.9h0M544.7 146.9h0M544.7 131.8h0M545.2 150.0h0M545.2 149.7h0M545.2 131.6h0M545.9 132.8h0M545.9 142.3h0M545.9 134.7h0M545.9 150.4h0M546.1 151.4h0M546.1 146.4h0M546.1 146.5h0M546.1 132.4h0M546.1 133.2h0M546.1 145.0h0M546.6 135.1h0M546.6 150.8h0M546.6 141.1h0M546.6 144.6h0M546.6 150.5h0M547.3 148.0h0M547.3 149.5h0M547.3 138.0h0M547.3 140.5h0M547.6 136.2h0M547.6 143.0h0M548.3 150.5h0M548.3 145.8h0M548.8 137.0h0M548.8 136.4h0M548.8 138.9h0M549.2 135.4h0M549.2 135.8h0M549.7 137.2h0M550.1 137.4h0M550.7 134.5h0M550.7 135.8h0" stroke="#63cb5f"/><path d="M153.2 95.3h0M153.2 90.0h0M153.2 86.5h0M153.6 91.0h0M154.5 94.4h0M154.5 92.3h0M154.5 93.0h0M154.5 89.2h0M154.7 88.9h0M154.7 92.1h0M154.7 85.1h0M154.7 86.6h0M155.4 87.4h0M155.4 86.4h0M155.4 88.0h0M155.4 95.9h0M155.4 91.3h0M155.9 95.3h0M155.9 95.6h0M155.9 91.9h0M156.3 85.5h0M156.3 91.4h0M156.8 90.0h0M157.5 88.4h0M157.5 90.1h0M157.5 93.3h0M157.6 88.6h0M158.1 93.8h0M158.7 87.9h0M159.2 87.0h0M159.2 91.5h0M159.2 94.5h0M159.2 95.5h0M159.7 93.2h0M159.7 95.1h0M161.9 89.1h0M163.0 95.8h0M163.0 92.1h0M163.9 92.4h0M164.1 94.8h0M164.6 91.3h0M164.6 92.2h0M165.4 91.4h0M165.4 91.8h0M165.4 95.6h0M165.7 89.4h0M165.7 89.1h0M166.1 92.7h0M166.9 91.0h0M167.2 94.3h0M253.1 111.4h0M253.1 111.9h0M254.0 112.7h0M254.0 114.1h0M254.1 115.0h0M254.1 110.4h0M254.7 112.4h0M255.2 111.3h0M255.2 115.2h0M264.7 160.4h0M265.1 156.1h0M265.1 162.0h0M265.6 161.7h0M265.6 160.8h0M266.1 163.0h0M266.8 155.9h0M267.4 157.6h0M267.4 152.6h0M267.6 160.2h0M267.6 161.1h0M268.1 160.1h0M268.1 154.4h0M335.1 155.9h0M335.1 153.8h0M335.9 153.6h0M336.3 154.1h0M338.0 151.6h0M340.7 146.5h0M342.2 144.0h0M342.6 142.4h0M343.7 140.9h0M343.7 139.3h0M344.5 135.1h0M344.7 139.1h0M345.1 138.0h0M345.1 137.5h0M345.1 131.8h0M346.4 128.9h0M346.4 133.5h0M346.9 132.7h0M347.2 123.1h0M347.2 123.1h0M347.2 122.5h0M348.0 127.5h0M348.0 123.0h0M363.2 127.5h0M364.0 131.7h0M364.0 127.4h0M365.0 129.6h0M365.9 130.0h0M365.9 129.3h0M365.9 130.5h0M451.6 116.8h0M452.5 118.1h0M452.5 117.2h0M452.5 116.7h0M452.8 108.8h0M453.3 107.0h0M453.3 106.0h0M453.6 138.7h0M453.6 135.9h0M454.3 136.5h0M454.6 131.5h0M454.6 120.2h0M454.6 120.5h0M455.1 130.0h0M455.1 136.5h0M455.1 136.8h0M455.1 129.0h0M455.1 137.4h0M455.7 131.0h0M455.7 124.8h0M455.7 126.8h0M456.3 138.2h0M456.8 134.6h0M458.4 137.0h0M458.6 136.1h0M458.6 138.4h0M458.6 137.8h0M546.1 126.8h0M546.6 129.6h0M546.6 131.6h0M547.6 128.5h0M548.3 131.3h0M548.3 129.3h0M549.2 129.1h0M549.7 131.2h0M550.1 129.5h0M550.7 129.4h0M551.8 132.0h0M552.4 130.5h0" stroke="#6ece58"/><path d="M153.6 84.0h0M154.5 79.0h0M154.7 80.7h0M155.4 75.3h0M155.9 82.3h0M155.9 82.8h0M156.3 72.5h0M156.8 76.4h0M156.8 78.5h0M156.8 77.0h0M157.5 81.0h0M157.5 80.5h0M157.5 76.4h0M157.5 74.5h0M157.6 73.0h0M158.1 83.2h0M158.7 81.5h0M158.7 75.1h0M159.2 85.9h0M159.2 78.9h0M159.7 79.1h0M160.1 79.7h0M160.1 80.8h0M160.1 75.5h0M160.8 81.1h0M160.8 85.8h0M160.8 77.3h0M160.8 77.6h0M160.8 80.9h0M160.8 77.2h0M161.9 79.6h0M162.1 77.8h0M162.1 85.1h0M162.1 74.3h0M163.0 76.3h0M163.0 76.7h0M163.0 82.6h0M163.0 77.0h0M163.2 81.0h0M163.2 83.7h0M163.2 80.9h0M163.9 74.6h0M164.1 81.8h0M164.1 78.7h0M164.1 74.0h0M164.6 75.3h0M164.6 74.8h0M164.6 78.2h0M165.4 88.1h0M165.4 82.2h0M165.4 88.0h0M165.7 86.8h0M166.1 88.2h0M166.1 85.3h0M166.1 85.4h0M166.1 80.5h0M166.9 74.8h0M167.2 88.9h0M253.1 104.9h0M254.0 102.4h0M254.0 96.1h0M254.1 97.1h0M254.1 100.2h0M254.1 91.4h0M254.1 99.9h0M254.1 95.7h0M254.7 99.1h0M254.7 95.8h0M254.7 108.7h0M254.7 95.0h0M254.7 108.1h0M255.2 103.2h0M255.2 108.2h0M255.2 98.1h0M255.9 103.5h0M255.9 90.6h0M255.9 104.1h0M255.9 104.7h0M255.9 106.6h0M255.9 95.8h0M256.5 105.1h0M256.5 105.2h0M256.5 106.6h0M263.0 112.1h0M263.2 110.2h0M263.2 109.5h0M263.2 110.1h0M263.6 135.8h0M263.6 144.5h0M263.6 134.5h0M263.6 146.3h0M263.6 119.2h0M263.6 112.2h0M263.6 128.2h0M263.6 109.5h0M264.5 129.1h0M264.5 120.9h0M264.5 121.2h0M264.5 120.3h0M264.5 143.9h0M264.5 139.5h0M264.5 141.3h0M264.5 114.9h0M264.7 134.2h0M264.7 144.9h0M264.7 119.0h0M264.7 143.6h0M264.7 123.3h0M264.7 141.0h0M264.7 131.5h0M264.7 111.2h0M264.7 121.0h0M265.1 119.2h0M265.1 122.4h0M265.1 137.8h0M265.1 121.2h0M265.1 128.1h0M265.1 147.7h0M265.1 130.4h0M265.6 141.7h0M265.6 135.1h0M265.6 134.1h0M265.6 148.3h0M266.1 145.1h0M266.1 151.3h0M266.1 138.7h0M266.1 143.9h0M266.1 144.6h0M266.8 148.1h0M267.4 149.5h0M267.4 150.8h0M339.0 147.4h0M339.0 147.9h0M342.2 139.6h0M342.6 137.0h0M342.6 132.3h0M342.6 138.4h0M343.4 136.6h0M343.4 137.9h0M343.7 136.5h0M343.7 128.9h0M344.5 125.9h0M344.5 127.7h0M344.5 131.7h0M344.7 132.4h0M344.7 130.3h0M345.1 125.5h0M345.1 117.8h0M345.1 127.1h0M345.9 115.6h0M345.9 117.9h0M345.9 122.0h0M345.9 122.3h0M345.9 113.4h0M346.4 113.5h0M346.4 113.9h0M346.4 111.7h0M346.9 120.9h0M347.2 114.4h0M348.0 120.8h0M348.0 112.2h0M348.3 117.4h0M348.3 114.8h0M348.7 112.9h0M363.2 124.6h0M364.0 124.9h0M365.0 123.7h0M365.1 123.9h0M365.9 126.9h0M452.8 112.4h0M452.8 112.7h0M453.3 108.6h0M453.3 111.5h0M453.3 115.8h0M453.6 106.5h0M453.6 114.4h0M453.6 115.7h0M454.3 117.1h0M454.6 117.9h0M456.3 129.1h0M456.3 129.6h0M456.3 130.4h0M456.8 128.0h0M456.8 129.0h0M457.1 129.6h0M457.1 133.7h0M457.9 135.6h0M458.4 134.6h0M458.4 133.3h0M545.2 125.6h0M545.9 124.2h0M547.6 126.6h0M549.7 127.5h0M551.8 128.3h0M552.4 127.4h0M552.4 126.6h0M552.4 126.3h0M552.8 127.7h0M553.5 129.8h0M554.1 126.3h0" stroke="#7ad151"/><path d="M155.9 59.8h0M155.9 60.6h0M156.3 66.1h0M156.3 66.6h0M156.3 57.6h0M156.3 72.0h0M156.8 60.4h0M156.8 70.9h0M156.8 59.7h0M157.5 59.9h0M157.6 67.7h0M157.6 64.9h0M157.6 66.7h0M157.6 61.7h0M158.1 69.0h0M158.1 65.8h0M158.1 61.8h0M158.1 57.7h0M158.1 62.4h0M158.1 61.9h0M158.7 64.5h0M158.7 61.5h0M158.7 58.2h0M159.2 57.8h0M159.2 59.6h0M159.7 57.0h0M159.7 68.3h0M159.7 70.7h0M160.1 65.3h0M160.1 60.3h0M160.1 68.8h0M160.1 69.2h0M160.1 60.7h0M160.1 63.3h0M160.8 69.2h0M160.8 57.7h0M161.4 64.8h0M161.4 63.1h0M161.4 67.9h0M161.4 57.8h0M161.9 72.4h0M161.9 73.0h0M161.9 64.7h0M162.1 60.6h0M162.1 71.0h0M162.1 62.0h0M162.1 70.1h0M163.0 61.3h0M163.0 72.1h0M163.0 57.0h0M163.2 62.4h0M163.2 61.2h0M163.2 73.4h0M163.2 68.2h0M163.2 72.0h0M163.9 62.9h0M163.9 57.8h0M163.9 61.3h0M164.1 58.9h0M164.1 57.4h0M164.1 57.2h0M164.1 65.6h0M164.6 62.3h0M164.6 59.3h0M165.4 62.3h0M165.4 58.0h0M165.7 57.1h0M165.7 71.0h0M165.7 65.0h0M165.7 60.5h0M166.1 60.5h0M255.9 99.5h0M255.9 75.6h0M256.5 100.7h0M256.5 90.4h0M256.5 103.1h0M256.5 94.0h0M256.5 97.0h0M256.8 91.1h0M256.8 85.0h0M256.8 103.5h0M256.8 99.3h0M256.8 90.5h0M256.8 101.8h0M257.4 101.5h0M257.4 88.3h0M257.4 98.5h0M257.8 88.8h0M257.8 96.8h0M257.8 80.7h0M257.8 89.6h0M257.8 92.3h0M257.8 94.7h0M257.8 80.1h0M258.5 103.2h0M258.5 104.8h0M258.8 101.1h0M258.8 103.2h0M258.8 102.4h0M259.3 103.9h0M259.8 105.1h0M259.8 104.9h0M259.8 104.4h0M260.7 106.5h0M261.2 107.0h0M261.2 107.2h0M262.0 106.5h0M262.0 106.2h0M263.2 107.0h0M263.6 105.5h0M263.6 107.2h0M264.5 109.1h0M264.5 106.4h0M264.7 106.0h0M335.9 141.8h0M335.9 138.0h0M335.9 142.6h0M337.0 145.1h0M337.0 146.5h0M337.0 147.3h0M337.0 135.3h0M338.1 144.3h0M338.1 137.4h0M339.0 140.8h0M339.0 136.1h0M339.6 137.7h0M339.6 142.3h0M340.3 135.2h0M340.7 137.5h0M341.3 136.6h0M341.3 139.8h0M342.2 135.7h0M342.2 136.6h0M346.4 101.8h0M346.9 108.5h0M346.9 104.4h0M346.9 100.8h0M347.2 108.2h0M347.2 104.0h0M348.3 105.4h0M348.3 106.2h0M348.3 109.7h0M348.3 106.8h0M348.7 106.8h0M363.0 120.9h0M363.2 119.4h0M363.2 119.3h0M364.0 122.5h0M364.2 119.5h0M454.3 113.0h0M454.3 114.4h0M454.6 116.5h0M456.3 121.4h0M456.8 124.7h0M457.1 123.8h0M458.6 129.0h0M459.3 133.0h0M459.7 131.7h0M459.7 133.3h0M460.1 132.9h0M547.3 121.3h0M547.3 115.3h0M547.3 110.7h0M547.3 120.3h0M547.3 114.0h0M547.6 111.2h0M547.6 114.0h0M547.6 117.0h0M548.3 112.8h0M548.3 111.9h0M548.3 104.5h0M548.3 104.9h0M548.3 113.1h0M548.3 121.0h0M548.8 98.7h0M548.8 117.4h0M548.8 122.6h0M548.8 95.0h0M548.8 99.1h0M549.2 111.9h0M549.2 118.1h0M549.2 116.4h0M549.2 96.4h0M549.2 96.5h0M549.7 110.7h0M549.7 122.3h0M549.7 100.7h0M549.7 99.4h0M550.1 102.1h0M550.1 121.9h0M550.1 102.5h0M550.1 115.5h0M550.1 101.5h0M550.7 122.0h0M550.7 108.2h0M550.7 123.4h0M550.7 121.1h0M551.4 105.6h0M551.4 123.3h0M551.4 118.1h0M551.4 103.9h0M551.4 104.8h0M552.4 122.5h0M552.4 119.2h0M553.5 121.5h0" stroke="#86d549"/><path d="M156.8 51.9h0M157.5 55.0h0M157.6 51.4h0M157.6 48.2h0M158.7 56.2h0M158.7 50.8h0M158.7 54.6h0M159.2 49.2h0M159.2 48.2h0M159.7 56.3h0M159.7 54.1h0M159.7 52.5h0M160.8 54.2h0M160.8 51.2h0M161.4 50.7h0M161.4 53.3h0M161.4 50.8h0M161.4 51.1h0M161.9 50.9h0M161.9 55.0h0M161.9 50.1h0M162.1 48.4h0M162.1 49.4h0M162.1 55.3h0M163.0 54.9h0M163.2 50.5h0M163.2 49.4h0M163.9 49.6h0M163.9 53.2h0M163.9 55.8h0M164.1 50.3h0M165.4 55.1h0M165.7 53.3h0M255.2 70.2h0M255.2 73.0h0M255.2 72.5h0M255.9 70.6h0M256.5 73.7h0M256.8 71.4h0M257.8 78.7h0M257.8 73.1h0M258.5 90.0h0M258.5 92.4h0M258.8 75.2h0M258.8 83.2h0M258.8 77.7h0M258.8 83.7h0M258.8 97.9h0M259.3 90.5h0M259.3 96.2h0M259.3 75.2h0M259.3 80.4h0M259.3 72.4h0M259.3 83.1h0M259.8 84.9h0M259.8 80.2h0M259.8 82.8h0M259.8 97.5h0M259.8 100.4h0M259.8 79.9h0M260.3 75.4h0M260.3 80.3h0M260.3 81.0h0M260.3 74.5h0M260.3 82.5h0M260.7 102.1h0M260.7 100.8h0M261.2 102.4h0M261.2 73.3h0M261.2 79.9h0M261.2 75.6h0M262.0 76.6h0M262.0 75.0h0M262.0 77.2h0M262.1 78.5h0M262.1 79.6h0M263.0 101.3h0M263.0 101.3h0M263.6 104.0h0M264.7 103.0h0M346.9 94.5h0M347.2 98.6h0M347.2 91.4h0M348.0 101.5h0M348.0 92.5h0M348.0 99.5h0M348.0 91.8h0M348.3 90.1h0M348.3 92.0h0M348.3 98.5h0M348.7 100.9h0M348.7 90.3h0M348.7 92.9h0M362.5 113.0h0M364.0 118.5h0M365.0 116.8h0M365.1 113.4h0M455.1 103.2h0M455.1 111.7h0M455.1 105.3h0M455.7 104.6h0M456.3 114.5h0M456.8 120.0h0M457.1 121.0h0M457.9 120.6h0M458.4 126.1h0M458.6 126.1h0M459.3 127.0h0M460.1 127.7h0M548.8 89.9h0M550.1 94.5h0M550.1 95.5h0M551.4 108.9h0M551.4 95.8h0M551.4 113.2h0M551.8 111.9h0M551.8 107.4h0M551.8 104.9h0M551.8 111.7h0M551.8 113.1h0M551.8 100.9h0M551.8 95.9h0M551.8 110.1h0M552.4 105.0h0M552.4 115.9h0M552.8 103.0h0M552.8 100.8h0M552.8 110.3h0M552.8 103.7h0M552.8 117.2h0M552.8 115.5h0M552.8 111.7h0M553.5 107.6h0M553.5 107.3h0M553.5 103.7h0M553.5 102.8h0M553.5 101.2h0M553.9 103.5h0M554.1 106.0h0M554.1 114.5h0M554.6 109.2h0M554.6 117.5h0M555.4 114.7h0M555.4 111.7h0M555.9 117.7h0M555.9 118.1h0M556.5 117.5h0M556.8 118.5h0M556.8 117.8h0M558.3 118.1h0M559.4 119.9h0M559.8 117.8h0" stroke="#95d840"/><path d="M157.6 47.7h0M158.1 46.7h0M158.7 44.5h0M159.7 42.5h0M160.1 42.3h0M161.4 48.0h0M161.4 47.7h0M161.9 47.8h0M161.9 45.8h0M163.9 44.7h0M163.9 46.9h0M164.1 41.6h0M164.6 44.8h0M164.6 44.2h0M256.8 66.9h0M257.4 65.3h0M257.4 64.9h0M258.5 69.7h0M258.8 68.0h0M259.3 69.1h0M260.3 90.9h0M260.3 69.5h0M260.3 71.1h0M260.7 66.4h0M260.7 86.5h0M260.7 92.1h0M261.2 85.5h0M261.2 83.1h0M261.2 69.2h0M262.0 67.5h0M262.0 67.8h0M262.0 96.4h0M262.0 71.4h0M262.0 81.4h0M262.1 70.8h0M262.1 68.8h0M262.1 80.1h0M262.1 87.6h0M262.1 68.2h0M263.0 89.8h0M263.0 97.0h0M263.0 86.2h0M263.0 87.5h0M263.0 97.6h0M263.0 84.3h0M263.2 71.5h0M263.2 90.6h0M263.2 93.9h0M263.2 68.7h0M263.2 81.9h0M263.6 97.0h0M263.6 73.4h0M263.6 82.0h0M263.6 76.9h0M264.5 84.0h0M264.5 91.3h0M264.5 84.0h0M348.0 86.4h0M348.0 79.3h0M348.0 85.0h0M348.7 82.0h0M348.7 79.8h0M348.7 86.0h0M348.7 80.3h0M349.5 82.5h0M349.5 79.8h0M359.6 77.1h0M359.6 75.0h0M360.4 80.7h0M360.7 84.9h0M360.7 77.9h0M360.7 78.9h0M361.1 81.3h0M361.1 76.1h0M361.1 88.3h0M361.1 84.7h0M361.8 80.7h0M361.8 96.0h0M361.8 92.9h0M361.8 87.0h0M361.8 99.8h0M362.5 81.0h0M362.5 99.4h0M362.5 109.4h0M362.5 80.1h0M362.5 109.0h0M362.5 83.9h0M362.5 78.1h0M362.5 90.4h0M362.5 94.2h0M362.5 107.9h0M363.0 111.1h0M363.0 111.9h0M363.0 96.6h0M363.0 80.3h0M363.0 76.0h0M363.0 104.6h0M363.0 94.3h0M363.0 92.6h0M363.2 91.7h0M363.2 93.4h0M363.2 92.7h0M363.2 78.3h0M363.2 77.9h0M363.2 91.5h0M363.2 93.0h0M364.0 105.7h0M364.0 92.7h0M364.0 102.0h0M364.0 94.6h0M364.0 86.4h0M364.2 89.2h0M364.2 99.3h0M364.2 87.8h0M364.2 91.9h0M364.2 98.8h0M364.2 105.7h0M364.2 108.4h0M455.7 105.9h0M456.3 103.6h0M456.8 113.0h0M457.1 101.9h0M457.1 99.8h0M458.4 122.5h0M458.4 122.2h0M458.4 119.5h0M458.6 118.5h0M459.3 115.1h0M459.7 116.0h0M460.1 125.9h0M460.1 121.2h0M460.1 120.6h0M548.8 88.2h0M549.2 82.5h0M549.2 82.7h0M549.7 86.1h0M549.7 90.0h0M549.7 80.9h0M549.7 86.1h0M550.1 88.2h0M550.1 79.1h0M550.7 88.3h0M550.7 83.3h0M550.7 77.6h0M550.7 86.8h0M551.4 93.8h0M551.4 76.9h0M553.5 80.3h0M553.5 77.0h0M553.5 77.4h0M553.9 101.9h0M553.9 100.4h0M553.9 102.2h0M553.9 78.7h0M554.1 79.0h0M554.6 102.1h0M555.4 108.6h0M555.9 109.2h0M556.5 113.2h0M556.5 108.8h0M556.8 108.8h0M556.8 110.6h0M557.1 108.0h0M557.1 113.6h0M557.9 114.6h0M557.9 111.6h0M558.3 114.6h0M558.3 110.9h0M558.6 109.9h0M558.6 114.4h0M558.6 111.8h0M559.4 110.7h0M559.4 116.7h0M559.8 115.0h0" stroke="#a2da37"/><path d="M256.5 54.2h0M256.8 52.4h0M256.8 61.1h0M257.4 62.3h0M257.4 59.0h0M257.4 59.2h0M257.4 56.3h0M257.4 62.7h0M257.8 60.1h0M258.5 62.5h0M258.5 62.6h0M258.5 52.7h0M258.5 52.5h0M258.5 54.0h0M258.8 60.6h0M259.3 54.7h0M259.3 58.2h0M259.8 57.3h0M260.7 63.4h0M260.7 57.2h0M261.2 62.7h0M262.1 60.5h0M263.0 65.2h0M263.2 60.9h0M263.6 62.0h0M263.6 64.8h0M263.6 61.0h0M348.0 76.8h0M348.3 73.7h0M348.3 73.8h0M348.7 73.0h0M349.5 75.9h0M349.5 63.2h0M349.5 62.8h0M349.5 60.6h0M349.8 65.0h0M349.8 77.7h0M349.8 71.5h0M349.8 54.6h0M349.8 72.3h0M349.8 59.8h0M350.4 66.4h0M350.4 60.6h0M350.4 56.4h0M350.4 67.4h0M350.4 59.7h0M350.4 69.8h0M350.9 54.5h0M350.9 50.7h0M350.9 66.9h0M350.9 63.6h0M351.3 70.6h0M351.3 71.2h0M351.3 53.4h0M351.6 73.8h0M351.6 73.9h0M351.6 62.7h0M351.6 63.2h0M351.6 55.9h0M352.4 58.6h0M352.4 54.7h0M352.4 58.2h0M352.7 53.0h0M352.7 67.5h0M352.7 58.8h0M352.7 58.0h0M352.7 70.5h0M353.5 60.1h0M353.5 61.5h0M353.5 73.4h0M353.6 63.2h0M353.6 60.2h0M353.6 55.9h0M353.6 68.4h0M353.6 71.4h0M353.6 63.9h0M354.1 56.7h0M354.1 62.3h0M354.1 65.6h0M354.1 66.7h0M354.6 66.1h0M354.6 64.9h0M355.1 61.4h0M355.1 57.9h0M355.1 62.9h0M355.1 67.4h0M355.9 60.5h0M355.9 69.3h0M355.9 63.2h0M356.3 64.8h0M356.3 61.6h0M356.3 70.9h0M356.3 67.9h0M356.3 68.6h0M356.6 61.9h0M356.6 69.7h0M356.6 73.9h0M356.6 69.8h0M357.2 65.8h0M357.2 65.7h0M357.2 68.1h0M357.6 69.1h0M357.6 66.9h0M358.1 65.4h0M358.1 71.6h0M358.1 67.7h0M358.1 69.8h0M359.0 65.3h0M359.0 69.8h0M359.0 72.9h0M359.2 68.8h0M359.2 66.4h0M360.4 65.7h0M360.7 68.8h0M360.7 67.5h0M363.0 68.2h0M363.0 70.9h0M363.2 68.7h0M456.8 105.3h0M456.8 107.3h0M457.9 104.2h0M457.9 108.6h0M457.9 108.1h0M457.9 102.1h0M458.6 105.2h0M459.3 101.8h0M459.3 109.8h0M459.3 109.3h0M459.7 109.5h0M459.7 111.3h0M551.4 90.0h0M551.8 85.9h0M552.4 85.6h0M552.4 87.7h0M552.4 86.1h0M552.8 85.5h0M552.8 86.9h0M553.9 96.2h0M554.1 95.7h0M554.1 95.9h0M554.6 99.2h0M554.6 96.9h0M554.6 81.4h0M555.9 102.9h0M555.9 101.8h0M558.3 104.9h0M558.3 103.9h0M558.6 105.3h0M558.6 104.8h0M558.6 107.7h0" stroke="#b0dd2f"/><path d="M260.3 53.8h0M260.3 50.4h0M262.1 56.2h0M262.1 52.9h0M350.9 45.7h0M351.3 48.4h0M351.3 47.5h0M352.4 46.9h0M353.5 51.4h0M355.1 55.6h0M355.1 57.2h0M355.1 57.0h0M355.9 53.5h0M355.9 57.8h0M356.3 59.9h0M356.6 54.0h0M357.2 60.6h0M357.2 60.0h0M359.0 63.0h0M359.2 60.7h0M360.4 62.5h0M360.4 63.4h0M360.4 58.7h0M360.4 64.8h0M361.1 65.5h0M361.1 60.9h0M455.7 94.8h0M455.7 94.2h0M455.7 95.1h0M455.7 90.2h0M456.8 88.5h0M457.1 91.6h0M457.1 89.1h0M457.1 90.2h0M458.4 90.8h0M458.4 95.5h0M458.4 94.8h0M458.6 90.0h0M458.6 90.4h0M458.6 92.6h0M458.6 88.8h0M552.8 89.8h0M553.5 87.0h0M553.9 89.4h0M553.9 93.9h0M553.9 92.3h0M553.9 90.2h0M554.1 92.6h0M554.1 92.9h0M554.1 87.7h0M554.6 96.8h0M555.4 98.5h0M555.4 97.5h0M555.4 98.5h0M556.5 99.0h0M556.8 98.9h0M557.9 99.2h0M558.3 101.8h0" stroke="#bddf26"/><path d="M260.3 48.4h0M260.7 47.5h0M260.7 50.0h0M260.7 48.3h0M261.2 45.0h0M262.0 48.3h0M262.1 50.3h0M263.0 47.0h0M263.0 48.4h0M263.2 47.0h0M263.2 50.2h0M350.9 42.5h0M351.3 38.9h0M351.3 43.1h0M351.6 41.2h0M351.6 36.6h0M352.4 38.3h0M352.4 39.7h0M352.4 40.1h0M352.4 36.7h0M352.7 35.2h0M352.7 46.3h0M352.7 46.8h0M352.7 44.3h0M353.5 27.2h0M353.5 42.9h0M353.5 18.9h0M353.5 18.8h0M353.5 29.8h0M353.6 23.7h0M354.1 18.4h0M354.1 25.7h0M354.1 48.2h0M354.6 46.5h0M354.6 27.1h0M354.6 45.7h0M354.6 24.5h0M355.1 51.1h0M355.1 47.1h0M355.1 13.3h0M355.9 48.4h0M355.9 28.1h0M355.9 52.5h0M355.9 16.1h0M355.9 16.4h0M355.9 49.0h0M356.3 13.7h0M356.3 14.8h0M356.3 17.0h0M356.6 51.3h0M356.6 16.0h0M356.6 20.8h0M356.6 20.1h0M357.2 17.7h0M357.2 25.3h0M357.2 18.8h0M357.6 51.2h0M358.1 54.9h0M358.1 54.2h0M359.0 53.5h0M359.2 53.2h0M359.2 53.0h0M359.2 56.2h0M359.6 53.6h0M361.8 54.5h0M554.6 89.6h0M555.4 90.9h0M555.9 85.0h0M555.9 86.2h0M556.5 86.9h0M556.5 92.1h0M556.5 88.3h0M556.8 95.5h0M556.8 91.0h0M557.1 91.0h0M557.1 92.5h0M557.1 97.0h0M557.1 84.1h0M557.1 97.1h0M557.9 85.6h0M557.9 85.7h0M557.9 89.1h0M557.9 96.6h0M558.3 96.1h0M558.6 90.4h0" stroke="#cae11f"/><path d="M353.5 32.3h0M353.6 34.8h0M353.6 36.6h0M353.6 36.7h0M354.1 34.3h0M354.1 31.2h0M354.1 37.6h0M354.1 39.2h0M354.6 40.7h0M354.6 40.0h0M354.6 32.1h0M354.6 37.0h0M354.6 35.0h0M355.1 37.3h0M356.3 46.1h0M356.3 30.9h0M356.6 45.2h0M356.6 33.8h0M357.2 49.7h0M357.2 31.1h0M357.2 40.9h0M357.6 45.4h0M357.6 36.9h0M357.6 34.3h0M357.6 38.5h0M358.1 44.1h0M359.0 49.4h0M359.0 41.3h0M359.2 52.2h0M359.6 46.3h0M359.6 52.5h0M359.6 45.3h0M359.6 46.6h0M360.4 51.1h0M360.4 49.3h0M360.7 52.9h0M360.7 39.0h0M360.7 43.7h0M361.1 51.2h0M361.1 39.9h0M361.1 44.7h0M361.8 46.0h0M361.8 50.3h0M361.8 42.5h0M361.8 40.7h0M361.8 49.7h0" stroke="#d8e219"/></g>
<rect x="59.9" y="0.2" width="522.50" height="319.60" fill="none" stroke="#333" stroke-width="1.4"/>
<path d="M55.3 25.15H59.9M55.3 87.83H59.9M55.3 150.51H59.9M55.3 213.19H59.9M55.3 275.87H59.9M62.95 319.8V324.10M160.90 319.8V324.10M258.85 319.8V324.10M356.80 319.8V324.10M454.75 319.8V324.10M552.71 319.8V324.10" stroke="#333" stroke-width="1.4" fill="none"/>
<text x="52.3" y="29.75" font-family="'Liberation Sans', sans-serif" font-size="12" text-anchor="end" fill="#1a1a1a">12</text>
<rect x="31.1" y="25.90" width="6.4" height="1.2" fill="#1a1a1a"/>
<text x="52.3" y="92.43" font-family="'Liberation Sans', sans-serif" font-size="12" text-anchor="end" fill="#1a1a1a">14</text>
<rect x="31.1" y="88.58" width="6.4" height="1.2" fill="#1a1a1a"/>
<text x="52.3" y="155.11" font-family="'Liberation Sans', sans-serif" font-size="12" text-anchor="end" fill="#1a1a1a">16</text>
<rect x="31.1" y="151.26" width="6.4" height="1.2" fill="#1a1a1a"/>
<text x="52.3" y="217.79" font-family="'Liberation Sans', sans-serif" font-size="12" text-anchor="end" fill="#1a1a1a">18</text>
<rect x="31.1" y="213.94" width="6.4" height="1.2" fill="#1a1a1a"/>
<text x="52.3" y="280.47" font-family="'Liberation Sans', sans-serif" font-size="12" text-anchor="end" fill="#1a1a1a">20</text>
<rect x="31.1" y="276.62" width="6.4" height="1.2" fill="#1a1a1a"/>
<text x="62.95" y="336.0" font-family="'Liberation Sans', sans-serif" font-size="12" text-anchor="middle" fill="#1a1a1a">Sep 23</text>
<text x="160.90" y="336.0" font-family="'Liberation Sans', sans-serif" font-size="12" text-anchor="middle" fill="#1a1a1a">Sep 30</text>
<text x="258.85" y="336.0" font-family="'Liberation Sans', sans-serif" font-size="12" text-anchor="middle" fill="#1a1a1a">Oct 07</text>
<text x="356.80" y="336.0" font-family="'Liberation Sans', sans-serif" font-size="12" text-anchor="middle" fill="#1a1a1a">Oct 14</text>
<text x="454.75" y="336.0" font-family="'Liberation Sans', sans-serif" font-size="12" text-anchor="middle" fill="#1a1a1a">Oct 21</text>
<text x="552.71" y="336.0" font-family="'Liberation Sans', sans-serif" font-size="12" text-anchor="middle" fill="#1a1a1a">Oct 28</text>
<text x="321.15" y="358.8" font-family="'Liberation Sans', sans-serif" font-size="15" text-anchor="middle" fill="#000">Date</text>
<text transform="translate(17.8 223.4) rotate(-90)" font-family="'Liberation Sans', sans-serif" font-size="16" fill="#000">δ</text>
<text transform="translate(9.6 215.6) rotate(-90)" font-family="'Liberation Sans', sans-serif" font-size="11.5" fill="#000">13</text>
<text transform="translate(17.8 203.5) rotate(-90)" font-family="'Liberation Sans', sans-serif" font-size="16" letter-spacing="0.12" fill="#000">C / ‰ vs VPDB</text>
<rect x="606.3" y="113.1" width="25.10" height="124.20" fill="url(#cb)"/>
<path d="M606.3 137.4h5M626.4 137.4h5M606.3 167.7h5M626.4 167.7h5M606.3 197.4h5M626.4 197.4h5M606.3 227.2h5M626.4 227.2h5" stroke="#fff" stroke-width="1" fill="none"/>
<text x="640.7" y="141.90" font-family="'Liberation Sans', sans-serif" font-size="12" fill="#1a1a1a">1400</text>
<text x="640.7" y="172.20" font-family="'Liberation Sans', sans-serif" font-size="12" fill="#1a1a1a">1200</text>
<text x="640.7" y="201.90" font-family="'Liberation Sans', sans-serif" font-size="12" fill="#1a1a1a">1000</text>
<text x="640.7" y="231.70" font-family="'Liberation Sans', sans-serif" font-size="12" fill="#1a1a1a">800</text>
<text x="606.2" y="99.4" font-family="'Liberation Sans', sans-serif" font-size="16" fill="#000">CO</text>
<text x="630.1" y="101.7" font-family="'Liberation Sans', sans-serif" font-size="11.5" fill="#000">2</text>
<path d="M638.7 101.6L642.6 86.3" stroke="#000" stroke-width="1.25" fill="none"/>
<text x="644.9" y="99.4" font-family="'Liberation Sans', sans-serif" font-size="16" fill="#000">ppmV</text>
</svg></body></html>
